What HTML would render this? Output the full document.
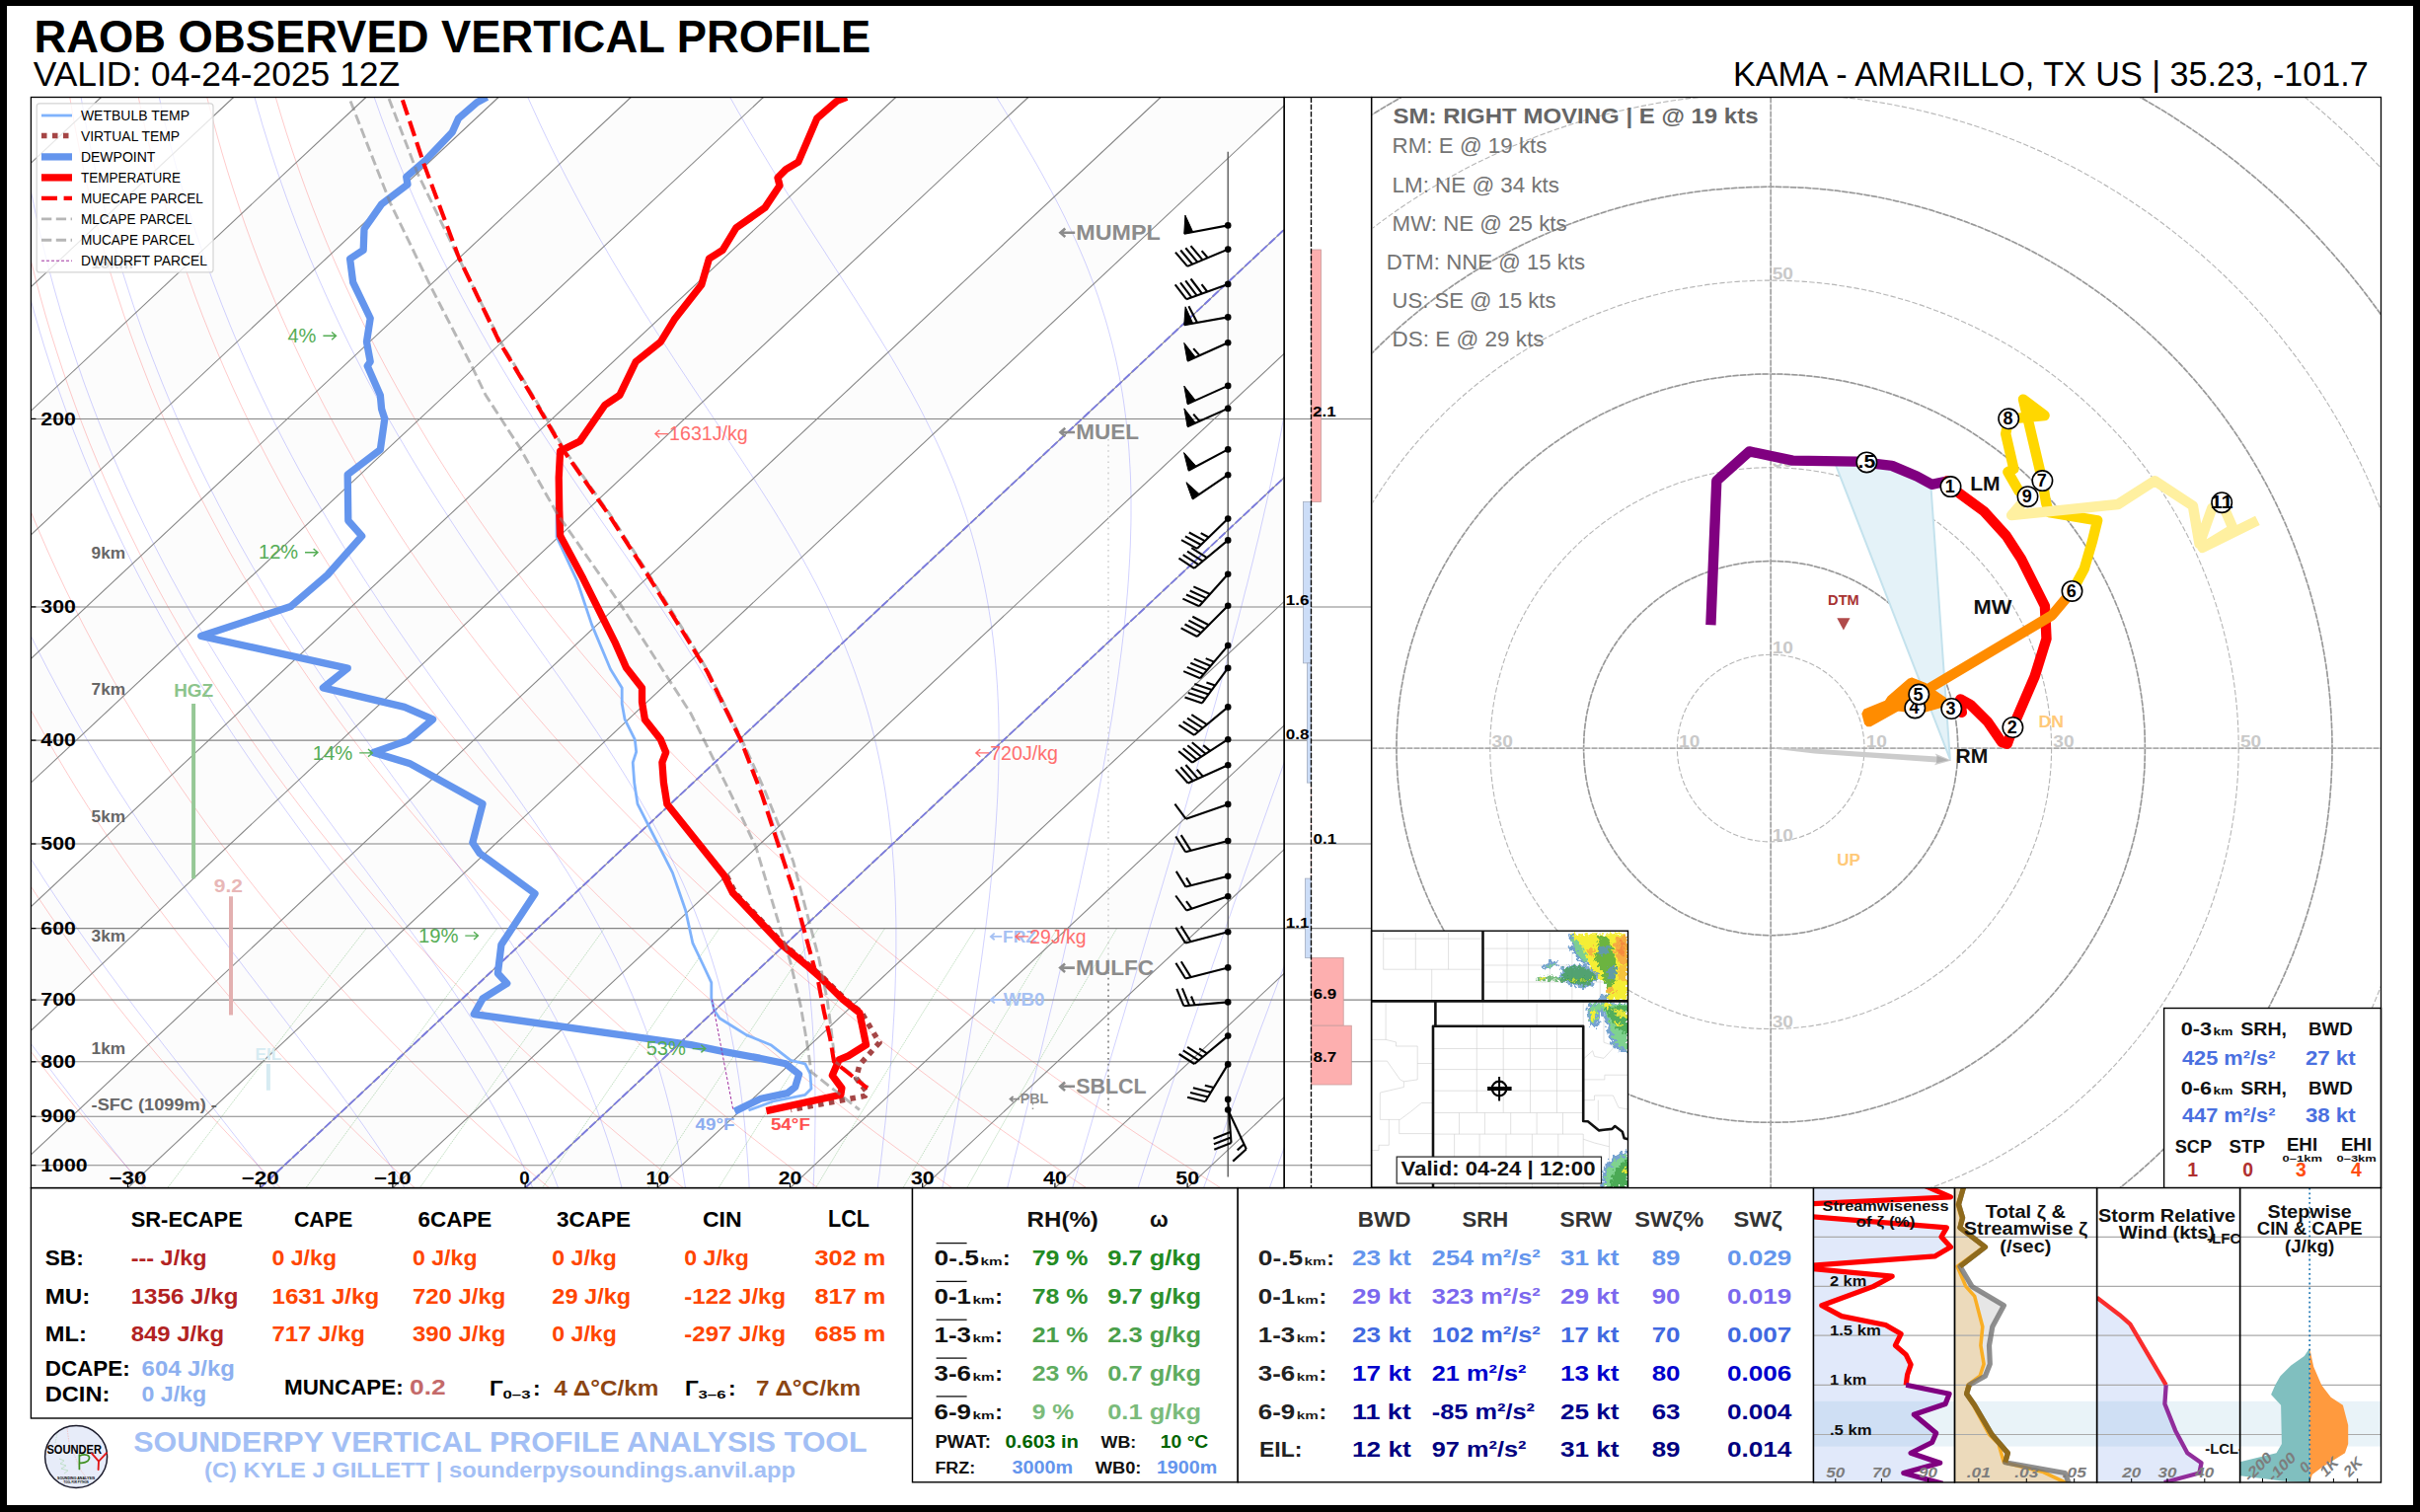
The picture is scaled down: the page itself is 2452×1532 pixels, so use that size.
<!DOCTYPE html>
<html><head><meta charset="utf-8"><title>RAOB Observed Vertical Profile</title>
<style>html,body{margin:0;padding:0;background:#000;}svg{display:block;font-family:"Liberation Sans",sans-serif;}</style></head>
<body>
<svg width="2452" height="1532" viewBox="0 0 2452 1532">
<rect x="0" y="0" width="2452" height="1532" fill="#000" stroke="none" stroke-width="1" />
<rect x="7" y="6" width="2438" height="1519" fill="#fff" stroke="none" stroke-width="1" />
<text x="34.4" y="52.6" font-size="45.8" fill="#000" font-weight="bold" textLength="847.9" lengthAdjust="spacingAndGlyphs" >RAOB OBSERVED VERTICAL PROFILE</text>
<text x="33.7" y="86.8" font-size="35" fill="#000" textLength="371.5" lengthAdjust="spacingAndGlyphs" >VALID: 04-24-2025 12Z</text>
<text x="1755.9" y="86.8" font-size="35" fill="#000" textLength="643.9" lengthAdjust="spacingAndGlyphs" >KAMA - AMARILLO, TX US | 35.23, -101.7</text>
<defs><clipPath id="skc"><rect x="31.4" y="98.5" width="1269.8" height="1105.1"/></clipPath></defs>
<g clip-path="url(#skc)">
<polygon points="-1615.1,1203.6 -434.3,98.5 -300.1,98.5 -1480.9,1203.6" fill="#fcfcfc" stroke="none" stroke-width="1" />
<polygon points="-1346.7,1203.6 -165.9,98.5 -31.7,98.5 -1212.5,1203.6" fill="#fcfcfc" stroke="none" stroke-width="1" />
<polygon points="-1078.3,1203.6 102.5,98.5 236.7,98.5 -944.1,1203.6" fill="#fcfcfc" stroke="none" stroke-width="1" />
<polygon points="-809.9,1203.6 370.9,98.5 505.1,98.5 -675.7,1203.6" fill="#fcfcfc" stroke="none" stroke-width="1" />
<polygon points="-541.5,1203.6 639.3,98.5 773.5,98.5 -407.3,1203.6" fill="#fcfcfc" stroke="none" stroke-width="1" />
<polygon points="-273.1,1203.6 907.7,98.5 1041.9,98.5 -138.9,1203.6" fill="#fcfcfc" stroke="none" stroke-width="1" />
<polygon points="-4.7,1203.6 1176.1,98.5 1310.3,98.5 129.5,1203.6" fill="#fcfcfc" stroke="none" stroke-width="1" />
<polygon points="263.7,1203.6 1444.5,98.5 1578.7,98.5 397.9,1203.6" fill="#fcfcfc" stroke="none" stroke-width="1" />
<polygon points="532.1,1203.6 1712.9,98.5 1847.1,98.5 666.3,1203.6" fill="#fcfcfc" stroke="none" stroke-width="1" />
<polygon points="800.5,1203.6 1981.3,98.5 2115.5,98.5 934.7,1203.6" fill="#fcfcfc" stroke="none" stroke-width="1" />
<polygon points="1068.9,1203.6 2249.7,98.5 2383.9,98.5 1203.1,1203.6" fill="#fcfcfc" stroke="none" stroke-width="1" />
<polyline points="371.2,940.6 362.2,952.2 353.4,963.6 344.9,974.6 336.6,985.4 328.4,996 320.5,1006.3 312.7,1016.4 305.1,1026.3 297.6,1036 290.3,1045.5 283.2,1054.8 276.2,1063.9 269.3,1072.9 262.6,1081.7 256,1090.3 249.5,1098.8 243.2,1107.1 236.9,1115.3 230.8,1123.3 224.8,1131.2 218.9,1138.9 213.1,1146.6 207.3,1154.1 201.7,1161.5 196.2,1168.8 190.7,1176 185.4,1183 180.1,1190 174.9,1196.9 169.7,1203.6" fill="none" stroke="#008000" stroke-width="0.7" opacity="0.35" stroke-dasharray="1.5 0.8"/>
<polyline points="503.7,940.6 495,952.2 486.6,963.6 478.4,974.6 470.3,985.4 462.5,996 454.8,1006.3 447.4,1016.4 440,1026.3 432.9,1036 425.9,1045.5 419,1054.8 412.3,1063.9 405.7,1072.9 399.2,1081.7 392.9,1090.3 386.6,1098.8 380.5,1107.1 374.5,1115.3 368.6,1123.3 362.9,1131.2 357.2,1138.9 351.6,1146.6 346.1,1154.1 340.7,1161.5 335.4,1168.8 330.1,1176 325,1183 319.9,1190 314.9,1196.9 310,1203.6" fill="none" stroke="#008000" stroke-width="0.7" opacity="0.35" stroke-dasharray="1.5 0.8"/>
<polyline points="612.4,940.6 604,952.2 595.8,963.6 587.9,974.6 580.1,985.4 572.5,996 565.1,1006.3 557.9,1016.4 550.8,1026.3 543.9,1036 537.1,1045.5 530.5,1054.8 524,1063.9 517.6,1072.9 511.4,1081.7 505.2,1090.3 499.2,1098.8 493.3,1107.1 487.5,1115.3 481.9,1123.3 476.3,1131.2 470.8,1138.9 465.4,1146.6 460.1,1154.1 454.9,1161.5 449.8,1168.8 444.7,1176 439.8,1183 434.9,1190 430.1,1196.9 425.3,1203.6" fill="none" stroke="#008000" stroke-width="0.7" opacity="0.35" stroke-dasharray="1.5 0.8"/>
<polyline points="729,940.6 721,952.2 713.1,963.6 705.5,974.6 698,985.4 690.7,996 683.6,1006.3 676.6,1016.4 669.8,1026.3 663.2,1036 656.7,1045.5 650.3,1054.8 644,1063.9 637.9,1072.9 631.9,1081.7 626,1090.3 620.3,1098.8 614.6,1107.1 609.1,1115.3 603.6,1123.3 598.3,1131.2 593,1138.9 587.8,1146.6 582.7,1154.1 577.7,1161.5 572.8,1168.8 568,1176 563.2,1183 558.6,1190 554,1196.9 549.4,1203.6" fill="none" stroke="#008000" stroke-width="0.7" opacity="0.35" stroke-dasharray="1.5 0.8"/>
<polyline points="829.5,940.6 821.7,952.2 814.1,963.6 806.8,974.6 799.6,985.4 792.5,996 785.6,1006.3 778.9,1016.4 772.4,1026.3 766,1036 759.7,1045.5 753.5,1054.8 747.5,1063.9 741.6,1072.9 735.9,1081.7 730.2,1090.3 724.6,1098.8 719.2,1107.1 713.8,1115.3 708.6,1123.3 703.4,1131.2 698.4,1138.9 693.4,1146.6 688.5,1154.1 683.7,1161.5 679,1168.8 674.4,1176 669.8,1183 665.3,1190 660.9,1196.9 656.5,1203.6" fill="none" stroke="#008000" stroke-width="0.7" opacity="0.35" stroke-dasharray="1.5 0.8"/>
<polyline points="896.6,940.6 889,952.2 881.6,963.6 874.4,974.6 867.4,985.4 860.5,996 853.8,1006.3 847.3,1016.4 840.9,1026.3 834.6,1036 828.5,1045.5 822.5,1054.8 816.7,1063.9 810.9,1072.9 805.3,1081.7 799.8,1090.3 794.4,1098.8 789.1,1107.1 783.9,1115.3 778.8,1123.3 773.8,1131.2 768.8,1138.9 764,1146.6 759.3,1154.1 754.6,1161.5 750,1168.8 745.5,1176 741,1183 736.6,1190 732.3,1196.9 728.1,1203.6" fill="none" stroke="#008000" stroke-width="0.7" opacity="0.35" stroke-dasharray="1.5 0.8"/>
<polyline points="988.6,940.6 981.3,952.2 974.2,963.6 967.2,974.6 960.5,985.4 953.8,996 947.4,1006.3 941.1,1016.4 934.9,1026.3 928.9,1036 923,1045.5 917.3,1054.8 911.6,1063.9 906.1,1072.9 900.7,1081.7 895.4,1090.3 890.2,1098.8 885.1,1107.1 880.1,1115.3 875.2,1123.3 870.4,1131.2 865.6,1138.9 861,1146.6 856.4,1154.1 851.9,1161.5 847.5,1168.8 843.2,1176 838.9,1183 834.7,1190 830.6,1196.9 826.5,1203.6" fill="none" stroke="#008000" stroke-width="0.7" opacity="0.35" stroke-dasharray="1.5 0.8"/>
<polyline points="1071.3,940.6 1064.2,952.2 1057.3,963.6 1050.6,974.6 1044.1,985.4 1037.7,996 1031.4,1006.3 1025.4,1016.4 1019.4,1026.3 1013.6,1036 1007.9,1045.5 1002.4,1054.8 996.9,1063.9 991.6,1072.9 986.4,1081.7 981.3,1090.3 976.3,1098.8 971.4,1107.1 966.6,1115.3 961.8,1123.3 957.2,1131.2 952.6,1138.9 948.2,1146.6 943.8,1154.1 939.5,1161.5 935.2,1168.8 931,1176 926.9,1183 922.9,1190 918.9,1196.9 915,1203.6" fill="none" stroke="#008000" stroke-width="0.7" opacity="0.35" stroke-dasharray="1.5 0.8"/>
<polyline points="1131.6,940.6 1124.7,952.2 1118,963.6 1111.4,974.6 1105.1,985.4 1098.9,996 1092.8,1006.3 1086.9,1016.4 1081.1,1026.3 1075.5,1036 1069.9,1045.5 1064.5,1054.8 1059.2,1063.9 1054.1,1072.9 1049,1081.7 1044,1090.3 1039.2,1098.8 1034.4,1107.1 1029.7,1115.3 1025.1,1123.3 1020.6,1131.2 1016.2,1138.9 1011.9,1146.6 1007.6,1154.1 1003.4,1161.5 999.3,1168.8 995.2,1176 991.3,1183 987.4,1190 983.5,1196.9 979.7,1203.6" fill="none" stroke="#008000" stroke-width="0.7" opacity="0.35" stroke-dasharray="1.5 0.8"/>
<polyline points="-346.2,98.7 -347.8,117.1 -349.2,135.5 -350.4,153.9 -351.4,172.3 -352.1,190.7 -352.7,209.2 -353,227.6 -353.1,246 -353,264.4 -352.7,282.8 -352.1,301.2 -351.3,319.7 -350.3,338.1 -349.1,356.5 -347.6,374.9 -345.8,393.3 -343.9,411.7 -341.7,430.1 -339.2,448.6 -336.5,467 -333.6,485.4 -330.4,503.8 -326.9,522.2 -323.2,540.6 -319.2,559.1 -314.9,577.5 -310.4,595.9 -305.6,614.3 -300.5,632.7 -295.2,651.1 -289.5,669.6 -283.6,688 -277.4,706.4 -270.9,724.8 -264.1,743.2 -257,761.6 -249.6,780.1 -241.9,798.5 -233.9,816.9 -225.6,835.3 -216.9,853.7 -208,872.1 -198.7,890.5 -189.1,909 -179.2,927.4 -168.9,945.8 -158.3,964.2 -147.4,982.6 -136.1,1001 -124.4,1019.5 -112.5,1037.9 -100.1,1056.3 -87.4,1074.7 -74.3,1093.1 -60.9,1111.5 -47.1,1130 -32.9,1148.4 -18.3,1166.8 -3.4,1185.2 12,1203.6" fill="none" stroke="#ff0000" stroke-width="0.7" opacity="0.3"/>
<polyline points="-276.7,98.7 -277.5,117.1 -278.1,135.5 -278.5,153.9 -278.7,172.3 -278.6,190.7 -278.3,209.2 -277.8,227.6 -277.1,246 -276.1,264.4 -274.9,282.8 -273.5,301.2 -271.8,319.7 -269.9,338.1 -267.7,356.5 -265.3,374.9 -262.7,393.3 -259.8,411.7 -256.6,430.1 -253.2,448.6 -249.6,467 -245.6,485.4 -241.4,503.8 -237,522.2 -232.2,540.6 -227.2,559.1 -221.9,577.5 -216.3,595.9 -210.5,614.3 -204.3,632.7 -197.9,651.1 -191.2,669.6 -184.1,688 -176.8,706.4 -169.2,724.8 -161.2,743.2 -153,761.6 -144.4,780.1 -135.5,798.5 -126.3,816.9 -116.8,835.3 -106.9,853.7 -96.7,872.1 -86.2,890.5 -75.3,909 -64.1,927.4 -52.6,945.8 -40.7,964.2 -28.4,982.6 -15.8,1001 -2.8,1019.5 10.6,1037.9 24.3,1056.3 38.4,1074.7 52.9,1093.1 67.8,1111.5 83,1130 98.7,1148.4 114.8,1166.8 131.2,1185.2 148.1,1203.6" fill="none" stroke="#ff0000" stroke-width="0.7" opacity="0.3"/>
<polyline points="-207.2,98.7 -207.2,117.1 -207,135.5 -206.6,153.9 -206,172.3 -205.1,190.7 -204,209.2 -202.6,227.6 -201.1,246 -199.2,264.4 -197.2,282.8 -194.9,301.2 -192.3,319.7 -189.5,338.1 -186.4,356.5 -183.1,374.9 -179.6,393.3 -175.7,411.7 -171.6,430.1 -167.2,448.6 -162.6,467 -157.7,485.4 -152.5,503.8 -147,522.2 -141.3,540.6 -135.2,559.1 -128.9,577.5 -122.3,595.9 -115.4,614.3 -108.2,632.7 -100.6,651.1 -92.8,669.6 -84.7,688 -76.2,706.4 -67.5,724.8 -58.4,743.2 -49,761.6 -39.2,780.1 -29.2,798.5 -18.8,816.9 -8,835.3 3.1,853.7 14.5,872.1 26.3,890.5 38.4,909 50.9,927.4 63.8,945.8 77,964.2 90.6,982.6 104.5,1001 118.9,1019.5 133.6,1037.9 148.7,1056.3 164.2,1074.7 180.2,1093.1 196.5,1111.5 213.2,1130 230.3,1148.4 247.8,1166.8 265.8,1185.2 284.2,1203.6" fill="none" stroke="#ff0000" stroke-width="0.7" opacity="0.3"/>
<polyline points="-137.7,98.7 -137,117.1 -136,135.5 -134.7,153.9 -133.3,172.3 -131.6,190.7 -129.6,209.2 -127.5,227.6 -125,246 -122.4,264.4 -119.4,282.8 -116.2,301.2 -112.8,319.7 -109.1,338.1 -105.1,356.5 -100.9,374.9 -96.4,393.3 -91.6,411.7 -86.6,430.1 -81.3,448.6 -75.7,467 -69.8,485.4 -63.6,503.8 -57.1,522.2 -50.3,540.6 -43.3,559.1 -35.9,577.5 -28.2,595.9 -20.3,614.3 -12,632.7 -3.4,651.1 5.5,669.6 14.8,688 24.4,706.4 34.2,724.8 44.5,743.2 55,761.6 66,780.1 77.2,798.5 88.8,816.9 100.8,835.3 113.1,853.7 125.7,872.1 138.8,890.5 152.2,909 166,927.4 180.1,945.8 194.6,964.2 209.6,982.6 224.9,1001 240.6,1019.5 256.7,1037.9 273.2,1056.3 290.1,1074.7 307.4,1093.1 325.1,1111.5 343.3,1130 361.9,1148.4 380.9,1166.8 400.3,1185.2 420.2,1203.6" fill="none" stroke="#ff0000" stroke-width="0.7" opacity="0.3"/>
<polyline points="-68.2,98.7 -66.7,117.1 -64.9,135.5 -62.9,153.9 -60.6,172.3 -58.1,190.7 -55.3,209.2 -52.3,227.6 -49,246 -45.5,264.4 -41.7,282.8 -37.6,301.2 -33.3,319.7 -28.7,338.1 -23.8,356.5 -18.7,374.9 -13.3,393.3 -7.5,411.7 -1.6,430.1 4.7,448.6 11.3,467 18.2,485.4 25.3,503.8 32.8,522.2 40.6,540.6 48.7,559.1 57.1,577.5 65.8,595.9 74.8,614.3 84.2,632.7 93.9,651.1 103.9,669.6 114.2,688 124.9,706.4 136,724.8 147.3,743.2 159.1,761.6 171.1,780.1 183.6,798.5 196.4,816.9 209.5,835.3 223.1,853.7 237,872.1 251.3,890.5 265.9,909 281,927.4 296.4,945.8 312.3,964.2 328.5,982.6 345.2,1001 362.2,1019.5 379.7,1037.9 397.6,1056.3 415.9,1074.7 434.6,1093.1 453.8,1111.5 473.4,1130 493.5,1148.4 514,1166.8 534.9,1185.2 556.3,1203.6" fill="none" stroke="#ff0000" stroke-width="0.7" opacity="0.3"/>
<polyline points="1.3,98.7 3.6,117.1 6.2,135.5 9,153.9 12.1,172.3 15.4,190.7 19,209.2 22.9,227.6 27,246 31.4,264.4 36.1,282.8 41,301.2 46.2,319.7 51.7,338.1 57.5,356.5 63.5,374.9 69.9,393.3 76.5,411.7 83.5,430.1 90.7,448.6 98.3,467 106.1,485.4 114.3,503.8 122.7,522.2 131.5,540.6 140.6,559.1 150.1,577.5 159.8,595.9 169.9,614.3 180.4,632.7 191.1,651.1 202.2,669.6 213.7,688 225.5,706.4 237.7,724.8 250.2,743.2 263.1,761.6 276.3,780.1 290,798.5 303.9,816.9 318.3,835.3 333.1,853.7 348.2,872.1 363.8,890.5 379.7,909 396,927.4 412.8,945.8 429.9,964.2 447.5,982.6 465.5,1001 483.9,1019.5 502.7,1037.9 522,1056.3 541.7,1074.7 561.9,1093.1 582.5,1111.5 603.5,1130 625.1,1148.4 647,1166.8 669.5,1185.2 692.4,1203.6" fill="none" stroke="#ff0000" stroke-width="0.7" opacity="0.3"/>
<polyline points="70.8,98.7 73.9,117.1 77.3,135.5 80.9,153.9 84.8,172.3 89,190.7 93.4,209.2 98.1,227.6 103,246 108.3,264.4 113.8,282.8 119.6,301.2 125.7,319.7 132.1,338.1 138.8,356.5 145.8,374.9 153,393.3 160.6,411.7 168.5,430.1 176.7,448.6 185.2,467 194,485.4 203.2,503.8 212.7,522.2 222.5,540.6 232.6,559.1 243.1,577.5 253.9,595.9 265,614.3 276.5,632.7 288.4,651.1 300.6,669.6 313.2,688 326.1,706.4 339.4,724.8 353.1,743.2 367.1,761.6 381.5,780.1 396.3,798.5 411.5,816.9 427.1,835.3 443.1,853.7 459.5,872.1 476.3,890.5 493.5,909 511.1,927.4 529.1,945.8 547.6,964.2 566.5,982.6 585.8,1001 605.6,1019.5 625.8,1037.9 646.4,1056.3 667.5,1074.7 689.1,1093.1 711.2,1111.5 733.7,1130 756.6,1148.4 780.1,1166.8 804,1185.2 828.5,1203.6" fill="none" stroke="#ff0000" stroke-width="0.7" opacity="0.3"/>
<polyline points="140.3,98.7 144.2,117.1 148.4,135.5 152.8,153.9 157.5,172.3 162.5,190.7 167.7,209.2 173.2,227.6 179.1,246 185.2,264.4 191.6,282.8 198.2,301.2 205.2,319.7 212.5,338.1 220.1,356.5 228,374.9 236.2,393.3 244.7,411.7 253.5,430.1 262.7,448.6 272.2,467 282,485.4 292.1,503.8 302.6,522.2 313.4,540.6 324.6,559.1 336.1,577.5 347.9,595.9 360.1,614.3 372.7,632.7 385.6,651.1 399,669.6 412.6,688 426.7,706.4 441.1,724.8 455.9,743.2 471.1,761.6 486.7,780.1 502.7,798.5 519.1,816.9 535.9,835.3 553.1,853.7 570.7,872.1 588.8,890.5 607.2,909 626.1,927.4 645.5,945.8 665.2,964.2 685.5,982.6 706.1,1001 727.2,1019.5 748.8,1037.9 770.9,1056.3 793.4,1074.7 816.4,1093.1 839.8,1111.5 863.8,1130 888.2,1148.4 913.2,1166.8 938.6,1185.2 964.6,1203.6" fill="none" stroke="#ff0000" stroke-width="0.7" opacity="0.3"/>
<polyline points="209.8,98.7 214.5,117.1 219.5,135.5 224.7,153.9 230.2,172.3 236,190.7 242.1,209.2 248.4,227.6 255.1,246 262,264.4 269.3,282.8 276.9,301.2 284.7,319.7 292.9,338.1 301.4,356.5 310.2,374.9 319.3,393.3 328.8,411.7 338.6,430.1 348.7,448.6 359.1,467 369.9,485.4 381,503.8 392.5,522.2 404.3,540.6 416.5,559.1 429.1,577.5 442,595.9 455.2,614.3 468.9,632.7 482.9,651.1 497.3,669.6 512.1,688 527.3,706.4 542.8,724.8 558.8,743.2 575.1,761.6 591.9,780.1 609.1,798.5 626.7,816.9 644.7,835.3 663.1,853.7 682,872.1 701.3,890.5 721,909 741.2,927.4 761.8,945.8 782.9,964.2 804.4,982.6 826.4,1001 848.9,1019.5 871.9,1037.9 895.3,1056.3 919.2,1074.7 943.6,1093.1 968.5,1111.5 993.9,1130 1019.8,1148.4 1046.2,1166.8 1073.2,1185.2 1100.7,1203.6" fill="none" stroke="#ff0000" stroke-width="0.7" opacity="0.3"/>
<polyline points="279.3,98.7 284.8,117.1 290.5,135.5 296.6,153.9 302.9,172.3 309.5,190.7 316.4,209.2 323.6,227.6 331.1,246 338.9,264.4 347,282.8 355.5,301.2 364.2,319.7 373.3,338.1 382.7,356.5 392.4,374.9 402.5,393.3 412.9,411.7 423.6,430.1 434.7,448.6 446.1,467 457.8,485.4 470,503.8 482.4,522.2 495.3,540.6 508.5,559.1 522.1,577.5 536,595.9 550.4,614.3 565.1,632.7 580.2,651.1 595.7,669.6 611.5,688 627.8,706.4 644.5,724.8 661.6,743.2 679.1,761.6 697.1,780.1 715.4,798.5 734.2,816.9 753.4,835.3 773.1,853.7 793.2,872.1 813.8,890.5 834.8,909 856.2,927.4 878.1,945.8 900.5,964.2 923.4,982.6 946.7,1001 970.6,1019.5 994.9,1037.9 1019.7,1056.3 1045,1074.7 1070.8,1093.1 1097.2,1111.5 1124,1130 1151.4,1148.4 1179.3,1166.8 1207.8,1185.2 1236.7,1203.6" fill="none" stroke="#ff0000" stroke-width="0.7" opacity="0.3"/>
<polyline points="11,1203.6 8,1199.8 4.9,1196 1.9,1192.2 -1.1,1188.3 -4.1,1184.5 -7.1,1180.7 -12.3,1173.9 -17.5,1167.2 -22.7,1160.4 -27.9,1153.6 -33,1146.9 -38.1,1140.1 -43.1,1133.4 -48.1,1126.6 -53.1,1119.8 -58,1113.1 -62.9,1106.3 -67.8,1099.5 -72.6,1092.8 -77.3,1086 -82.1,1079.3 -86.8,1072.5 -91.4,1065.7 -96,1059 -100.5,1052.2 -105,1045.4 -109.5,1038.7 -113.9,1031.9 -118.3,1025.2 -122.6,1018.4 -126.9,1011.6 -131.2,1004.9 -135.4,998.1 -139.5,991.3 -143.6,984.6 -147.7,977.8 -151.7,971 -155.7,964.3 -159.6,957.5 -163.5,950.8 -167.3,944 -171.1,937.2 -174.9,930.5 -178.6,923.7 -182.2,916.9 -185.9,910.2 -189.4,903.4 -193,896.7 -196.5,889.9 -199.9,883.1 -203.3,876.4 -206.7,869.6 -210,862.8 -213.3,856.1 -216.5,849.3 -219.7,842.6 -222.8,835.8 -225.9,829 -229,822.3 -232,815.5 -235,808.7 -237.9,802 -240.8,795.2 -243.7,788.5 -246.5,781.7 -249.2,774.9 -252,768.2 -254.7,761.4 -257.3,754.6 -259.9,747.9 -262.5,741.1 -265,734.4 -267.5,727.6 -269.9,720.8 -272.4,714.1 -274.7,707.3 -277.1,700.5 -279.3,693.8 -281.6,687 -283.8,680.3 -286,673.5 -288.1,666.7 -290.2,660 -292.3,653.2 -294.3,646.4 -296.3,639.7 -298.2,632.9 -300.1,626.2 -302,619.4 -303.8,612.6 -305.6,605.9 -307.4,599.1 -309.1,592.3 -310.8,585.6 -312.4,578.8 -314,572.1 -315.6,565.3 -317.1,558.5 -318.6,551.8 -320.1,545 -321.5,538.2 -322.9,531.5 -324.3,524.7 -325.6,517.9 -326.9,511.2 -328.2,504.4 -329.4,497.7 -330.6,490.9 -331.7,484.1 -332.8,477.4 -333.9,470.6 -335,463.8 -336,457.1 -337,450.3 -337.9,443.6 -338.8,436.8 -339.7,430 -340.5,423.3 -341.4,416.5 -342.1,409.7 -342.9,403 -343.6,396.2 -344.3,389.5 -344.9,382.7 -345.5,375.9 -346.1,369.2 -346.7,362.4 -347.2,355.6 -347.7,348.9 -348.2,342.1 -348.6,335.4 -349,328.6 -349.3,321.8 -349.7,315.1 -350,308.3 -350.2,301.5 -350.5,294.8 -350.7,288 -350.9,281.3 -351,274.5 -351.1,267.7 -351.2,261 -351.3,254.2 -351.3,247.4 -351.3,240.7 -351.3,233.9 -351.2,227.2 -351.1,220.4 -351,213.6 -350.9,206.9 -350.7,200.1 -350.5,193.3 -350.2,186.6 -350,179.8 -349.7,173.1 -349.4,166.3 -349,159.5 -348.6,152.8 -348.2,146 -347.8,139.2 -347.3,132.5 -346.8,125.7 -346.3,118.9 -345.8,112.2 -345.2,105.4 -344.6,98.7" fill="none" stroke="#0000ff" stroke-width="0.7" opacity="0.26"/>
<polyline points="145.6,1203.6 142.5,1199.8 139.4,1196 136.4,1192.2 133.3,1188.3 130.2,1184.5 127.1,1180.7 121.7,1173.9 116.3,1167.2 110.9,1160.4 105.5,1153.6 100.1,1146.9 94.8,1140.1 89.4,1133.4 84.1,1126.6 78.8,1119.8 73.5,1113.1 68.3,1106.3 63.1,1099.5 57.9,1092.8 52.8,1086 47.7,1079.3 42.6,1072.5 37.5,1065.7 32.5,1059 27.6,1052.2 22.6,1045.4 17.7,1038.7 12.9,1031.9 8.1,1025.2 3.3,1018.4 -1.5,1011.6 -6.2,1004.9 -10.8,998.1 -15.4,991.3 -20,984.6 -24.5,977.8 -29,971 -33.5,964.3 -37.9,957.5 -42.2,950.8 -46.5,944 -50.8,937.2 -55,930.5 -59.2,923.7 -63.3,916.9 -67.4,910.2 -71.5,903.4 -75.5,896.7 -79.4,889.9 -83.4,883.1 -87.2,876.4 -91,869.6 -94.8,862.8 -98.6,856.1 -102.3,849.3 -105.9,842.6 -109.5,835.8 -113.1,829 -116.6,822.3 -120.1,815.5 -123.5,808.7 -126.9,802 -130.2,795.2 -133.5,788.5 -136.8,781.7 -140,774.9 -143.2,768.2 -146.3,761.4 -149.4,754.6 -152.5,747.9 -155.5,741.1 -158.4,734.4 -161.4,727.6 -164.3,720.8 -167.1,714.1 -169.9,707.3 -172.6,700.5 -175.4,693.8 -178,687 -180.7,680.3 -183.3,673.5 -185.8,666.7 -188.3,660 -190.8,653.2 -193.3,646.4 -195.6,639.7 -198,632.9 -200.3,626.2 -202.6,619.4 -204.8,612.6 -207,605.9 -209.2,599.1 -211.3,592.3 -213.4,585.6 -215.5,578.8 -217.5,572.1 -219.4,565.3 -221.4,558.5 -223.3,551.8 -225.1,545 -226.9,538.2 -228.7,531.5 -230.5,524.7 -232.2,517.9 -233.9,511.2 -235.5,504.4 -237.1,497.7 -238.7,490.9 -240.2,484.1 -241.7,477.4 -243.1,470.6 -244.5,463.8 -245.9,457.1 -247.3,450.3 -248.6,443.6 -249.9,436.8 -251.1,430 -252.3,423.3 -253.5,416.5 -254.6,409.7 -255.8,403 -256.8,396.2 -257.9,389.5 -258.9,382.7 -259.8,375.9 -260.8,369.2 -261.7,362.4 -262.5,355.6 -263.4,348.9 -264.2,342.1 -265,335.4 -265.7,328.6 -266.4,321.8 -267.1,315.1 -267.7,308.3 -268.3,301.5 -268.9,294.8 -269.4,288 -270,281.3 -270.4,274.5 -270.9,267.7 -271.3,261 -271.7,254.2 -272,247.4 -272.4,240.7 -272.7,233.9 -272.9,227.2 -273.2,220.4 -273.4,213.6 -273.5,206.9 -273.7,200.1 -273.8,193.3 -273.8,186.6 -273.9,179.8 -273.9,173.1 -273.9,166.3 -273.9,159.5 -273.8,152.8 -273.7,146 -273.6,139.2 -273.4,132.5 -273.2,125.7 -273,118.9 -272.8,112.2 -272.5,105.4 -272.2,98.7" fill="none" stroke="#0000ff" stroke-width="0.7" opacity="0.26"/>
<polyline points="278.8,1203.6 275.9,1199.8 273,1196 270.1,1192.2 267.2,1188.3 264.3,1184.5 261.3,1180.7 256.1,1173.9 250.9,1167.2 245.6,1160.4 240.3,1153.6 235,1146.9 229.7,1140.1 224.4,1133.4 219.1,1126.6 213.8,1119.8 208.4,1113.1 203.1,1106.3 197.8,1099.5 192.4,1092.8 187.1,1086 181.8,1079.3 176.5,1072.5 171.2,1065.7 165.9,1059 160.7,1052.2 155.5,1045.4 150.3,1038.7 145.1,1031.9 139.9,1025.2 134.8,1018.4 129.7,1011.6 124.6,1004.9 119.6,998.1 114.6,991.3 109.6,984.6 104.7,977.8 99.8,971 94.9,964.3 90.1,957.5 85.3,950.8 80.5,944 75.8,937.2 71.1,930.5 66.5,923.7 61.9,916.9 57.3,910.2 52.8,903.4 48.4,896.7 43.9,889.9 39.6,883.1 35.2,876.4 30.9,869.6 26.7,862.8 22.4,856.1 18.3,849.3 14.2,842.6 10.1,835.8 6,829 2,822.3 -1.9,815.5 -5.8,808.7 -9.7,802 -13.5,795.2 -17.3,788.5 -21,781.7 -24.7,774.9 -28.3,768.2 -31.9,761.4 -35.5,754.6 -39,747.9 -42.4,741.1 -45.9,734.4 -49.2,727.6 -52.6,720.8 -55.9,714.1 -59.1,707.3 -62.3,700.5 -65.5,693.8 -68.6,687 -71.7,680.3 -74.8,673.5 -77.8,666.7 -80.7,660 -83.6,653.2 -86.5,646.4 -89.3,639.7 -92.1,632.9 -94.9,626.2 -97.6,619.4 -100.3,612.6 -102.9,605.9 -105.5,599.1 -108,592.3 -110.5,585.6 -113,578.8 -115.4,572.1 -117.8,565.3 -120.2,558.5 -122.5,551.8 -124.7,545 -127,538.2 -129.2,531.5 -131.3,524.7 -133.4,517.9 -135.5,511.2 -137.6,504.4 -139.6,497.7 -141.5,490.9 -143.5,484.1 -145.3,477.4 -147.2,470.6 -149,463.8 -150.8,457.1 -152.5,450.3 -154.2,443.6 -155.9,436.8 -157.5,430 -159.1,423.3 -160.7,416.5 -162.2,409.7 -163.7,403 -165.1,396.2 -166.5,389.5 -167.9,382.7 -169.3,375.9 -170.6,369.2 -171.9,362.4 -173.1,355.6 -174.3,348.9 -175.5,342.1 -176.6,335.4 -177.7,328.6 -178.8,321.8 -179.8,315.1 -180.8,308.3 -181.8,301.5 -182.7,294.8 -183.6,288 -184.5,281.3 -185.3,274.5 -186.1,267.7 -186.8,261 -187.6,254.2 -188.3,247.4 -188.9,240.7 -189.6,233.9 -190.2,227.2 -190.8,220.4 -191.3,213.6 -191.8,206.9 -192.3,200.1 -192.7,193.3 -193.1,186.6 -193.5,179.8 -193.9,173.1 -194.2,166.3 -194.5,159.5 -194.7,152.8 -194.9,146 -195.1,139.2 -195.3,132.5 -195.4,125.7 -195.5,118.9 -195.6,112.2 -195.7,105.4 -195.7,98.7" fill="none" stroke="#0000ff" stroke-width="0.7" opacity="0.26"/>
<polyline points="410.1,1203.6 407.7,1199.8 405.3,1196 402.9,1192.2 400.5,1188.3 398,1184.5 395.5,1180.7 391.1,1173.9 386.6,1167.2 382,1160.4 377.4,1153.6 372.7,1146.9 368,1140.1 363.2,1133.4 358.4,1126.6 353.5,1119.8 348.6,1113.1 343.7,1106.3 338.7,1099.5 333.6,1092.8 328.6,1086 323.5,1079.3 318.4,1072.5 313.2,1065.7 308.1,1059 302.9,1052.2 297.7,1045.4 292.5,1038.7 287.3,1031.9 282.1,1025.2 276.9,1018.4 271.7,1011.6 266.4,1004.9 261.2,998.1 256,991.3 250.8,984.6 245.7,977.8 240.5,971 235.3,964.3 230.2,957.5 225.1,950.8 220,944 214.9,937.2 209.9,930.5 204.9,923.7 199.9,916.9 195,910.2 190,903.4 185.1,896.7 180.3,889.9 175.5,883.1 170.7,876.4 165.9,869.6 161.2,862.8 156.5,856.1 151.9,849.3 147.3,842.6 142.7,835.8 138.2,829 133.7,822.3 129.3,815.5 124.9,808.7 120.5,802 116.2,795.2 112,788.5 107.7,781.7 103.6,774.9 99.4,768.2 95.3,761.4 91.3,754.6 87.3,747.9 83.3,741.1 79.4,734.4 75.5,727.6 71.6,720.8 67.9,714.1 64.1,707.3 60.4,700.5 56.7,693.8 53.1,687 49.5,680.3 46,673.5 42.5,666.7 39.1,660 35.7,653.2 32.3,646.4 29,639.7 25.7,632.9 22.5,626.2 19.3,619.4 16.2,612.6 13.1,605.9 10,599.1 7,592.3 4,585.6 1.1,578.8 -1.8,572.1 -4.7,565.3 -7.5,558.5 -10.3,551.8 -13,545 -15.7,538.2 -18.3,531.5 -21,524.7 -23.5,517.9 -26,511.2 -28.5,504.4 -31,497.7 -33.4,490.9 -35.8,484.1 -38.1,477.4 -40.4,470.6 -42.6,463.8 -44.9,457.1 -47,450.3 -49.2,443.6 -51.3,436.8 -53.3,430 -55.3,423.3 -57.3,416.5 -59.3,409.7 -61.2,403 -63,396.2 -64.9,389.5 -66.7,382.7 -68.4,375.9 -70.2,369.2 -71.8,362.4 -73.5,355.6 -75.1,348.9 -76.7,342.1 -78.2,335.4 -79.7,328.6 -81.2,321.8 -82.6,315.1 -84,308.3 -85.4,301.5 -86.7,294.8 -88,288 -89.3,281.3 -90.5,274.5 -91.7,267.7 -92.8,261 -93.9,254.2 -95,247.4 -96.1,240.7 -97.1,233.9 -98.1,227.2 -99,220.4 -99.9,213.6 -100.8,206.9 -101.7,200.1 -102.5,193.3 -103.3,186.6 -104,179.8 -104.7,173.1 -105.4,166.3 -106.1,159.5 -106.7,152.8 -107.3,146 -107.8,139.2 -108.3,132.5 -108.8,125.7 -109.3,118.9 -109.7,112.2 -110.1,105.4 -110.5,98.7" fill="none" stroke="#0000ff" stroke-width="0.7" opacity="0.26"/>
<polyline points="539.8,1203.6 538.1,1199.8 536.5,1196 534.9,1192.2 533.2,1188.3 531.5,1184.5 529.7,1180.7 526.6,1173.9 523.4,1167.2 520.2,1160.4 516.8,1153.6 513.4,1146.9 509.9,1140.1 506.3,1133.4 502.7,1126.6 499,1119.8 495.2,1113.1 491.3,1106.3 487.4,1099.5 483.4,1092.8 479.3,1086 475.1,1079.3 470.9,1072.5 466.6,1065.7 462.3,1059 457.9,1052.2 453.4,1045.4 448.9,1038.7 444.3,1031.9 439.7,1025.2 435,1018.4 430.3,1011.6 425.5,1004.9 420.7,998.1 415.8,991.3 410.9,984.6 406,977.8 401.1,971 396.1,964.3 391.1,957.5 386.1,950.8 381,944 376,937.2 370.9,930.5 365.8,923.7 360.7,916.9 355.7,910.2 350.6,903.4 345.5,896.7 340.4,889.9 335.3,883.1 330.3,876.4 325.2,869.6 320.2,862.8 315.2,856.1 310.2,849.3 305.2,842.6 300.2,835.8 295.3,829 290.4,822.3 285.5,815.5 280.6,808.7 275.8,802 271,795.2 266.3,788.5 261.5,781.7 256.8,774.9 252.2,768.2 247.6,761.4 243,754.6 238.4,747.9 233.9,741.1 229.5,734.4 225,727.6 220.6,720.8 216.3,714.1 212,707.3 207.7,700.5 203.5,693.8 199.3,687 195.2,680.3 191.1,673.5 187,666.7 183,660 179.1,653.2 175.1,646.4 171.2,639.7 167.4,632.9 163.6,626.2 159.9,619.4 156.1,612.6 152.5,605.9 148.9,599.1 145.3,592.3 141.7,585.6 138.2,578.8 134.8,572.1 131.4,565.3 128,558.5 124.7,551.8 121.4,545 118.2,538.2 115,531.5 111.8,524.7 108.7,517.9 105.7,511.2 102.6,504.4 99.6,497.7 96.7,490.9 93.8,484.1 90.9,477.4 88.1,470.6 85.3,463.8 82.6,457.1 79.9,450.3 77.3,443.6 74.6,436.8 72.1,430 69.5,423.3 67,416.5 64.6,409.7 62.2,403 59.8,396.2 57.4,389.5 55.1,382.7 52.9,375.9 50.7,369.2 48.5,362.4 46.3,355.6 44.2,348.9 42.2,342.1 40.1,335.4 38.2,328.6 36.2,321.8 34.3,315.1 32.4,308.3 30.6,301.5 28.8,294.8 27,288 25.3,281.3 23.6,274.5 21.9,267.7 20.3,261 18.7,254.2 17.2,247.4 15.7,240.7 14.2,233.9 12.8,227.2 11.4,220.4 10,213.6 8.7,206.9 7.4,200.1 6.1,193.3 4.9,186.6 3.7,179.8 2.5,173.1 1.4,166.3 0.3,159.5 -0.7,152.8 -1.8,146 -2.8,139.2 -3.7,132.5 -4.6,125.7 -5.5,118.9 -6.4,112.2 -7.2,105.4 -8,98.7" fill="none" stroke="#0000ff" stroke-width="0.7" opacity="0.26"/>
<polyline points="565.6,1203.6 564.1,1199.8 562.7,1196 561.2,1192.2 559.7,1188.3 558.1,1184.5 556.6,1180.7 553.8,1173.9 550.9,1167.2 547.9,1160.4 544.9,1153.6 541.8,1146.9 538.6,1140.1 535.4,1133.4 532,1126.6 528.6,1119.8 525.1,1113.1 521.6,1106.3 517.9,1099.5 514.2,1092.8 510.4,1086 506.6,1079.3 502.6,1072.5 498.6,1065.7 494.6,1059 490.4,1052.2 486.2,1045.4 481.9,1038.7 477.6,1031.9 473.2,1025.2 468.8,1018.4 464.2,1011.6 459.7,1004.9 455.1,998.1 450.4,991.3 445.7,984.6 440.9,977.8 436.1,971 431.3,964.3 426.4,957.5 421.5,950.8 416.6,944 411.6,937.2 406.6,930.5 401.6,923.7 396.6,916.9 391.6,910.2 386.5,903.4 381.5,896.7 376.4,889.9 371.4,883.1 366.3,876.4 361.2,869.6 356.2,862.8 351.2,856.1 346.1,849.3 341.1,842.6 336.1,835.8 331.1,829 326.2,822.3 321.2,815.5 316.3,808.7 311.4,802 306.5,795.2 301.7,788.5 296.9,781.7 292.1,774.9 287.4,768.2 282.6,761.4 278,754.6 273.3,747.9 268.7,741.1 264.1,734.4 259.6,727.6 255.1,720.8 250.6,714.1 246.2,707.3 241.8,700.5 237.5,693.8 233.2,687 228.9,680.3 224.7,673.5 220.5,666.7 216.4,660 212.3,653.2 208.2,646.4 204.2,639.7 200.3,632.9 196.3,626.2 192.4,619.4 188.6,612.6 184.8,605.9 181.1,599.1 177.4,592.3 173.7,585.6 170.1,578.8 166.5,572.1 163,565.3 159.5,558.5 156,551.8 152.6,545 149.3,538.2 145.9,531.5 142.7,524.7 139.4,517.9 136.2,511.2 133.1,504.4 130,497.7 126.9,490.9 123.9,484.1 120.9,477.4 118,470.6 115.1,463.8 112.2,457.1 109.4,450.3 106.6,443.6 103.9,436.8 101.2,430 98.5,423.3 95.9,416.5 93.3,409.7 90.8,403 88.3,396.2 85.8,389.5 83.4,382.7 81.1,375.9 78.7,369.2 76.4,362.4 74.2,355.6 72,348.9 69.8,342.1 67.6,335.4 65.5,328.6 63.5,321.8 61.4,315.1 59.5,308.3 57.5,301.5 55.6,294.8 53.7,288 51.9,281.3 50.1,274.5 48.3,267.7 46.6,261 44.9,254.2 43.2,247.4 41.6,240.7 40,233.9 38.5,227.2 37,220.4 35.5,213.6 34.1,206.9 32.7,200.1 31.3,193.3 30,186.6 28.7,179.8 27.4,173.1 26.2,166.3 25,159.5 23.8,152.8 22.7,146 21.6,139.2 20.6,132.5 19.6,125.7 18.6,118.9 17.6,112.2 16.7,105.4 15.8,98.7" fill="none" stroke="#0000ff" stroke-width="0.7" opacity="0.26"/>
<polyline points="630,1203.6 629,1199.8 628,1196 626.9,1192.2 625.9,1188.3 624.8,1184.5 623.7,1180.7 621.7,1173.9 619.6,1167.2 617.5,1160.4 615.3,1153.6 613,1146.9 610.6,1140.1 608.2,1133.4 605.7,1126.6 603.2,1119.8 600.5,1113.1 597.8,1106.3 595,1099.5 592.2,1092.8 589.2,1086 586.2,1079.3 583.1,1072.5 580,1065.7 576.7,1059 573.4,1052.2 570,1045.4 566.5,1038.7 563,1031.9 559.4,1025.2 555.7,1018.4 551.9,1011.6 548,1004.9 544.1,998.1 540.1,991.3 536.1,984.6 531.9,977.8 527.8,971 523.5,964.3 519.2,957.5 514.8,950.8 510.4,944 505.9,937.2 501.3,930.5 496.7,923.7 492.1,916.9 487.4,910.2 482.7,903.4 477.9,896.7 473.1,889.9 468.3,883.1 463.4,876.4 458.5,869.6 453.6,862.8 448.7,856.1 443.8,849.3 438.8,842.6 433.8,835.8 428.9,829 423.9,822.3 418.9,815.5 413.9,808.7 408.9,802 404,795.2 399,788.5 394.1,781.7 389.1,774.9 384.2,768.2 379.3,761.4 374.4,754.6 369.6,747.9 364.7,741.1 359.9,734.4 355.1,727.6 350.4,720.8 345.7,714.1 341,707.3 336.3,700.5 331.7,693.8 327.1,687 322.5,680.3 318,673.5 313.5,666.7 309,660 304.6,653.2 300.3,646.4 295.9,639.7 291.6,632.9 287.4,626.2 283.1,619.4 279,612.6 274.8,605.9 270.8,599.1 266.7,592.3 262.7,585.6 258.7,578.8 254.8,572.1 250.9,565.3 247.1,558.5 243.3,551.8 239.6,545 235.8,538.2 232.2,531.5 228.6,524.7 225,517.9 221.4,511.2 218,504.4 214.5,497.7 211.1,490.9 207.7,484.1 204.4,477.4 201.1,470.6 197.9,463.8 194.7,457.1 191.5,450.3 188.4,443.6 185.4,436.8 182.3,430 179.3,423.3 176.4,416.5 173.5,409.7 170.6,403 167.8,396.2 165,389.5 162.3,382.7 159.6,375.9 157,369.2 154.3,362.4 151.8,355.6 149.2,348.9 146.7,342.1 144.3,335.4 141.9,328.6 139.5,321.8 137.1,315.1 134.8,308.3 132.6,301.5 130.4,294.8 128.2,288 126,281.3 123.9,274.5 121.9,267.7 119.8,261 117.8,254.2 115.9,247.4 114,240.7 112.1,233.9 110.3,227.2 108.5,220.4 106.7,213.6 105,206.9 103.3,200.1 101.6,193.3 100,186.6 98.4,179.8 96.9,173.1 95.4,166.3 93.9,159.5 92.4,152.8 91,146 89.7,139.2 88.3,132.5 87,125.7 85.8,118.9 84.5,112.2 83.3,105.4 82.2,98.7" fill="none" stroke="#0000ff" stroke-width="0.7" opacity="0.26"/>
<polyline points="694.5,1203.6 693.9,1199.8 693.3,1196 692.7,1192.2 692.1,1188.3 691.4,1184.5 690.8,1180.7 689.6,1173.9 688.3,1167.2 687,1160.4 685.6,1153.6 684.2,1146.9 682.7,1140.1 681.2,1133.4 679.6,1126.6 677.9,1119.8 676.2,1113.1 674.4,1106.3 672.5,1099.5 670.6,1092.8 668.6,1086 666.6,1079.3 664.5,1072.5 662.3,1065.7 660,1059 657.7,1052.2 655.2,1045.4 652.8,1038.7 650.2,1031.9 647.6,1025.2 644.8,1018.4 642.1,1011.6 639.2,1004.9 636.2,998.1 633.2,991.3 630.1,984.6 626.9,977.8 623.7,971 620.3,964.3 616.9,957.5 613.4,950.8 609.9,944 606.2,937.2 602.5,930.5 598.7,923.7 594.8,916.9 590.9,910.2 586.9,903.4 582.8,896.7 578.7,889.9 574.5,883.1 570.2,876.4 565.9,869.6 561.5,862.8 557.1,856.1 552.6,849.3 548,842.6 543.5,835.8 538.8,829 534.2,822.3 529.5,815.5 524.7,808.7 520,802 515.2,795.2 510.4,788.5 505.5,781.7 500.7,774.9 495.8,768.2 490.9,761.4 486.1,754.6 481.2,747.9 476.3,741.1 471.4,734.4 466.5,727.6 461.6,720.8 456.7,714.1 451.9,707.3 447,700.5 442.2,693.8 437.4,687 432.6,680.3 427.8,673.5 423,666.7 418.3,660 413.6,653.2 408.9,646.4 404.3,639.7 399.7,632.9 395.1,626.2 390.6,619.4 386,612.6 381.6,605.9 377.1,599.1 372.7,592.3 368.3,585.6 364,578.8 359.7,572.1 355.4,565.3 351.2,558.5 347,551.8 342.9,545 338.8,538.2 334.8,531.5 330.8,524.7 326.8,517.9 322.9,511.2 319,504.4 315.1,497.7 311.3,490.9 307.6,484.1 303.8,477.4 300.2,470.6 296.5,463.8 293,457.1 289.4,450.3 285.9,443.6 282.4,436.8 279,430 275.7,423.3 272.3,416.5 269,409.7 265.8,403 262.6,396.2 259.4,389.5 256.3,382.7 253.2,375.9 250.2,369.2 247.2,362.4 244.2,355.6 241.3,348.9 238.4,342.1 235.6,335.4 232.8,328.6 230.1,321.8 227.4,315.1 224.7,308.3 222.1,301.5 219.5,294.8 216.9,288 214.4,281.3 212,274.5 209.5,267.7 207.1,261 204.8,254.2 202.5,247.4 200.2,240.7 198,233.9 195.8,227.2 193.6,220.4 191.5,213.6 189.4,206.9 187.4,200.1 185.4,193.3 183.4,186.6 181.5,179.8 179.6,173.1 177.8,166.3 176,159.5 174.2,152.8 172.4,146 170.7,139.2 169.1,132.5 167.4,125.7 165.9,118.9 164.3,112.2 162.8,105.4 161.3,98.7" fill="none" stroke="#0000ff" stroke-width="0.7" opacity="0.26"/>
<polyline points="759.1,1203.6 759,1199.8 758.8,1196 758.6,1192.2 758.3,1188.3 758.1,1184.5 757.9,1180.7 757.4,1173.9 756.9,1167.2 756.4,1160.4 755.8,1153.6 755.2,1146.9 754.6,1140.1 753.9,1133.4 753.1,1126.6 752.3,1119.8 751.5,1113.1 750.6,1106.3 749.7,1099.5 748.7,1092.8 747.6,1086 746.5,1079.3 745.4,1072.5 744.2,1065.7 742.9,1059 741.6,1052.2 740.3,1045.4 738.8,1038.7 737.3,1031.9 735.8,1025.2 734.2,1018.4 732.5,1011.6 730.7,1004.9 728.9,998.1 727,991.3 725.1,984.6 723,977.8 720.9,971 718.7,964.3 716.5,957.5 714.2,950.8 711.8,944 709.3,937.2 706.7,930.5 704.1,923.7 701.4,916.9 698.6,910.2 695.7,903.4 692.8,896.7 689.7,889.9 686.6,883.1 683.4,876.4 680.2,869.6 676.8,862.8 673.4,856.1 669.9,849.3 666.3,842.6 662.6,835.8 658.9,829 655.1,822.3 651.2,815.5 647.3,808.7 643.3,802 639.2,795.2 635.1,788.5 630.9,781.7 626.6,774.9 622.3,768.2 617.9,761.4 613.5,754.6 609,747.9 604.5,741.1 599.9,734.4 595.4,727.6 590.7,720.8 586.1,714.1 581.4,707.3 576.7,700.5 572,693.8 567.2,687 562.4,680.3 557.7,673.5 552.9,666.7 548.1,660 543.3,653.2 538.5,646.4 533.7,639.7 528.9,632.9 524.2,626.2 519.4,619.4 514.7,612.6 509.9,605.9 505.2,599.1 500.5,592.3 495.8,585.6 491.2,578.8 486.5,572.1 481.9,565.3 477.4,558.5 472.8,551.8 468.3,545 463.8,538.2 459.4,531.5 454.9,524.7 450.6,517.9 446.2,511.2 441.9,504.4 437.6,497.7 433.4,490.9 429.2,484.1 425,477.4 420.9,470.6 416.8,463.8 412.8,457.1 408.8,450.3 404.8,443.6 400.9,436.8 397,430 393.2,423.3 389.4,416.5 385.7,409.7 382,403 378.3,396.2 374.7,389.5 371.1,382.7 367.5,375.9 364.1,369.2 360.6,362.4 357.2,355.6 353.8,348.9 350.5,342.1 347.2,335.4 344,328.6 340.8,321.8 337.6,315.1 334.5,308.3 331.4,301.5 328.4,294.8 325.4,288 322.4,281.3 319.5,274.5 316.7,267.7 313.8,261 311.1,254.2 308.3,247.4 305.6,240.7 303,233.9 300.3,227.2 297.8,220.4 295.2,213.6 292.7,206.9 290.2,200.1 287.8,193.3 285.4,186.6 283.1,179.8 280.8,173.1 278.5,166.3 276.3,159.5 274.1,152.8 272,146 269.9,139.2 267.8,132.5 265.7,125.7 263.8,118.9 261.8,112.2 259.9,105.4 258,98.7" fill="none" stroke="#0000ff" stroke-width="0.7" opacity="0.26"/>
<polyline points="824.1,1203.6 824.2,1199.8 824.4,1196 824.5,1192.2 824.7,1188.3 824.8,1184.5 825,1180.7 825.2,1173.9 825.4,1167.2 825.6,1160.4 825.7,1153.6 825.8,1146.9 825.9,1140.1 826,1133.4 826,1126.6 826,1119.8 826,1113.1 825.9,1106.3 825.8,1099.5 825.7,1092.8 825.5,1086 825.3,1079.3 825.1,1072.5 824.8,1065.7 824.5,1059 824.1,1052.2 823.7,1045.4 823.3,1038.7 822.8,1031.9 822.3,1025.2 821.7,1018.4 821.1,1011.6 820.4,1004.9 819.7,998.1 818.9,991.3 818.1,984.6 817.2,977.8 816.3,971 815.3,964.3 814.3,957.5 813.2,950.8 812.1,944 810.9,937.2 809.6,930.5 808.3,923.7 806.9,916.9 805.4,910.2 803.9,903.4 802.3,896.7 800.6,889.9 798.9,883.1 797.1,876.4 795.2,869.6 793.3,862.8 791.2,856.1 789.1,849.3 787,842.6 784.7,835.8 782.4,829 780,822.3 777.5,815.5 774.9,808.7 772.2,802 769.5,795.2 766.7,788.5 763.8,781.7 760.8,774.9 757.7,768.2 754.6,761.4 751.4,754.6 748.1,747.9 744.7,741.1 741.2,734.4 737.7,727.6 734.1,720.8 730.4,714.1 726.6,707.3 722.8,700.5 718.9,693.8 714.9,687 710.9,680.3 706.8,673.5 702.6,666.7 698.4,660 694.2,653.2 689.8,646.4 685.5,639.7 681.1,632.9 676.6,626.2 672.2,619.4 667.6,612.6 663.1,605.9 658.5,599.1 653.9,592.3 649.3,585.6 644.7,578.8 640,572.1 635.4,565.3 630.7,558.5 626,551.8 621.3,545 616.7,538.2 612,531.5 607.3,524.7 602.7,517.9 598,511.2 593.4,504.4 588.8,497.7 584.2,490.9 579.6,484.1 575.1,477.4 570.6,470.6 566,463.8 561.6,457.1 557.1,450.3 552.7,443.6 548.3,436.8 544,430 539.6,423.3 535.4,416.5 531.1,409.7 526.9,403 522.7,396.2 518.6,389.5 514.5,382.7 510.4,375.9 506.4,369.2 502.4,362.4 498.4,355.6 494.5,348.9 490.7,342.1 486.8,335.4 483.1,328.6 479.3,321.8 475.6,315.1 472,308.3 468.3,301.5 464.8,294.8 461.2,288 457.7,281.3 454.3,274.5 450.9,267.7 447.5,261 444.2,254.2 440.9,247.4 437.7,240.7 434.5,233.9 431.3,227.2 428.2,220.4 425.1,213.6 422.1,206.9 419.1,200.1 416.2,193.3 413.3,186.6 410.4,179.8 407.6,173.1 404.8,166.3 402,159.5 399.3,152.8 396.7,146 394.1,139.2 391.5,132.5 388.9,125.7 386.4,118.9 384,112.2 381.6,105.4 379.2,98.7" fill="none" stroke="#0000ff" stroke-width="0.7" opacity="0.26"/>
<polyline points="889.3,1203.6 889.7,1199.8 890.2,1196 890.7,1192.2 891.2,1188.3 891.6,1184.5 892.1,1180.7 892.9,1173.9 893.7,1167.2 894.4,1160.4 895.2,1153.6 895.9,1146.9 896.7,1140.1 897.4,1133.4 898.1,1126.6 898.7,1119.8 899.4,1113.1 900,1106.3 900.6,1099.5 901.2,1092.8 901.8,1086 902.4,1079.3 902.9,1072.5 903.4,1065.7 903.9,1059 904.4,1052.2 904.8,1045.4 905.2,1038.7 905.6,1031.9 906,1025.2 906.3,1018.4 906.6,1011.6 906.9,1004.9 907.1,998.1 907.3,991.3 907.5,984.6 907.7,977.8 907.8,971 907.9,964.3 907.9,957.5 907.9,950.8 907.9,944 907.9,937.2 907.8,930.5 907.6,923.7 907.4,916.9 907.2,910.2 906.9,903.4 906.6,896.7 906.3,889.9 905.9,883.1 905.4,876.4 904.9,869.6 904.4,862.8 903.8,856.1 903.1,849.3 902.4,842.6 901.7,835.8 900.8,829 900,822.3 899,815.5 898,808.7 897,802 895.9,795.2 894.7,788.5 893.4,781.7 892.1,774.9 890.7,768.2 889.2,761.4 887.7,754.6 886.1,747.9 884.4,741.1 882.7,734.4 880.9,727.6 879,720.8 877,714.1 874.9,707.3 872.8,700.5 870.5,693.8 868.2,687 865.9,680.3 863.4,673.5 860.8,666.7 858.2,660 855.5,653.2 852.7,646.4 849.8,639.7 846.8,632.9 843.7,626.2 840.6,619.4 837.4,612.6 834.1,605.9 830.7,599.1 827.3,592.3 823.7,585.6 820.1,578.8 816.4,572.1 812.7,565.3 808.9,558.5 805,551.8 801,545 797,538.2 793,531.5 788.8,524.7 784.7,517.9 780.5,511.2 776.2,504.4 771.9,497.7 767.5,490.9 763.2,484.1 758.8,477.4 754.3,470.6 749.9,463.8 745.4,457.1 740.9,450.3 736.4,443.6 731.8,436.8 727.3,430 722.8,423.3 718.2,416.5 713.7,409.7 709.2,403 704.6,396.2 700.1,389.5 695.6,382.7 691.1,375.9 686.7,369.2 682.2,362.4 677.8,355.6 673.4,348.9 669,342.1 664.6,335.4 660.3,328.6 656,321.8 651.7,315.1 647.5,308.3 643.3,301.5 639.1,294.8 634.9,288 630.8,281.3 626.8,274.5 622.7,267.7 618.7,261 614.8,254.2 610.8,247.4 607,240.7 603.1,233.9 599.3,227.2 595.6,220.4 591.8,213.6 588.1,206.9 584.5,200.1 580.9,193.3 577.4,186.6 573.8,179.8 570.4,173.1 566.9,166.3 563.5,159.5 560.2,152.8 556.9,146 553.6,139.2 550.4,132.5 547.2,125.7 544.1,118.9 541,112.2 537.9,105.4 534.9,98.7" fill="none" stroke="#0000ff" stroke-width="0.7" opacity="0.26"/>
<polyline points="954.8,1203.6 955.5,1199.8 956.3,1196 957,1192.2 957.7,1188.3 958.4,1184.5 959.2,1180.7 960.5,1173.9 961.7,1167.2 963,1160.4 964.3,1153.6 965.5,1146.9 966.8,1140.1 968,1133.4 969.2,1126.6 970.5,1119.8 971.7,1113.1 972.9,1106.3 974.1,1099.5 975.3,1092.8 976.5,1086 977.6,1079.3 978.8,1072.5 979.9,1065.7 981.1,1059 982.2,1052.2 983.3,1045.4 984.4,1038.7 985.5,1031.9 986.6,1025.2 987.6,1018.4 988.7,1011.6 989.7,1004.9 990.7,998.1 991.7,991.3 992.7,984.6 993.6,977.8 994.6,971 995.5,964.3 996.4,957.5 997.3,950.8 998.2,944 999.1,937.2 999.9,930.5 1000.7,923.7 1001.5,916.9 1002.3,910.2 1003,903.4 1003.7,896.7 1004.4,889.9 1005.1,883.1 1005.8,876.4 1006.4,869.6 1007,862.8 1007.5,856.1 1008.1,849.3 1008.6,842.6 1009.1,835.8 1009.5,829 1009.9,822.3 1010.3,815.5 1010.7,808.7 1011,802 1011.2,795.2 1011.5,788.5 1011.7,781.7 1011.8,774.9 1012,768.2 1012.1,761.4 1012.1,754.6 1012.1,747.9 1012,741.1 1012,734.4 1011.8,727.6 1011.6,720.8 1011.4,714.1 1011.1,707.3 1010.8,700.5 1010.4,693.8 1009.9,687 1009.4,680.3 1008.9,673.5 1008.3,666.7 1007.6,660 1006.9,653.2 1006.1,646.4 1005.2,639.7 1004.3,632.9 1003.3,626.2 1002.2,619.4 1001.1,612.6 999.9,605.9 998.6,599.1 997.3,592.3 995.8,585.6 994.3,578.8 992.8,572.1 991.1,565.3 989.4,558.5 987.6,551.8 985.7,545 983.7,538.2 981.6,531.5 979.5,524.7 977.2,517.9 974.9,511.2 972.5,504.4 970,497.7 967.5,490.9 964.8,484.1 962,477.4 959.2,470.6 956.3,463.8 953.3,457.1 950.2,450.3 947,443.6 943.8,436.8 940.4,430 937,423.3 933.6,416.5 930,409.7 926.4,403 922.7,396.2 918.9,389.5 915.1,382.7 911.2,375.9 907.3,369.2 903.3,362.4 899.2,355.6 895.1,348.9 891,342.1 886.8,335.4 882.6,328.6 878.4,321.8 874.1,315.1 869.8,308.3 865.5,301.5 861.2,294.8 856.8,288 852.5,281.3 848.1,274.5 843.7,267.7 839.3,261 835,254.2 830.6,247.4 826.2,240.7 821.9,233.9 817.5,227.2 813.2,220.4 808.9,213.6 804.6,206.9 800.3,200.1 796.1,193.3 791.9,186.6 787.7,179.8 783.5,173.1 779.4,166.3 775.3,159.5 771.2,152.8 767.1,146 763.1,139.2 759.1,132.5 755.2,125.7 751.3,118.9 747.4,112.2 743.6,105.4 739.8,98.7" fill="none" stroke="#0000ff" stroke-width="0.7" opacity="0.26"/>
<polyline points="1020.6,1203.6 1021.6,1199.8 1022.5,1196 1023.4,1192.2 1024.4,1188.3 1025.3,1184.5 1026.3,1180.7 1027.9,1173.9 1029.6,1167.2 1031.3,1160.4 1033,1153.6 1034.6,1146.9 1036.3,1140.1 1037.9,1133.4 1039.6,1126.6 1041.3,1119.8 1042.9,1113.1 1044.6,1106.3 1046.2,1099.5 1047.9,1092.8 1049.5,1086 1051.2,1079.3 1052.8,1072.5 1054.5,1065.7 1056.1,1059 1057.7,1052.2 1059.4,1045.4 1061,1038.7 1062.6,1031.9 1064.2,1025.2 1065.9,1018.4 1067.5,1011.6 1069.1,1004.9 1070.7,998.1 1072.2,991.3 1073.8,984.6 1075.4,977.8 1077,971 1078.5,964.3 1080.1,957.5 1081.7,950.8 1083.2,944 1084.7,937.2 1086.3,930.5 1087.8,923.7 1089.3,916.9 1090.8,910.2 1092.3,903.4 1093.8,896.7 1095.2,889.9 1096.7,883.1 1098.1,876.4 1099.6,869.6 1101,862.8 1102.4,856.1 1103.8,849.3 1105.2,842.6 1106.6,835.8 1107.9,829 1109.3,822.3 1110.6,815.5 1112,808.7 1113.3,802 1114.5,795.2 1115.8,788.5 1117.1,781.7 1118.3,774.9 1119.5,768.2 1120.7,761.4 1121.9,754.6 1123.1,747.9 1124.2,741.1 1125.3,734.4 1126.5,727.6 1127.5,720.8 1128.6,714.1 1129.6,707.3 1130.6,700.5 1131.6,693.8 1132.6,687 1133.5,680.3 1134.4,673.5 1135.3,666.7 1136.2,660 1137,653.2 1137.8,646.4 1138.6,639.7 1139.3,632.9 1140,626.2 1140.7,619.4 1141.3,612.6 1141.9,605.9 1142.5,599.1 1143,592.3 1143.5,585.6 1143.9,578.8 1144.3,572.1 1144.7,565.3 1145,558.5 1145.3,551.8 1145.5,545 1145.7,538.2 1145.9,531.5 1146,524.7 1146,517.9 1146,511.2 1146,504.4 1145.9,497.7 1145.7,490.9 1145.5,484.1 1145.2,477.4 1144.8,470.6 1144.4,463.8 1144,457.1 1143.5,450.3 1142.9,443.6 1142.2,436.8 1141.5,430 1140.7,423.3 1139.8,416.5 1138.9,409.7 1137.9,403 1136.8,396.2 1135.6,389.5 1134.4,382.7 1133.1,375.9 1131.7,369.2 1130.2,362.4 1128.6,355.6 1127,348.9 1125.2,342.1 1123.4,335.4 1121.5,328.6 1119.5,321.8 1117.4,315.1 1115.2,308.3 1113,301.5 1110.6,294.8 1108.2,288 1105.6,281.3 1103,274.5 1100.3,267.7 1097.5,261 1094.6,254.2 1091.6,247.4 1088.6,240.7 1085.5,233.9 1082.2,227.2 1079,220.4 1075.6,213.6 1072.2,206.9 1068.6,200.1 1065.1,193.3 1061.4,186.6 1057.7,179.8 1054,173.1 1050.2,166.3 1046.3,159.5 1042.4,152.8 1038.4,146 1034.4,139.2 1030.4,132.5 1026.4,125.7 1022.3,118.9 1018.2,112.2 1014,105.4 1009.9,98.7" fill="none" stroke="#0000ff" stroke-width="0.7" opacity="0.26"/>
<polyline points="1086.7,1203.6 1087.8,1199.8 1088.9,1196 1090,1192.2 1091.2,1188.3 1092.3,1184.5 1093.4,1180.7 1095.3,1173.9 1097.3,1167.2 1099.3,1160.4 1101.3,1153.6 1103.3,1146.9 1105.3,1140.1 1107.2,1133.4 1109.2,1126.6 1111.2,1119.8 1113.2,1113.1 1115.2,1106.3 1117.2,1099.5 1119.2,1092.8 1121.3,1086 1123.3,1079.3 1125.3,1072.5 1127.3,1065.7 1129.3,1059 1131.3,1052.2 1133.3,1045.4 1135.3,1038.7 1137.4,1031.9 1139.4,1025.2 1141.4,1018.4 1143.4,1011.6 1145.5,1004.9 1147.5,998.1 1149.5,991.3 1151.5,984.6 1153.5,977.8 1155.6,971 1157.6,964.3 1159.6,957.5 1161.6,950.8 1163.7,944 1165.7,937.2 1167.7,930.5 1169.7,923.7 1171.7,916.9 1173.8,910.2 1175.8,903.4 1177.8,896.7 1179.8,889.9 1181.8,883.1 1183.8,876.4 1185.8,869.6 1187.8,862.8 1189.8,856.1 1191.8,849.3 1193.8,842.6 1195.8,835.8 1197.8,829 1199.8,822.3 1201.8,815.5 1203.7,808.7 1205.7,802 1207.7,795.2 1209.6,788.5 1211.6,781.7 1213.6,774.9 1215.5,768.2 1217.4,761.4 1219.4,754.6 1221.3,747.9 1223.2,741.1 1225.2,734.4 1227.1,727.6 1229,720.8 1230.9,714.1 1232.8,707.3 1234.6,700.5 1236.5,693.8 1238.4,687 1240.2,680.3 1242.1,673.5 1243.9,666.7 1245.8,660 1247.6,653.2 1249.4,646.4 1251.2,639.7 1253,632.9 1254.8,626.2 1256.5,619.4 1258.3,612.6 1260,605.9 1261.7,599.1 1263.5,592.3 1265.2,585.6 1266.8,578.8 1268.5,572.1 1270.2,565.3 1271.8,558.5 1273.4,551.8 1275.1,545 1276.7,538.2 1278.2,531.5 1279.8,524.7 1281.3,517.9 1282.9,511.2 1284.4,504.4 1285.8,497.7 1287.3,490.9 1288.7,484.1 1290.2,477.4 1291.6,470.6 1292.9,463.8 1294.3,457.1 1295.6,450.3 1296.9,443.6 1298.2,436.8 1299.4,430 1300.7,423.3 1301.9,416.5 1303,409.7 1304.2,403 1305.3,396.2 1306.3,389.5 1307.4,382.7 1308.4,375.9 1309.4,369.2 1310.3,362.4 1311.2,355.6 1312.1,348.9 1312.9,342.1 1313.7,335.4 1314.5,328.6 1315.2,321.8 1315.8,315.1 1316.5,308.3 1317,301.5 1317.6,294.8 1318.1,288 1318.5,281.3 1318.9,274.5 1319.2,267.7 1319.5,261 1319.7,254.2 1319.9,247.4 1320,240.7 1320.1,233.9 1320.1,227.2 1320,220.4 1319.9,213.6 1319.7,206.9 1319.4,200.1 1319.1,193.3 1318.7,186.6 1318.3,179.8 1317.7,173.1 1317.1,166.3 1316.4,159.5 1315.7,152.8 1314.8,146 1313.9,139.2 1312.9,132.5 1311.8,125.7 1310.6,118.9 1309.4,112.2 1308,105.4 1306.6,98.7" fill="none" stroke="#0000ff" stroke-width="0.7" opacity="0.26"/>
<polyline points="1153.1,1203.6 1154.3,1199.8 1155.5,1196 1156.8,1192.2 1158,1188.3 1159.2,1184.5 1160.5,1180.7 1162.7,1173.9 1164.9,1167.2 1167.1,1160.4 1169.3,1153.6 1171.5,1146.9 1173.8,1140.1 1176,1133.4 1178.2,1126.6 1180.5,1119.8 1182.7,1113.1 1185,1106.3 1187.3,1099.5 1189.5,1092.8 1191.8,1086 1194.1,1079.3 1196.3,1072.5 1198.6,1065.7 1200.9,1059 1203.2,1052.2 1205.5,1045.4 1207.8,1038.7 1210.1,1031.9 1212.4,1025.2 1214.7,1018.4 1217.1,1011.6 1219.4,1004.9 1221.7,998.1 1224,991.3 1226.4,984.6 1228.7,977.8 1231.1,971 1233.4,964.3 1235.8,957.5 1238.1,950.8 1240.5,944 1242.8,937.2 1245.2,930.5 1247.6,923.7 1249.9,916.9 1252.3,910.2 1254.7,903.4 1257.1,896.7 1259.5,889.9 1261.8,883.1 1264.2,876.4 1266.6,869.6 1269,862.8 1271.4,856.1 1273.8,849.3 1276.2,842.6 1278.6,835.8 1281,829 1283.4,822.3 1285.8,815.5 1288.2,808.7 1290.6,802 1293.1,795.2 1295.5,788.5 1297.9,781.7 1300.3,774.9 1302.7,768.2 1305.1,761.4 1307.6,754.6 1310,747.9 1312.4,741.1 1314.8,734.4 1317.3,727.6 1319.7,720.8 1322.1,714.1 1324.5,707.3 1327,700.5 1329.4,693.8 1331.8,687 1334.2,680.3 1336.7,673.5 1339.1,666.7 1341.5,660 1343.9,653.2 1346.3,646.4 1348.8,639.7 1351.2,632.9 1353.6,626.2 1356,619.4 1358.4,612.6 1360.8,605.9 1363.3,599.1 1365.7,592.3 1368.1,585.6 1370.5,578.8 1372.9,572.1 1375.3,565.3 1377.7,558.5 1380.1,551.8 1382.5,545 1384.9,538.2 1387.2,531.5 1389.6,524.7 1392,517.9 1394.4,511.2 1396.7,504.4 1399.1,497.7 1401.5,490.9 1403.8,484.1 1406.2,477.4 1408.5,470.6 1410.9,463.8 1413.2,457.1 1415.5,450.3 1417.8,443.6 1420.2,436.8 1422.5,430 1424.8,423.3 1427.1,416.5 1429.3,409.7 1431.6,403 1433.9,396.2 1436.2,389.5 1438.4,382.7 1440.7,375.9 1442.9,369.2 1445.1,362.4 1447.4,355.6 1449.6,348.9 1451.8,342.1 1454,335.4 1456.1,328.6 1458.3,321.8 1460.5,315.1 1462.6,308.3 1464.7,301.5 1466.9,294.8 1469,288 1471.1,281.3 1473.1,274.5 1475.2,267.7 1477.3,261 1479.3,254.2 1481.3,247.4 1483.3,240.7 1485.3,233.9 1487.3,227.2 1489.2,220.4 1491.2,213.6 1493.1,206.9 1495,200.1 1496.9,193.3 1498.7,186.6 1500.6,179.8 1502.4,173.1 1504.2,166.3 1506,159.5 1507.7,152.8 1509.5,146 1511.2,139.2 1512.8,132.5 1514.5,125.7 1516.1,118.9 1517.7,112.2 1519.3,105.4 1520.8,98.7" fill="none" stroke="#0000ff" stroke-width="0.7" opacity="0.26"/>
<polyline points="1219.6,1203.6 1220.9,1199.8 1222.3,1196 1223.6,1192.2 1224.9,1188.3 1226.2,1184.5 1227.6,1180.7 1229.9,1173.9 1232.3,1167.2 1234.7,1160.4 1237.1,1153.6 1239.5,1146.9 1241.9,1140.1 1244.3,1133.4 1246.7,1126.6 1249.1,1119.8 1251.6,1113.1 1254,1106.3 1256.5,1099.5 1258.9,1092.8 1261.4,1086 1263.8,1079.3 1266.3,1072.5 1268.8,1065.7 1271.3,1059 1273.7,1052.2 1276.2,1045.4 1278.7,1038.7 1281.3,1031.9 1283.8,1025.2 1286.3,1018.4 1288.8,1011.6 1291.4,1004.9 1293.9,998.1 1296.4,991.3 1299,984.6 1301.5,977.8 1304.1,971 1306.7,964.3 1309.3,957.5 1311.8,950.8 1314.4,944 1317,937.2 1319.6,930.5 1322.2,923.7 1324.8,916.9 1327.4,910.2 1330.1,903.4 1332.7,896.7 1335.3,889.9 1338,883.1 1340.6,876.4 1343.2,869.6 1345.9,862.8 1348.6,856.1 1351.2,849.3 1353.9,842.6 1356.6,835.8 1359.2,829 1361.9,822.3 1364.6,815.5 1367.3,808.7 1370,802 1372.7,795.2 1375.4,788.5 1378.1,781.7 1380.8,774.9 1383.5,768.2 1386.3,761.4 1389,754.6 1391.7,747.9 1394.5,741.1 1397.2,734.4 1399.9,727.6 1402.7,720.8 1405.4,714.1 1408.2,707.3 1411,700.5 1413.7,693.8 1416.5,687 1419.3,680.3 1422,673.5 1424.8,666.7 1427.6,660 1430.4,653.2 1433.2,646.4 1436,639.7 1438.8,632.9 1441.6,626.2 1444.4,619.4 1447.2,612.6 1450,605.9 1452.8,599.1 1455.6,592.3 1458.4,585.6 1461.3,578.8 1464.1,572.1 1466.9,565.3 1469.7,558.5 1472.6,551.8 1475.4,545 1478.2,538.2 1481.1,531.5 1483.9,524.7 1486.8,517.9 1489.6,511.2 1492.5,504.4 1495.3,497.7 1498.2,490.9 1501,484.1 1503.9,477.4 1506.7,470.6 1509.6,463.8 1512.4,457.1 1515.3,450.3 1518.2,443.6 1521,436.8 1523.9,430 1526.8,423.3 1529.6,416.5 1532.5,409.7 1535.4,403 1538.3,396.2 1541.1,389.5 1544,382.7 1546.9,375.9 1549.7,369.2 1552.6,362.4 1555.5,355.6 1558.4,348.9 1561.2,342.1 1564.1,335.4 1567,328.6 1569.9,321.8 1572.7,315.1 1575.6,308.3 1578.5,301.5 1581.4,294.8 1584.2,288 1587.1,281.3 1590,274.5 1592.8,267.7 1595.7,261 1598.6,254.2 1601.4,247.4 1604.3,240.7 1607.2,233.9 1610,227.2 1612.9,220.4 1615.7,213.6 1618.6,206.9 1621.4,200.1 1624.3,193.3 1627.1,186.6 1630,179.8 1632.8,173.1 1635.6,166.3 1638.5,159.5 1641.3,152.8 1644.1,146 1646.9,139.2 1649.8,132.5 1652.6,125.7 1655.4,118.9 1658.2,112.2 1661,105.4 1663.8,98.7" fill="none" stroke="#0000ff" stroke-width="0.7" opacity="0.26"/>
<polyline points="1286.3,1203.6 1287.7,1199.8 1289.1,1196 1290.5,1192.2 1291.9,1188.3 1293.3,1184.5 1294.7,1180.7 1297.2,1173.9 1299.6,1167.2 1302.1,1160.4 1304.7,1153.6 1307.2,1146.9 1309.7,1140.1 1312.2,1133.4 1314.8,1126.6 1317.3,1119.8 1319.9,1113.1 1322.4,1106.3 1325,1099.5 1327.6,1092.8 1330.1,1086 1332.7,1079.3 1335.3,1072.5 1337.9,1065.7 1340.6,1059 1343.2,1052.2 1345.8,1045.4 1348.4,1038.7 1351.1,1031.9 1353.7,1025.2 1356.4,1018.4 1359.1,1011.6 1361.7,1004.9 1364.4,998.1 1367.1,991.3 1369.8,984.6 1372.5,977.8 1375.2,971 1377.9,964.3 1380.7,957.5 1383.4,950.8 1386.1,944 1388.9,937.2 1391.6,930.5 1394.4,923.7 1397.1,916.9 1399.9,910.2 1402.7,903.4 1405.5,896.7 1408.3,889.9 1411.1,883.1 1413.9,876.4 1416.7,869.6 1419.5,862.8 1422.3,856.1 1425.2,849.3 1428,842.6 1430.8,835.8 1433.7,829 1436.6,822.3 1439.4,815.5 1442.3,808.7 1445.2,802 1448,795.2 1450.9,788.5 1453.8,781.7 1456.7,774.9 1459.6,768.2 1462.6,761.4 1465.5,754.6 1468.4,747.9 1471.3,741.1 1474.3,734.4 1477.2,727.6 1480.2,720.8 1483.1,714.1 1486.1,707.3 1489,700.5 1492,693.8 1495,687 1498,680.3 1501,673.5 1504,666.7 1507,660 1510,653.2 1513,646.4 1516,639.7 1519,632.9 1522,626.2 1525.1,619.4 1528.1,612.6 1531.2,605.9 1534.2,599.1 1537.3,592.3 1540.3,585.6 1543.4,578.8 1546.4,572.1 1549.5,565.3 1552.6,558.5 1555.7,551.8 1558.8,545 1561.9,538.2 1565,531.5 1568.1,524.7 1571.2,517.9 1574.3,511.2 1577.4,504.4 1580.5,497.7 1583.7,490.9 1586.8,484.1 1589.9,477.4 1593.1,470.6 1596.2,463.8 1599.4,457.1 1602.5,450.3 1605.7,443.6 1608.9,436.8 1612,430 1615.2,423.3 1618.4,416.5 1621.6,409.7 1624.7,403 1627.9,396.2 1631.1,389.5 1634.3,382.7 1637.5,375.9 1640.7,369.2 1643.9,362.4 1647.1,355.6 1650.4,348.9 1653.6,342.1 1656.8,335.4 1660,328.6 1663.3,321.8 1666.5,315.1 1669.8,308.3 1673,301.5 1676.2,294.8 1679.5,288 1682.7,281.3 1686,274.5 1689.3,267.7 1692.5,261 1695.8,254.2 1699.1,247.4 1702.3,240.7 1705.6,233.9 1708.9,227.2 1712.2,220.4 1715.5,213.6 1718.8,206.9 1722.1,200.1 1725.4,193.3 1728.6,186.6 1731.9,179.8 1735.3,173.1 1738.6,166.3 1741.9,159.5 1745.2,152.8 1748.5,146 1751.8,139.2 1755.1,132.5 1758.5,125.7 1761.8,118.9 1765.1,112.2 1768.4,105.4 1771.8,98.7" fill="none" stroke="#0000ff" stroke-width="0.7" opacity="0.26"/>
<line x1="-1615.1" y1="1203.6" x2="-434.3" y2="98.5" stroke="#848484" stroke-width="1.05" />
<line x1="-1480.9" y1="1203.6" x2="-300.1" y2="98.5" stroke="#848484" stroke-width="1.05" />
<line x1="-1346.7" y1="1203.6" x2="-165.9" y2="98.5" stroke="#848484" stroke-width="1.05" />
<line x1="-1212.5" y1="1203.6" x2="-31.7" y2="98.5" stroke="#848484" stroke-width="1.05" />
<line x1="-1078.3" y1="1203.6" x2="102.5" y2="98.5" stroke="#848484" stroke-width="1.05" />
<line x1="-944.1" y1="1203.6" x2="236.7" y2="98.5" stroke="#848484" stroke-width="1.05" />
<line x1="-809.9" y1="1203.6" x2="370.9" y2="98.5" stroke="#848484" stroke-width="1.05" />
<line x1="-675.7" y1="1203.6" x2="505.1" y2="98.5" stroke="#848484" stroke-width="1.05" />
<line x1="-541.5" y1="1203.6" x2="639.3" y2="98.5" stroke="#848484" stroke-width="1.05" />
<line x1="-407.3" y1="1203.6" x2="773.5" y2="98.5" stroke="#848484" stroke-width="1.05" />
<line x1="-273.1" y1="1203.6" x2="907.7" y2="98.5" stroke="#848484" stroke-width="1.05" />
<line x1="-138.9" y1="1203.6" x2="1041.9" y2="98.5" stroke="#848484" stroke-width="1.05" />
<line x1="-4.7" y1="1203.6" x2="1176.1" y2="98.5" stroke="#848484" stroke-width="1.05" />
<line x1="129.5" y1="1203.6" x2="1310.3" y2="98.5" stroke="#848484" stroke-width="1.05" />
<line x1="263.7" y1="1203.6" x2="1444.5" y2="98.5" stroke="#848484" stroke-width="1.05" />
<line x1="397.9" y1="1203.6" x2="1578.7" y2="98.5" stroke="#848484" stroke-width="1.05" />
<line x1="532.1" y1="1203.6" x2="1712.9" y2="98.5" stroke="#848484" stroke-width="1.05" />
<line x1="666.3" y1="1203.6" x2="1847.1" y2="98.5" stroke="#848484" stroke-width="1.05" />
<line x1="800.5" y1="1203.6" x2="1981.3" y2="98.5" stroke="#848484" stroke-width="1.05" />
<line x1="934.7" y1="1203.6" x2="2115.5" y2="98.5" stroke="#848484" stroke-width="1.05" />
<line x1="1068.9" y1="1203.6" x2="2249.7" y2="98.5" stroke="#848484" stroke-width="1.05" />
<line x1="1203.1" y1="1203.6" x2="2383.9" y2="98.5" stroke="#848484" stroke-width="1.05" />
<line x1="31.4" y1="424.4" x2="1301.2" y2="424.4" stroke="#848484" stroke-width="1.05" />
<line x1="31.4" y1="614.9" x2="1301.2" y2="614.9" stroke="#848484" stroke-width="1.05" />
<line x1="31.4" y1="750.1" x2="1301.2" y2="750.1" stroke="#848484" stroke-width="1.05" />
<line x1="31.4" y1="855" x2="1301.2" y2="855" stroke="#848484" stroke-width="1.05" />
<line x1="31.4" y1="940.6" x2="1301.2" y2="940.6" stroke="#848484" stroke-width="1.05" />
<line x1="31.4" y1="1013.1" x2="1301.2" y2="1013.1" stroke="#848484" stroke-width="1.05" />
<line x1="31.4" y1="1075.8" x2="1301.2" y2="1075.8" stroke="#848484" stroke-width="1.05" />
<line x1="31.4" y1="1131.2" x2="1301.2" y2="1131.2" stroke="#848484" stroke-width="1.05" />
<line x1="31.4" y1="1180.7" x2="1301.2" y2="1180.7" stroke="#848484" stroke-width="1.05" />
<line x1="532.1" y1="1203.6" x2="1712.9" y2="98.5" stroke="#7b7bdd" stroke-width="1.9" stroke-dasharray="8.4 2.8"/>
<line x1="263.7" y1="1203.6" x2="1444.5" y2="98.5" stroke="#7b7bdd" stroke-width="1.9" stroke-dasharray="8.4 2.8"/>
</g>
<g clip-path="url(#skc)" fill="none" stroke-linejoin="round">
<text x="92.6" y="271.5" font-size="15.1" fill="#666" font-weight="bold" textLength="42.5" lengthAdjust="spacingAndGlyphs" >15km</text>
<text x="92.6" y="566.4" font-size="15.8" fill="#666" font-weight="bold" textLength="34.6" lengthAdjust="spacingAndGlyphs" >9km</text>
<text x="92.6" y="704.1" font-size="15.8" fill="#666" font-weight="bold" textLength="34.6" lengthAdjust="spacingAndGlyphs" >7km</text>
<text x="92.6" y="833.1" font-size="15.8" fill="#666" font-weight="bold" textLength="34.6" lengthAdjust="spacingAndGlyphs" >5km</text>
<text x="92.6" y="954.2" font-size="15.8" fill="#666" font-weight="bold" textLength="34.6" lengthAdjust="spacingAndGlyphs" >3km</text>
<text x="92.6" y="1068.3" font-size="15.8" fill="#666" font-weight="bold" textLength="34.6" lengthAdjust="spacingAndGlyphs" >1km</text>
<text x="92.6" y="1124.5" font-size="16.7" fill="#666" font-weight="bold" textLength="127.2" lengthAdjust="spacingAndGlyphs" >-SFC (1099m) -</text>
<text x="176.2" y="705.8" font-size="18.4" fill="#8cc48c" font-weight="bold" textLength="39.9" lengthAdjust="spacingAndGlyphs" >HGZ</text>
<line x1="196.1" y1="713" x2="196.1" y2="890.2" stroke="#96c896" stroke-width="4" />
<text x="216.8" y="904" font-size="18.1" fill="#e8b7b7" font-weight="bold" textLength="29.2" lengthAdjust="spacingAndGlyphs" >9.2</text>
<line x1="234" y1="908.3" x2="234" y2="1028.5" stroke="#e3b0b0" stroke-width="4" />
<text x="258.5" y="1073.8" font-size="17.4" fill="#d6ebf2" font-weight="bold" textLength="26.7" lengthAdjust="spacingAndGlyphs" >EIL</text>
<line x1="271.9" y1="1078" x2="271.9" y2="1104.7" stroke="#d6ebf2" stroke-width="4" />
<line x1="1123" y1="445" x2="1123" y2="985" stroke="#cfcfcf" stroke-width="1.6" stroke-dasharray="1.6 4"/>
<line x1="1123" y1="985" x2="1123" y2="1125" stroke="#8a8a8a" stroke-width="1.8" stroke-dasharray="1.8 4"/>
<line x1="1046.5" y1="1118" x2="1046.5" y2="1126" stroke="#999" stroke-width="1.5" stroke-dasharray="1.5 3"/>
<polyline points="736.3,887.3 745,904.8 794.5,957.2 822,980 834,990.5 856.5,1012.6 873.1,1026.1 891.1,1056.4 870.9,1078.9 867.5,1092.4 878.8,1107 876.5,1110.4 801.2,1124.5" fill="none" stroke="#a54545" stroke-width="5.5" stroke-dasharray="5.5 5.5"/>
<polyline points="566,470 564.1,510.6 564.1,544.1 585,589.2 599.6,632.9 618.5,678 630.2,696.9 630.2,712.9 633.1,728.9 643.3,749.3 644.7,761.8 641.2,772.6 642.7,793 646,814.6 681.5,884.4 694.6,922.2 701.9,955.7 713.5,980 720.8,995.7 720.8,1011.5 723.6,1023.8 729.2,1031.7 756.2,1048.6 780.9,1058.7 801.2,1074.4 815.8,1077.8 820.9,1087.9 822,1103.1 815.8,1109.3 783.2,1116 758.5,1125" fill="none" stroke="#80b3fc" stroke-width="2.8" />
<polyline points="493.4,98.3 483.3,103.8 464.5,120.1 458.2,134 430.6,162.9 411.7,179.2 413,186.8 386.6,206.9 369,232 368.2,253.4 354.6,262.2 357.7,286.1 375.2,322.5 371.5,346.4 375.2,366.5 372.2,370.8 385.3,400.4 386.6,414.3 389.8,424.3 385.3,455.7 352.2,480.9 352.8,527.5 366.7,543.2 331.8,582.5 294.6,614.5 203.7,644.5 352.2,677.1 327.4,696.9 409.8,716.4 438.6,728.9 413.3,750.1 378.4,762.4 414.8,773.4 489,814.5 478.8,853.8 486.1,864.6 542,905.4 507.9,957.2 504.4,986.3 513.7,996.5 489,1011.9 480.3,1027.6 700,1058.7 732.6,1065.4 769.7,1072.2 796.1,1077.8 809.6,1088.5 805.7,1101.4 797.8,1107.6 770.8,1113.2 744.4,1126.1" fill="none" stroke="#6495ed" stroke-width="7.3" />
<polyline points="857.9,98.3 847.8,102.5 827.7,120.1 808.9,164.1 796.3,171.7 788,180 790,188 774.9,210.6 746,230.7 732.2,253.4 718.4,262.2 710.8,288.6 683.2,323.8 669.4,346.4 644.2,366.5 627.9,400.4 612.8,410.5 587.7,446.9 567.6,457 566.2,484 566.7,516.4 567.6,542.6 590.9,586.3 611.2,627 622.9,650.3 634.5,676.5 650.5,696.9 650.5,711.4 653.4,728.9 669.4,749.3 674.7,762.4 670.9,772.6 672.4,792.9 675.9,814.8 733.9,887.3 742.6,904.8 792.1,957.2 819.5,980 831.5,990.5 854,1012.6 870.9,1026.1 877.6,1058.7 859.6,1069.9 850.1,1073.9 843.3,1089.6 852.9,1102.5 851.8,1109.3 776.4,1125.6" fill="none" stroke="#ff0000" stroke-width="7.3" />
<polyline points="355.1,102.5 395.4,205.6 435.6,288.6 478.3,371.5 491.9,400 526.8,453.8 564.2,520 628.7,612.5 700,723 738.3,800 765.9,858.2 800.8,974.6 811.3,1019.3 818,1058.7 822,1086.2 870.9,1124.5" fill="none" stroke="#808080" stroke-width="2.9" stroke-dasharray="10.3 4.5" opacity="0.56"/>
<polyline points="394.1,100 423,175.4 463.2,258.4 507.3,346.4 541.3,402.9 572.8,457 617.3,520 656.5,580.5 701.7,653.2 717.5,680.4 751.8,749.7 774.5,800 803.7,872.8 829.9,971.7 838.3,1013.7 841.7,1039.6 846.1,1075.6 879.8,1101.5" fill="none" stroke="#808080" stroke-width="2.9" stroke-dasharray="10.3 4.5" opacity="0.56"/>
<polyline points="721.4,1012.6 742.7,1123.9" fill="none" stroke="#a030a0" stroke-width="1" stroke-dasharray="3 2"/>
<polyline points="407.9,101.3 429.2,165.4 464.9,260.9 506,346.4 539.9,402.9 571.3,457 615.8,520 654.9,580.5 700,653.2 716.5,680.4 750.5,749.7 771.7,804.4 803.7,901.9 829.3,995.7 834.9,1025 841.1,1052 845,1075.6 878.8,1102.5" fill="none" stroke="#ff0000" stroke-width="4.1" stroke-dasharray="16 6.6"/>
<text x="291.4" y="346.9" font-size="20.1" fill="#55ad55" textLength="29" lengthAdjust="spacingAndGlyphs" >4%</text>
<path d="M327.4 340.3 L339.7 340.3 M336.1 336.5 L340.5 340.3 L336.1 344.2" fill="none" stroke="#55ad55" stroke-width="1.4" stroke-linejoin="miter"/>
<text x="262" y="566.3" font-size="19.9" fill="#55ad55" textLength="40.1" lengthAdjust="spacingAndGlyphs" >12%</text>
<path d="M309 559.8 L321.1 559.8 M317.6 556 L322 559.8 L317.6 563.6" fill="none" stroke="#55ad55" stroke-width="1.4" stroke-linejoin="miter"/>
<text x="316.7" y="769.5" font-size="20.1" fill="#55ad55" textLength="40.6" lengthAdjust="spacingAndGlyphs" >14%</text>
<path d="M364.2 762.9 L376.5 762.9 M373 759.1 L377.3 762.9 L373 766.8" fill="none" stroke="#55ad55" stroke-width="1.4" stroke-linejoin="miter"/>
<text x="424" y="954.7" font-size="20" fill="#55ad55" textLength="40.5" lengthAdjust="spacingAndGlyphs" >19%</text>
<path d="M471.3 948.1 L483.6 948.1 M480.1 944.3 L484.4 948.1 L480.1 952" fill="none" stroke="#55ad55" stroke-width="1.4" stroke-linejoin="miter"/>
<text x="654.7" y="1069.1" font-size="19.9" fill="#55ad55" textLength="40.2" lengthAdjust="spacingAndGlyphs" >53%</text>
<path d="M701.7 1062.6 L713.9 1062.6 M710.4 1058.8 L714.8 1062.6 L710.4 1066.4" fill="none" stroke="#55ad55" stroke-width="1.4" stroke-linejoin="miter"/>
<path d="M677.1 439.6 L664.8 439.6 M668.3 435.8 L664 439.6 L668.3 443.4" fill="none" stroke="#ff6e6e" stroke-width="1.4" stroke-linejoin="miter"/>
<text x="678.1" y="446.1" font-size="20" fill="#ff6e6e" textLength="79.7" lengthAdjust="spacingAndGlyphs" >1631J/kg</text>
<path d="M1002.1 762.9 L989.7 762.9 M993.3 759 L988.9 762.9 L993.3 766.7" fill="none" stroke="#ff6e6e" stroke-width="1.4" stroke-linejoin="miter"/>
<text x="1003.2" y="769.5" font-size="20.2" fill="#ff6e6e" textLength="68.8" lengthAdjust="spacingAndGlyphs" >720J/kg</text>
<path d="M1015.2 948.9 L1005.1 948.9 M1007.7 945.6 L1003.9 948.9 L1007.7 952.2" fill="none" stroke="#a6c1f3" stroke-width="1.9" stroke-linejoin="miter"/>
<text x="1016.1" y="954.5" font-size="17.1" fill="#a6c1f3" font-weight="bold" textLength="33.9" lengthAdjust="spacingAndGlyphs" >FRZ</text>
<path d="M1042.2 948.9 L1029.8 948.9 M1033.4 945 L1029 948.9 L1033.4 952.7" fill="none" stroke="#ff6e6e" stroke-width="1.4" stroke-linejoin="miter"/>
<text x="1043.3" y="955.5" font-size="20.2" fill="#ff6e6e" textLength="57.3" lengthAdjust="spacingAndGlyphs" >29J/kg</text>
<path d="M1015.7 1012.9 L1005.2 1012.9 M1007.9 1009.5 L1004 1012.9 L1007.9 1016.4" fill="none" stroke="#a6c1f3" stroke-width="2" stroke-linejoin="miter"/>
<text x="1016.7" y="1018.8" font-size="17.9" fill="#a6c1f3" font-weight="bold" textLength="41.7" lengthAdjust="spacingAndGlyphs" >WB0</text>
<path d="M1089.2 235.7 L1076 235.7 M1079.3 231.4 L1074.4 235.7 L1079.3 240" fill="none" stroke="#8c8c8c" stroke-width="2.6" stroke-linejoin="miter"/>
<text x="1090.3" y="243.1" font-size="22.5" fill="#8c8c8c" font-weight="bold" textLength="85.4" lengthAdjust="spacingAndGlyphs" >MUMPL</text>
<path d="M1089.1 438.1 L1076 438.1 M1079.3 433.8 L1074.4 438.1 L1079.3 442.3" fill="none" stroke="#8c8c8c" stroke-width="2.5" stroke-linejoin="miter"/>
<text x="1090.3" y="445.4" font-size="22.4" fill="#8c8c8c" font-weight="bold" textLength="63.7" lengthAdjust="spacingAndGlyphs" >MUEL</text>
<path d="M1088.9 980.6 L1075.8 980.6 M1079.1 976.4 L1074.2 980.6 L1079.1 984.9" fill="none" stroke="#8c8c8c" stroke-width="2.6" stroke-linejoin="miter"/>
<text x="1090.1" y="988" font-size="22.5" fill="#8c8c8c" font-weight="bold" textLength="78.9" lengthAdjust="spacingAndGlyphs" >MULFC</text>
<path d="M1089 1100.8 L1075.8 1100.8 M1079.1 1096.5 L1074.2 1100.8 L1079.1 1105.1" fill="none" stroke="#8c8c8c" stroke-width="2.6" stroke-linejoin="miter"/>
<text x="1090.2" y="1108.2" font-size="22.5" fill="#8c8c8c" font-weight="bold" textLength="71.5" lengthAdjust="spacingAndGlyphs" >SBLCL</text>
<path d="M1033 1113.6 L1024.4 1113.6 M1026.6 1110.8 L1023.4 1113.6 L1026.6 1116.4" fill="none" stroke="#8c8c8c" stroke-width="1.7" stroke-linejoin="miter"/>
<text x="1033.8" y="1118.4" font-size="14.7" fill="#8c8c8c" font-weight="bold" textLength="28.4" lengthAdjust="spacingAndGlyphs" >PBL</text>
<text x="704.5" y="1145.3" font-size="17" fill="#8eaef0" font-weight="bold" textLength="39.9" lengthAdjust="spacingAndGlyphs" >49°F</text>
<text x="780.9" y="1145.3" font-size="17.1" fill="#ff5050" font-weight="bold" textLength="40" lengthAdjust="spacingAndGlyphs" >54°F</text>
</g>
<line x1="1244.2" y1="153.7" x2="1244.2" y2="1192.5" stroke="#505050" stroke-width="1.3" />
<line x1="1244.2" y1="228.4" x2="1199.8" y2="236.7" stroke="#000" stroke-width="2.1" />
<circle cx="1244.2" cy="228.4" r="3.3" fill="#000" stroke="none" stroke-width="1" />
<polygon points="1199.8,236.7 1200.9,218.1 1208.7,235" fill="#000" stroke="#000" stroke-width="1" />
<line x1="1244.2" y1="252.6" x2="1203.1" y2="269.9" stroke="#000" stroke-width="2.1" />
<circle cx="1244.2" cy="252.6" r="3.3" fill="#000" stroke="none" stroke-width="1" />
<line x1="1203.1" y1="269.9" x2="1191" y2="255.6" stroke="#000" stroke-width="2.1" />
<line x1="1208.2" y1="267.7" x2="1196.2" y2="253.5" stroke="#000" stroke-width="2.1" />
<line x1="1213.4" y1="265.6" x2="1201.3" y2="251.3" stroke="#000" stroke-width="2.1" />
<line x1="1218.5" y1="263.4" x2="1206.5" y2="249.1" stroke="#000" stroke-width="2.1" />
<line x1="1223.7" y1="261.2" x2="1217.6" y2="254.1" stroke="#000" stroke-width="2.1" />
<line x1="1244.2" y1="287.9" x2="1202.1" y2="303.2" stroke="#000" stroke-width="2.1" />
<circle cx="1244.2" cy="287.9" r="3.3" fill="#000" stroke="none" stroke-width="1" />
<line x1="1202.1" y1="303.2" x2="1190.7" y2="288.3" stroke="#000" stroke-width="2.1" />
<line x1="1207.4" y1="301.3" x2="1196" y2="286.4" stroke="#000" stroke-width="2.1" />
<line x1="1212.6" y1="299.4" x2="1201.2" y2="284.4" stroke="#000" stroke-width="2.1" />
<line x1="1217.9" y1="297.5" x2="1206.5" y2="282.5" stroke="#000" stroke-width="2.1" />
<line x1="1223.2" y1="295.5" x2="1217.5" y2="288.1" stroke="#000" stroke-width="2.1" />
<line x1="1244.2" y1="321.4" x2="1199.8" y2="329.3" stroke="#000" stroke-width="2.1" />
<circle cx="1244.2" cy="321.4" r="3.3" fill="#000" stroke="none" stroke-width="1" />
<polygon points="1199.8,329.3 1201.1,310.8 1208.7,327.7" fill="#000" stroke="#000" stroke-width="1" />
<line x1="1213.1" y1="326.9" x2="1204.4" y2="310.2" stroke="#000" stroke-width="2.1" />
<line x1="1244.2" y1="347.2" x2="1203.1" y2="365.7" stroke="#000" stroke-width="2.1" />
<circle cx="1244.2" cy="347.2" r="3.3" fill="#000" stroke="none" stroke-width="1" />
<polygon points="1203.1,365.7 1199.8,347.4 1211.3,362" fill="#000" stroke="#000" stroke-width="1" />
<line x1="1215.4" y1="360.1" x2="1209.2" y2="353.1" stroke="#000" stroke-width="2.1" />
<line x1="1244.2" y1="390.9" x2="1203.1" y2="409.4" stroke="#000" stroke-width="2.1" />
<circle cx="1244.2" cy="390.9" r="3.3" fill="#000" stroke="none" stroke-width="1" />
<polygon points="1203.1,409.4 1199.8,391.1 1211.3,405.7" fill="#000" stroke="#000" stroke-width="1" />
<line x1="1244.2" y1="413.9" x2="1203.1" y2="432.2" stroke="#000" stroke-width="2.1" />
<circle cx="1244.2" cy="413.9" r="3.3" fill="#000" stroke="none" stroke-width="1" />
<polygon points="1203.1,432.2 1199.9,413.9 1211.3,428.5" fill="#000" stroke="#000" stroke-width="1" />
<line x1="1215.4" y1="426.7" x2="1209.2" y2="419.6" stroke="#000" stroke-width="2.1" />
<line x1="1244.2" y1="455.4" x2="1204.1" y2="476.8" stroke="#000" stroke-width="2.1" />
<circle cx="1244.2" cy="455.4" r="3.3" fill="#000" stroke="none" stroke-width="1" />
<polygon points="1204.1,476.8 1199.6,458.6 1212.1,472.5" fill="#000" stroke="#000" stroke-width="1" />
<line x1="1244.2" y1="481.2" x2="1208.1" y2="505.6" stroke="#000" stroke-width="2.1" />
<circle cx="1244.2" cy="481.2" r="3.3" fill="#000" stroke="none" stroke-width="1" />
<polygon points="1208.1,505.6 1202,488.7 1215.3,500.7" fill="#000" stroke="#000" stroke-width="1" />
<line x1="1244.2" y1="525.6" x2="1213" y2="555.8" stroke="#000" stroke-width="2.1" />
<circle cx="1244.2" cy="525.6" r="3.3" fill="#000" stroke="none" stroke-width="1" />
<line x1="1213" y1="555.8" x2="1197" y2="547.1" stroke="#000" stroke-width="2.1" />
<line x1="1216.9" y1="552" x2="1200.9" y2="543.3" stroke="#000" stroke-width="2.1" />
<line x1="1220.8" y1="548.2" x2="1204.8" y2="539.5" stroke="#000" stroke-width="2.1" />
<line x1="1224.7" y1="544.5" x2="1216.7" y2="540.1" stroke="#000" stroke-width="2.1" />
<line x1="1244.2" y1="547.4" x2="1210.1" y2="575.8" stroke="#000" stroke-width="2.1" />
<circle cx="1244.2" cy="547.4" r="3.3" fill="#000" stroke="none" stroke-width="1" />
<line x1="1210.1" y1="575.8" x2="1194.5" y2="565.7" stroke="#000" stroke-width="2.1" />
<line x1="1214.4" y1="572.2" x2="1198.7" y2="562.2" stroke="#000" stroke-width="2.1" />
<line x1="1218.6" y1="568.7" x2="1203" y2="558.6" stroke="#000" stroke-width="2.1" />
<line x1="1222.9" y1="565.1" x2="1207.3" y2="555.1" stroke="#000" stroke-width="2.1" />
<line x1="1244.2" y1="581.7" x2="1215" y2="614.2" stroke="#000" stroke-width="2.1" />
<circle cx="1244.2" cy="581.7" r="3.3" fill="#000" stroke="none" stroke-width="1" />
<line x1="1215" y1="614.2" x2="1198.4" y2="606.6" stroke="#000" stroke-width="2.1" />
<line x1="1218.7" y1="610.1" x2="1202" y2="602.5" stroke="#000" stroke-width="2.1" />
<line x1="1222.3" y1="606.1" x2="1205.7" y2="598.5" stroke="#000" stroke-width="2.1" />
<line x1="1226" y1="602" x2="1209.3" y2="594.4" stroke="#000" stroke-width="2.1" />
<line x1="1244.2" y1="613.8" x2="1213" y2="645" stroke="#000" stroke-width="2.1" />
<circle cx="1244.2" cy="613.8" r="3.3" fill="#000" stroke="none" stroke-width="1" />
<line x1="1213" y1="645" x2="1196.6" y2="636.4" stroke="#000" stroke-width="2.1" />
<line x1="1216.9" y1="641.1" x2="1200.5" y2="632.5" stroke="#000" stroke-width="2.1" />
<line x1="1220.8" y1="637.2" x2="1204.4" y2="628.6" stroke="#000" stroke-width="2.1" />
<line x1="1224.7" y1="633.3" x2="1208.3" y2="624.7" stroke="#000" stroke-width="2.1" />
<line x1="1244.2" y1="654.1" x2="1216" y2="687.2" stroke="#000" stroke-width="2.1" />
<circle cx="1244.2" cy="654.1" r="3.3" fill="#000" stroke="none" stroke-width="1" />
<line x1="1216" y1="687.2" x2="1199.2" y2="680.1" stroke="#000" stroke-width="2.1" />
<line x1="1219.5" y1="683.1" x2="1202.8" y2="675.9" stroke="#000" stroke-width="2.1" />
<line x1="1223" y1="678.9" x2="1206.3" y2="671.8" stroke="#000" stroke-width="2.1" />
<line x1="1226.6" y1="674.8" x2="1209.8" y2="667.6" stroke="#000" stroke-width="2.1" />
<line x1="1230.1" y1="670.6" x2="1221.7" y2="667.1" stroke="#000" stroke-width="2.1" />
<line x1="1244.2" y1="676.9" x2="1218" y2="712.4" stroke="#000" stroke-width="2.1" />
<circle cx="1244.2" cy="676.9" r="3.3" fill="#000" stroke="none" stroke-width="1" />
<line x1="1218" y1="712.4" x2="1200.5" y2="706.4" stroke="#000" stroke-width="2.1" />
<line x1="1221.3" y1="708" x2="1203.8" y2="701.9" stroke="#000" stroke-width="2.1" />
<line x1="1224.5" y1="703.5" x2="1207.1" y2="697.5" stroke="#000" stroke-width="2.1" />
<line x1="1227.8" y1="699.1" x2="1210.3" y2="693" stroke="#000" stroke-width="2.1" />
<line x1="1231.1" y1="694.6" x2="1222.4" y2="691.6" stroke="#000" stroke-width="2.1" />
<line x1="1244.2" y1="716.4" x2="1210.1" y2="744.8" stroke="#000" stroke-width="2.1" />
<circle cx="1244.2" cy="716.4" r="3.3" fill="#000" stroke="none" stroke-width="1" />
<line x1="1210.1" y1="744.8" x2="1194.5" y2="734.7" stroke="#000" stroke-width="2.1" />
<line x1="1214.4" y1="741.2" x2="1198.7" y2="731.2" stroke="#000" stroke-width="2.1" />
<line x1="1218.6" y1="737.7" x2="1203" y2="727.6" stroke="#000" stroke-width="2.1" />
<line x1="1222.9" y1="734.1" x2="1207.3" y2="724.1" stroke="#000" stroke-width="2.1" />
<line x1="1244.2" y1="749.2" x2="1208.1" y2="772.6" stroke="#000" stroke-width="2.1" />
<circle cx="1244.2" cy="749.2" r="3.3" fill="#000" stroke="none" stroke-width="1" />
<line x1="1208.1" y1="772.6" x2="1194.2" y2="761.1" stroke="#000" stroke-width="2.1" />
<line x1="1212.6" y1="769.7" x2="1198.7" y2="758.2" stroke="#000" stroke-width="2.1" />
<line x1="1217.1" y1="766.8" x2="1203.3" y2="755.2" stroke="#000" stroke-width="2.1" />
<line x1="1221.6" y1="763.8" x2="1207.8" y2="752.3" stroke="#000" stroke-width="2.1" />
<line x1="1226.2" y1="760.9" x2="1219.2" y2="755.1" stroke="#000" stroke-width="2.1" />
<line x1="1244.2" y1="775.2" x2="1203.7" y2="793.5" stroke="#000" stroke-width="2.1" />
<circle cx="1244.2" cy="775.2" r="3.3" fill="#000" stroke="none" stroke-width="1" />
<line x1="1203.7" y1="793.5" x2="1191.3" y2="779.6" stroke="#000" stroke-width="2.1" />
<line x1="1208.8" y1="791.2" x2="1196.4" y2="777.3" stroke="#000" stroke-width="2.1" />
<line x1="1213.8" y1="788.9" x2="1201.4" y2="775" stroke="#000" stroke-width="2.1" />
<line x1="1218.9" y1="786.6" x2="1212.7" y2="779.7" stroke="#000" stroke-width="2.1" />
<line x1="1244.2" y1="814.9" x2="1201.7" y2="829.8" stroke="#000" stroke-width="2.1" />
<circle cx="1244.2" cy="814.9" r="3.3" fill="#000" stroke="none" stroke-width="1" />
<line x1="1201.7" y1="829.8" x2="1190.4" y2="814.7" stroke="#000" stroke-width="2.1" />
<line x1="1244.2" y1="852" x2="1201.2" y2="863.3" stroke="#000" stroke-width="2.1" />
<circle cx="1244.2" cy="852" r="3.3" fill="#000" stroke="none" stroke-width="1" />
<line x1="1201.2" y1="863.3" x2="1191.3" y2="847.5" stroke="#000" stroke-width="2.1" />
<line x1="1206.6" y1="861.9" x2="1196.7" y2="846.1" stroke="#000" stroke-width="2.1" />
<line x1="1244.2" y1="887.7" x2="1201.5" y2="898.6" stroke="#000" stroke-width="2.1" />
<circle cx="1244.2" cy="887.7" r="3.3" fill="#000" stroke="none" stroke-width="1" />
<line x1="1201.5" y1="898.6" x2="1191.8" y2="882.9" stroke="#000" stroke-width="2.1" />
<line x1="1206.8" y1="897.2" x2="1202" y2="889.4" stroke="#000" stroke-width="2.1" />
<line x1="1244.2" y1="908.2" x2="1202.2" y2="922.5" stroke="#000" stroke-width="2.1" />
<circle cx="1244.2" cy="908.2" r="3.3" fill="#000" stroke="none" stroke-width="1" />
<line x1="1202.2" y1="922.5" x2="1191.2" y2="907.5" stroke="#000" stroke-width="2.1" />
<line x1="1207.5" y1="920.7" x2="1202" y2="913.2" stroke="#000" stroke-width="2.1" />
<line x1="1244.2" y1="944.3" x2="1201.2" y2="955.6" stroke="#000" stroke-width="2.1" />
<circle cx="1244.2" cy="944.3" r="3.3" fill="#000" stroke="none" stroke-width="1" />
<line x1="1201.2" y1="955.6" x2="1191.3" y2="939.8" stroke="#000" stroke-width="2.1" />
<line x1="1206.6" y1="954.2" x2="1196.7" y2="938.4" stroke="#000" stroke-width="2.1" />
<line x1="1244.2" y1="980.4" x2="1201.2" y2="991.5" stroke="#000" stroke-width="2.1" />
<circle cx="1244.2" cy="980.4" r="3.3" fill="#000" stroke="none" stroke-width="1" />
<line x1="1201.2" y1="991.5" x2="1191.4" y2="975.7" stroke="#000" stroke-width="2.1" />
<line x1="1206.6" y1="990.1" x2="1196.8" y2="974.3" stroke="#000" stroke-width="2.1" />
<line x1="1244.2" y1="1015.4" x2="1199.4" y2="1019.2" stroke="#000" stroke-width="2.1" />
<circle cx="1244.2" cy="1015.4" r="3.3" fill="#000" stroke="none" stroke-width="1" />
<line x1="1199.4" y1="1019.2" x2="1192.3" y2="1001.8" stroke="#000" stroke-width="2.1" />
<line x1="1205" y1="1018.7" x2="1197.9" y2="1001.3" stroke="#000" stroke-width="2.1" />
<line x1="1210.6" y1="1018.2" x2="1207" y2="1009.5" stroke="#000" stroke-width="2.1" />
<line x1="1244.2" y1="1049.6" x2="1210.2" y2="1078" stroke="#000" stroke-width="2.1" />
<circle cx="1244.2" cy="1049.6" r="3.3" fill="#000" stroke="none" stroke-width="1" />
<line x1="1210.2" y1="1078" x2="1194.6" y2="1068" stroke="#000" stroke-width="2.1" />
<line x1="1214.5" y1="1074.4" x2="1198.8" y2="1064.4" stroke="#000" stroke-width="2.1" />
<line x1="1218.7" y1="1070.9" x2="1203.1" y2="1060.8" stroke="#000" stroke-width="2.1" />
<line x1="1223" y1="1067.3" x2="1215.1" y2="1062.3" stroke="#000" stroke-width="2.1" />
<line x1="1244.2" y1="1078.4" x2="1221.1" y2="1116.2" stroke="#000" stroke-width="2.1" />
<circle cx="1244.2" cy="1078.4" r="3.3" fill="#000" stroke="none" stroke-width="1" />
<line x1="1221.1" y1="1116.2" x2="1203.1" y2="1111.7" stroke="#000" stroke-width="2.1" />
<line x1="1224" y1="1111.5" x2="1206" y2="1107" stroke="#000" stroke-width="2.1" />
<line x1="1226.9" y1="1106.8" x2="1208.9" y2="1102.2" stroke="#000" stroke-width="2.1" />
<line x1="1229.8" y1="1102" x2="1220.8" y2="1099.8" stroke="#000" stroke-width="2.1" />
<line x1="1244.2" y1="1113.9" x2="1247.5" y2="1157.9" stroke="#000" stroke-width="2.1" />
<circle cx="1244.2" cy="1113.9" r="3.3" fill="#000" stroke="none" stroke-width="1" />
<line x1="1247.5" y1="1157.9" x2="1230.3" y2="1164.7" stroke="#000" stroke-width="2.1" />
<line x1="1247.1" y1="1152.4" x2="1229.9" y2="1159.2" stroke="#000" stroke-width="2.1" />
<line x1="1246.7" y1="1146.9" x2="1229.5" y2="1153.7" stroke="#000" stroke-width="2.1" />
<line x1="1244.2" y1="1124.5" x2="1262.8" y2="1164.2" stroke="#000" stroke-width="2.1" />
<circle cx="1244.2" cy="1124.5" r="3.3" fill="#000" stroke="none" stroke-width="1" />
<line x1="1262.8" y1="1164.2" x2="1249.2" y2="1176.6" stroke="#000" stroke-width="2.1" />
<line x1="1260.5" y1="1159.2" x2="1253.7" y2="1165.4" stroke="#000" stroke-width="2.1" />
<rect x="37.2" y="104.9" width="178.8" height="171" rx="3" fill="#fff" fill-opacity="0.8" stroke="#d4d4d4" stroke-width="1.2"/>
<line x1="42" y1="117" x2="73" y2="117" stroke="#80b3fc" stroke-width="2.8" />
<text x="81.9" y="122" font-size="15.3" fill="#000" textLength="110.1" lengthAdjust="spacingAndGlyphs" >WETBULB TEMP</text>
<line x1="42" y1="137.6" x2="73" y2="137.6" stroke="#a54545" stroke-width="5.5" stroke-dasharray="5.5 5.5"/>
<text x="81.9" y="142.6" font-size="15.3" fill="#000" textLength="100.2" lengthAdjust="spacingAndGlyphs" >VIRTUAL TEMP</text>
<line x1="42" y1="158.9" x2="73" y2="158.9" stroke="#6495ed" stroke-width="7.3" />
<text x="81.9" y="163.9" font-size="15.3" fill="#000" textLength="75.5" lengthAdjust="spacingAndGlyphs" >DEWPOINT</text>
<line x1="42" y1="179.9" x2="73" y2="179.9" stroke="#ff0000" stroke-width="7.3" />
<text x="81.9" y="184.9" font-size="15.3" fill="#000" textLength="101.1" lengthAdjust="spacingAndGlyphs" >TEMPERATURE</text>
<line x1="42" y1="200.9" x2="73" y2="200.9" stroke="#ff0000" stroke-width="4.1" stroke-dasharray="16 6.6"/>
<text x="81.9" y="205.9" font-size="15.3" fill="#000" textLength="123.9" lengthAdjust="spacingAndGlyphs" >MUECAPE PARCEL</text>
<line x1="42" y1="221.9" x2="73" y2="221.9" stroke="#b6b6b6" stroke-width="2.9" stroke-dasharray="10.3 4.5"/>
<text x="81.9" y="226.9" font-size="15.3" fill="#000" textLength="112.7" lengthAdjust="spacingAndGlyphs" >MLCAPE PARCEL</text>
<line x1="42" y1="243.2" x2="73" y2="243.2" stroke="#b6b6b6" stroke-width="2.9" stroke-dasharray="10.3 4.5"/>
<text x="81.9" y="248.2" font-size="15.3" fill="#000" textLength="115.2" lengthAdjust="spacingAndGlyphs" >MUCAPE PARCEL</text>
<line x1="42" y1="264.2" x2="73" y2="264.2" stroke="#a030a0" stroke-width="1" stroke-dasharray="3 2"/>
<text x="81.9" y="269.2" font-size="15.3" fill="#000" textLength="128.1" lengthAdjust="spacingAndGlyphs" >DWNDRFT PARCEL</text>
<line x1="1301.2" y1="424.4" x2="1389.6" y2="424.4" stroke="#848484" stroke-width="1.05" />
<line x1="1301.2" y1="614.9" x2="1389.6" y2="614.9" stroke="#848484" stroke-width="1.05" />
<line x1="1301.2" y1="750.1" x2="1389.6" y2="750.1" stroke="#848484" stroke-width="1.05" />
<line x1="1301.2" y1="855" x2="1389.6" y2="855" stroke="#848484" stroke-width="1.05" />
<line x1="1301.2" y1="940.6" x2="1389.6" y2="940.6" stroke="#848484" stroke-width="1.05" />
<line x1="1301.2" y1="1013.1" x2="1389.6" y2="1013.1" stroke="#848484" stroke-width="1.05" />
<line x1="1301.2" y1="1075.8" x2="1389.6" y2="1075.8" stroke="#848484" stroke-width="1.05" />
<line x1="1301.2" y1="1131.2" x2="1389.6" y2="1131.2" stroke="#848484" stroke-width="1.05" />
<line x1="1301.2" y1="1180.7" x2="1389.6" y2="1180.7" stroke="#848484" stroke-width="1.05" />
<rect x="1328.5" y="253" width="10" height="255.5" fill="#fdafaf" stroke="#c99b9b" stroke-width="0.8" />
<rect x="1320.4" y="508.5" width="8.1" height="163.4" fill="#ccddf7" stroke="#a3adc0" stroke-width="0.8" />
<rect x="1324.4" y="671.9" width="4.1" height="121.2" fill="#ccddf7" stroke="#a3adc0" stroke-width="0.8" />
<rect x="1328" y="793.1" width="0.6" height="97" fill="#fdafaf" stroke="none" stroke-width="1" />
<rect x="1322.4" y="890.1" width="6.1" height="80.4" fill="#ccddf7" stroke="#a3adc0" stroke-width="0.8" />
<rect x="1328.5" y="970.5" width="32.7" height="68.7" fill="#fdafaf" stroke="#c99b9b" stroke-width="0.8" />
<rect x="1328.5" y="1039.2" width="40.8" height="59.8" fill="#fdafaf" stroke="#c99b9b" stroke-width="0.8" />
<line x1="1328.5" y1="98.5" x2="1328.5" y2="1203.6" stroke="#000" stroke-width="1.35" stroke-dasharray="5.4 1.9"/>
<text x="1330" y="421.9" font-size="14.7" fill="#000" font-weight="bold" textLength="23.7" lengthAdjust="spacingAndGlyphs" >2.1</text>
<text x="1302.8" y="613.4" font-size="14.7" fill="#000" font-weight="bold" textLength="23.7" lengthAdjust="spacingAndGlyphs" >1.6</text>
<text x="1302.8" y="749.1" font-size="14.7" fill="#000" font-weight="bold" textLength="23.7" lengthAdjust="spacingAndGlyphs" >0.8</text>
<text x="1330.5" y="854.6" font-size="14.7" fill="#000" font-weight="bold" textLength="23.7" lengthAdjust="spacingAndGlyphs" >0.1</text>
<text x="1302.8" y="940.3" font-size="14.7" fill="#000" font-weight="bold" textLength="23.7" lengthAdjust="spacingAndGlyphs" >1.1</text>
<text x="1330.5" y="1012.2" font-size="14.7" fill="#000" font-weight="bold" textLength="23.7" lengthAdjust="spacingAndGlyphs" >6.9</text>
<text x="1330.5" y="1075.6" font-size="14.7" fill="#000" font-weight="bold" textLength="23.7" lengthAdjust="spacingAndGlyphs" >8.7</text>
<rect x="1301.2" y="98.5" width="88.4" height="1105.1" fill="none" stroke="#000" stroke-width="1.3" />
<defs><clipPath id="hoc"><rect x="1389.6" y="98.5" width="1022.9" height="1105.1"/></clipPath></defs>
<g clip-path="url(#hoc)" fill="none">
<circle cx="1794.2" cy="758.1" r="94.8" fill="none" stroke="#b6b6b6" stroke-width="1.1" stroke-dasharray="5.4 2.2"/>
<circle cx="1794.2" cy="758.1" r="189.6" fill="none" stroke="#d0d0d0" stroke-width="1.5" />
<circle cx="1794.2" cy="758.1" r="189.6" fill="none" stroke="#979797" stroke-width="1.5" stroke-dasharray="6 1.5"/>
<circle cx="1794.2" cy="758.1" r="284.4" fill="none" stroke="#b6b6b6" stroke-width="1.1" stroke-dasharray="5.4 2.2"/>
<circle cx="1794.2" cy="758.1" r="379.2" fill="none" stroke="#d0d0d0" stroke-width="1.5" />
<circle cx="1794.2" cy="758.1" r="379.2" fill="none" stroke="#979797" stroke-width="1.5" stroke-dasharray="6 1.5"/>
<circle cx="1794.2" cy="758.1" r="474" fill="none" stroke="#b6b6b6" stroke-width="1.1" stroke-dasharray="5.4 2.2"/>
<circle cx="1794.2" cy="758.1" r="568.8" fill="none" stroke="#d0d0d0" stroke-width="1.5" />
<circle cx="1794.2" cy="758.1" r="568.8" fill="none" stroke="#979797" stroke-width="1.5" stroke-dasharray="6 1.5"/>
<circle cx="1794.2" cy="758.1" r="663.6" fill="none" stroke="#b6b6b6" stroke-width="1.1" stroke-dasharray="5.4 2.2"/>
<circle cx="1794.2" cy="758.1" r="758.4" fill="none" stroke="#d0d0d0" stroke-width="1.5" />
<circle cx="1794.2" cy="758.1" r="758.4" fill="none" stroke="#979797" stroke-width="1.5" stroke-dasharray="6 1.5"/>
<circle cx="1794.2" cy="758.1" r="853.2" fill="none" stroke="#b6b6b6" stroke-width="1.1" stroke-dasharray="5.4 2.2"/>
<circle cx="1794.2" cy="758.1" r="948" fill="none" stroke="#d0d0d0" stroke-width="1.5" />
<circle cx="1794.2" cy="758.1" r="948" fill="none" stroke="#979797" stroke-width="1.5" stroke-dasharray="6 1.5"/>
<circle cx="1794.2" cy="758.1" r="1042.8" fill="none" stroke="#b6b6b6" stroke-width="1.1" stroke-dasharray="5.4 2.2"/>
<circle cx="1794.2" cy="758.1" r="1137.6" fill="none" stroke="#d0d0d0" stroke-width="1.5" />
<circle cx="1794.2" cy="758.1" r="1137.6" fill="none" stroke="#979797" stroke-width="1.5" stroke-dasharray="6 1.5"/>
<circle cx="1794.2" cy="758.1" r="1232.4" fill="none" stroke="#b6b6b6" stroke-width="1.1" stroke-dasharray="5.4 2.2"/>
<line x1="1389.6" y1="758.1" x2="2412.5" y2="758.1" stroke="#d4d4d4" stroke-width="1.4" />
<line x1="1389.6" y1="758.1" x2="2412.5" y2="758.1" stroke="#9a9a9a" stroke-width="1.4" stroke-dasharray="5.5 1.7"/>
<line x1="1794.2" y1="98.5" x2="1794.2" y2="1203.6" stroke="#d4d4d4" stroke-width="1.4" />
<line x1="1794.2" y1="98.5" x2="1794.2" y2="1203.6" stroke="#9a9a9a" stroke-width="1.4" stroke-dasharray="5.5 1.7"/>
<text x="1890.7" y="756.9" font-size="16.8" fill="#c9c9c9" font-weight="bold" textLength="21.3" lengthAdjust="spacingAndGlyphs" >10</text>
<text x="1701.1" y="756.9" font-size="16.8" fill="#c9c9c9" font-weight="bold" textLength="21.3" lengthAdjust="spacingAndGlyphs" >10</text>
<text x="1795.7" y="662.1" font-size="16.8" fill="#c9c9c9" font-weight="bold" textLength="21.3" lengthAdjust="spacingAndGlyphs" >10</text>
<text x="1795.7" y="851.7" font-size="16.8" fill="#c9c9c9" font-weight="bold" textLength="21.3" lengthAdjust="spacingAndGlyphs" >10</text>
<text x="2080.3" y="756.9" font-size="16.8" fill="#c9c9c9" font-weight="bold" textLength="21.3" lengthAdjust="spacingAndGlyphs" >30</text>
<text x="1511.5" y="756.9" font-size="16.8" fill="#c9c9c9" font-weight="bold" textLength="21.3" lengthAdjust="spacingAndGlyphs" >30</text>
<text x="1795.7" y="472.5" font-size="16.8" fill="#c9c9c9" font-weight="bold" textLength="21.3" lengthAdjust="spacingAndGlyphs" >30</text>
<text x="1795.7" y="1041.3" font-size="16.8" fill="#c9c9c9" font-weight="bold" textLength="21.3" lengthAdjust="spacingAndGlyphs" >30</text>
<text x="2269.9" y="756.9" font-size="16.8" fill="#c9c9c9" font-weight="bold" textLength="21.3" lengthAdjust="spacingAndGlyphs" >50</text>
<text x="1321.9" y="756.9" font-size="16.8" fill="#c9c9c9" font-weight="bold" textLength="21.3" lengthAdjust="spacingAndGlyphs" >50</text>
<text x="1795.7" y="282.9" font-size="16.8" fill="#c9c9c9" font-weight="bold" textLength="21.3" lengthAdjust="spacingAndGlyphs" >50</text>
<text x="1795.7" y="1230.9" font-size="16.8" fill="#c9c9c9" font-weight="bold" textLength="21.3" lengthAdjust="spacingAndGlyphs" >50</text>
<text x="2459.5" y="756.9" font-size="16.8" fill="#c9c9c9" font-weight="bold" textLength="21.3" lengthAdjust="spacingAndGlyphs" >70</text>
<text x="1132.3" y="756.9" font-size="16.8" fill="#c9c9c9" font-weight="bold" textLength="21.3" lengthAdjust="spacingAndGlyphs" >70</text>
<text x="1795.7" y="93.3" font-size="16.8" fill="#c9c9c9" font-weight="bold" textLength="21.3" lengthAdjust="spacingAndGlyphs" >70</text>
<text x="1795.7" y="1420.5" font-size="16.8" fill="#c9c9c9" font-weight="bold" textLength="21.3" lengthAdjust="spacingAndGlyphs" >70</text>
<polygon points="1975.8,769.1 1860.1,471.3 1881.2,467.6 1916.9,471.9 1942.1,482.5 1956.6,495.1" fill="#e4f2f8" stroke="#c4e2ed" stroke-width="2" stroke-linejoin="round"/>
<polygon points="1793.8,758.2 1838.9,758.8 1962.5,766.6 1960.7,763.6 1977.3,770.5 1960,775.2 1962.1,772.4 1838.5,763.6" fill="#cccccc" stroke="none" stroke-width="1" />
<polygon points="1962.6,765.9 1974.3,770.3 1962.1,773.1" fill="#b0b0b0" stroke="none" stroke-width="1" />
<polyline points="1733.4,633.3 1739.3,487.1 1772.5,457.4 1816.4,466.6 1881.2,467.6 1916.9,471.9 1942.1,482.5 1957.3,490.8 1973,487.5" fill="none" stroke="#800080" stroke-width="10.4" stroke-linejoin="round"/>
<polyline points="1973,487.5 1982.3,497.6 2010.6,518.4 2032.9,543 2047.8,566 2071.9,614 2072.7,629.8 2073.5,647.3 2061.6,685.4 2042.5,729.8 2033.8,753.7 2028.3,752.1 2014,731.4 1996.5,714 1986.2,708.4 1987.8,721.9 1977.3,718" fill="none" stroke="#ff0000" stroke-width="10.4" stroke-linejoin="round" stroke-linecap="round"/>
<polygon points="1889.1,719.2 1910.5,710.5 1913.1,706.4 1933.6,688.5 1937.1,687.1 1951,692.6 1959.7,699.5 1970.7,707 1977.3,718 1967.2,716.3 1951,720.9 1940.3,722.1 1923.2,719.8 1895.5,735.4 1892,735.4 1889.7,733.1 1887.1,723.2" fill="#ff8c00" stroke="#ff8c00" stroke-width="1.5" stroke-linejoin="round"/>
<polyline points="1944.3,703.6 2079,623.5 2099.7,598.9" fill="none" stroke="#ff8c00" stroke-width="10.4" stroke-linejoin="round"/>
<polyline points="2099.7,598.9 2111.8,576.4 2120,548.2 2125.2,527.3 2076.1,519.1 2073.1,509.5 2069.4,487.2 2050,404.6 2071.6,421 2035.2,424.6 2032.2,439.5 2040.4,475.2 2034.4,478.2 2045.6,497.6 2054.5,503.2" fill="none" stroke="#ffd700" stroke-width="10.4" stroke-linejoin="round" stroke-linecap="round"/>
<polyline points="2054.5,503.2 2038.1,522.1 2146,511 2183.2,487.2 2221.9,512.5 2228.5,551 2241.3,514.7 2251.2,509.2 2262.8,536 2231.6,554.9 2287.4,527.3" fill="none" stroke="#fff0a0" stroke-width="10.4" stroke-linejoin="round"/>
<circle cx="1891.4" cy="468.4" r="10.2" fill="#fff" stroke="#000" stroke-width="1.6" />
<text x="1882.6" y="474.3" font-size="18" fill="#000" font-weight="bold" textLength="17.6" lengthAdjust="spacingAndGlyphs" >.5</text>
<circle cx="1976.5" cy="493.1" r="10.2" fill="#fff" stroke="#000" stroke-width="1.6" />
<text x="1970.8" y="499" font-size="18" fill="#000" font-weight="bold" >1</text>
<circle cx="2039.4" cy="737" r="10.2" fill="#fff" stroke="#000" stroke-width="1.6" />
<text x="2033.7" y="742.9" font-size="18" fill="#000" font-weight="bold" >2</text>
<circle cx="1977.3" cy="718" r="10.2" fill="#fff" stroke="#000" stroke-width="1.6" />
<text x="1971.6" y="723.9" font-size="18" fill="#000" font-weight="bold" >3</text>
<circle cx="1940.3" cy="717.4" r="10.2" fill="#fff" stroke="#000" stroke-width="1.6" />
<text x="1934.6" y="723.3" font-size="18" fill="#000" font-weight="bold" >4</text>
<circle cx="1944.3" cy="703.6" r="10.2" fill="#fff" stroke="#000" stroke-width="1.6" />
<text x="1938.6" y="709.5" font-size="18" fill="#000" font-weight="bold" >5</text>
<circle cx="2099.5" cy="598.9" r="10.2" fill="#fff" stroke="#000" stroke-width="1.6" />
<text x="2093.8" y="604.8" font-size="18" fill="#000" font-weight="bold" >6</text>
<circle cx="2069.4" cy="487.1" r="10.2" fill="#fff" stroke="#000" stroke-width="1.6" />
<text x="2063.7" y="493" font-size="18" fill="#000" font-weight="bold" >7</text>
<circle cx="2035.2" cy="424.3" r="10.2" fill="#fff" stroke="#000" stroke-width="1.6" />
<text x="2029.5" y="430.2" font-size="18" fill="#000" font-weight="bold" >8</text>
<circle cx="2054.5" cy="503.2" r="10.2" fill="#fff" stroke="#000" stroke-width="1.6" />
<text x="2048.8" y="509.1" font-size="18" fill="#000" font-weight="bold" >9</text>
<circle cx="2251.2" cy="509.2" r="10.2" fill="#fff" stroke="#000" stroke-width="1.6" />
<text x="2239.8" y="515.1" font-size="18" fill="#000" font-weight="bold" textLength="22.8" lengthAdjust="spacingAndGlyphs" >11</text>
<text x="1996.2" y="496.8" font-size="20.5" fill="#111" font-weight="bold" textLength="30.4" lengthAdjust="spacingAndGlyphs" >LM</text>
<text x="1999.5" y="621.6" font-size="20.5" fill="#111" font-weight="bold" textLength="39" lengthAdjust="spacingAndGlyphs" >MW</text>
<text x="1981.5" y="773" font-size="20.5" fill="#111" font-weight="bold" textLength="32.8" lengthAdjust="spacingAndGlyphs" >RM</text>
<text x="2065.5" y="737" font-size="16.8" fill="#ffc978" font-weight="bold" textLength="25.5" lengthAdjust="spacingAndGlyphs" >DN</text>
<text x="1861.2" y="876.6" font-size="16.8" fill="#ffc978" font-weight="bold" textLength="23.6" lengthAdjust="spacingAndGlyphs" >UP</text>
<text x="1852.1" y="612.6" font-size="13.9" fill="#a83232" font-weight="bold" textLength="31.6" lengthAdjust="spacingAndGlyphs" >DTM</text>
<polygon points="1861.3,626.3 1874.5,626.3 1867.9,638.5" fill="#b04a4a" stroke="none" stroke-width="1" />
<text x="1411.5" y="125" font-size="22.8" fill="#666" font-weight="bold" textLength="370" lengthAdjust="spacingAndGlyphs" >SM: RIGHT MOVING | E @ 19 kts</text>
<text x="1410.6" y="155.1" font-size="22.8" fill="#747474" textLength="156.9" lengthAdjust="spacingAndGlyphs" >RM: E @ 19 kts</text>
<text x="1410.6" y="194.7" font-size="22.8" fill="#747474" textLength="169.4" lengthAdjust="spacingAndGlyphs" >LM: NE @ 34 kts</text>
<text x="1410.6" y="233.8" font-size="22.8" fill="#747474" textLength="177.1" lengthAdjust="spacingAndGlyphs" >MW: NE @ 25 kts</text>
<text x="1404.7" y="272.9" font-size="22.7" fill="#747474" textLength="201.5" lengthAdjust="spacingAndGlyphs" >DTM: NNE @ 15 kts</text>
<text x="1410.6" y="312.1" font-size="22.8" fill="#747474" textLength="165.9" lengthAdjust="spacingAndGlyphs" >US: SE @ 15 kts</text>
<text x="1410.6" y="351.2" font-size="22.8" fill="#747474" textLength="153.8" lengthAdjust="spacingAndGlyphs" >DS: E @ 29 kts</text>
</g>
<defs><clipPath id="inc"><rect x="1389.6" y="943.2" width="259.9" height="260"/></clipPath></defs>
<rect x="1389.6" y="943.2" width="259.9" height="260" fill="#fff" stroke="none" stroke-width="1" />
<g clip-path="url(#inc)" fill="none">
<line x1="1496.3" y1="1039.7" x2="1496.3" y2="1127.5" stroke="#cdcdcd" stroke-width="0.6" />
<line x1="1523.2" y1="1039.7" x2="1523.2" y2="1127.5" stroke="#cdcdcd" stroke-width="0.6" />
<line x1="1550.5" y1="1039.7" x2="1550.5" y2="1127.5" stroke="#cdcdcd" stroke-width="0.6" />
<line x1="1577.5" y1="1039.7" x2="1577.5" y2="1127.5" stroke="#cdcdcd" stroke-width="0.6" />
<line x1="1452" y1="1062.5" x2="1604.2" y2="1062.5" stroke="#cdcdcd" stroke-width="0.6" />
<line x1="1452" y1="1083.6" x2="1604.2" y2="1083.6" stroke="#cdcdcd" stroke-width="0.6" />
<line x1="1452" y1="1105.2" x2="1604.2" y2="1105.2" stroke="#cdcdcd" stroke-width="0.6" />
<line x1="1452" y1="1127.5" x2="1604.2" y2="1127.5" stroke="#cdcdcd" stroke-width="0.6" />
<line x1="1452" y1="1149.1" x2="1604.2" y2="1149.1" stroke="#cdcdcd" stroke-width="0.6" />
<line x1="1478.5" y1="1127.5" x2="1478.5" y2="1149.1" stroke="#cdcdcd" stroke-width="0.6" />
<line x1="1504.4" y1="1127.5" x2="1504.4" y2="1149.1" stroke="#cdcdcd" stroke-width="0.6" />
<line x1="1530.7" y1="1127.5" x2="1530.7" y2="1149.1" stroke="#cdcdcd" stroke-width="0.6" />
<line x1="1557.1" y1="1127.5" x2="1557.1" y2="1149.1" stroke="#cdcdcd" stroke-width="0.6" />
<line x1="1583.5" y1="1127.5" x2="1583.5" y2="1149.1" stroke="#cdcdcd" stroke-width="0.6" />
<line x1="1473.6" y1="1149.1" x2="1473.6" y2="1202.8" stroke="#cdcdcd" stroke-width="0.6" />
<line x1="1499.1" y1="1149.1" x2="1499.1" y2="1202.8" stroke="#cdcdcd" stroke-width="0.6" />
<line x1="1526" y1="1149.1" x2="1526" y2="1202.8" stroke="#cdcdcd" stroke-width="0.6" />
<line x1="1552.4" y1="1149.1" x2="1552.4" y2="1202.8" stroke="#cdcdcd" stroke-width="0.6" />
<line x1="1578.8" y1="1149.1" x2="1578.8" y2="1202.8" stroke="#cdcdcd" stroke-width="0.6" />
<line x1="1604.2" y1="1149.1" x2="1604.2" y2="1202.8" stroke="#cdcdcd" stroke-width="0.6" />
<line x1="1502.5" y1="1015.7" x2="1502.5" y2="1039.7" stroke="#cdcdcd" stroke-width="0.6" />
<line x1="1557.1" y1="1015.7" x2="1557.1" y2="1039.7" stroke="#cdcdcd" stroke-width="0.6" />
<line x1="1604.2" y1="1015.7" x2="1604.2" y2="1039.7" stroke="#cdcdcd" stroke-width="0.6" />
<line x1="1527" y1="943.2" x2="1527" y2="1014.4" stroke="#cdcdcd" stroke-width="0.6" />
<line x1="1548.6" y1="943.2" x2="1548.6" y2="1014.4" stroke="#cdcdcd" stroke-width="0.6" />
<line x1="1570.3" y1="943.2" x2="1570.3" y2="1014.4" stroke="#cdcdcd" stroke-width="0.6" />
<line x1="1592.9" y1="943.2" x2="1592.9" y2="1014.4" stroke="#cdcdcd" stroke-width="0.6" />
<line x1="1621.2" y1="943.2" x2="1621.2" y2="1014.4" stroke="#cdcdcd" stroke-width="0.6" />
<line x1="1502.5" y1="961.1" x2="1649.5" y2="961.1" stroke="#cdcdcd" stroke-width="0.6" />
<line x1="1502.5" y1="978" x2="1649.5" y2="978" stroke="#cdcdcd" stroke-width="0.6" />
<line x1="1502.5" y1="995" x2="1649.5" y2="995" stroke="#cdcdcd" stroke-width="0.6" />
<line x1="1401.7" y1="951.1" x2="1502.5" y2="951.1" stroke="#cdcdcd" stroke-width="0.6" />
<line x1="1401.7" y1="982.2" x2="1502.5" y2="982.2" stroke="#cdcdcd" stroke-width="0.6" />
<line x1="1401.7" y1="945.1" x2="1401.7" y2="982.2" stroke="#cdcdcd" stroke-width="0.6" />
<line x1="1434.3" y1="945.1" x2="1434.3" y2="982.2" stroke="#cdcdcd" stroke-width="0.6" />
<line x1="1467.6" y1="945.1" x2="1467.6" y2="982.2" stroke="#cdcdcd" stroke-width="0.6" />
<line x1="1450.7" y1="982.2" x2="1450.7" y2="1014.4" stroke="#cdcdcd" stroke-width="0.6" />
<polyline points="1389.4,1053.4 1404.1,1053.4 1404.1,1015.7" fill="none" stroke="#cdcdcd" stroke-width="0.6" />
<polyline points="1404.1,1053.4 1414.5,1055.9 1414.5,1060 1436.2,1060 1436.2,1093.9 1422.4,1095.8 1422.4,1101.5 1398.3,1107.1 1398.3,1134.4 1418.6,1134.4 1429.9,1126 1440.3,1117.5 1452,1117.5" fill="none" stroke="#cdcdcd" stroke-width="0.6" />
<polyline points="1389.4,1075.1 1405.4,1075.1 1418.6,1093.9 1422.4,1095.8" fill="none" stroke="#cdcdcd" stroke-width="0.6" />
<polyline points="1436.2,1077.5 1452,1077.5" fill="none" stroke="#cdcdcd" stroke-width="0.6" />
<polyline points="1417.7,1134.4 1417.7,1148.6 1452,1148.6" fill="none" stroke="#cdcdcd" stroke-width="0.6" />
<polyline points="1407.3,1134.4 1407.3,1160.3 1397,1160.3 1397,1165.5 1389.4,1165.5" fill="none" stroke="#cdcdcd" stroke-width="0.6" />
<polyline points="1604.2,1073.2 1613.7,1064.7 1615.5,1070.4 1625,1072.3 1636.3,1060 1649.5,1065.7" fill="none" stroke="#cdcdcd" stroke-width="0.6" />
<polyline points="1625,1015.7 1625,1056.2 1636.3,1060" fill="none" stroke="#cdcdcd" stroke-width="0.6" />
<polyline points="1604.2,1093.9 1625.9,1093.9 1625.9,1089.2 1649.5,1089.2" fill="none" stroke="#cdcdcd" stroke-width="0.6" />
<polyline points="1604.2,1114.7 1615.5,1114.7 1615.5,1110 1634.4,1110 1640,1122.2 1649.5,1124.1" fill="none" stroke="#cdcdcd" stroke-width="0.6" />
<polyline points="1619.3,1114.7 1619.3,1135.4" fill="none" stroke="#cdcdcd" stroke-width="0.6" />
<polyline points="1630.6,1146.7 1630.6,1202.8" fill="none" stroke="#cdcdcd" stroke-width="0.6" />
<polyline points="1604.2,1154.2 1615.5,1158 1630.6,1161.8" fill="none" stroke="#cdcdcd" stroke-width="0.6" />
<defs><filter id="rough" x="-5%" y="-5%" width="110%" height="110%"><feTurbulence type="fractalNoise" baseFrequency="0.32" numOctaves="2" seed="7" result="n"/><feDisplacementMap in="SourceGraphic" in2="n" scale="9" xChannelSelector="R" yChannelSelector="G"/></filter></defs>
<g filter="url(#rough)">
<polygon points="1587.3,946.2 1592.7,946.2 1595.4,951.6 1602.5,957.9 1607.9,969.5 1609.6,977.5 1606.1,979.3 1597.1,969.5 1592.7,962.3 1587.3,961.4 1593.6,957 1590.9,951.6" fill="#5f93c9" stroke="none" stroke-width="1" fill-opacity="0.9"/>
<polygon points="1592.7,946.2 1648.9,946.2 1648.9,1013.2 1628.4,1013.2 1625.7,1007.9 1629.3,1002.5 1627.5,997.1 1620.4,990 1613.2,984.6 1609.6,977.5 1607.9,969.5 1602.5,957.9 1595.4,951.6" fill="#f4ee36" stroke="none" stroke-width="1" fill-opacity="1"/>
<polygon points="1591.8,948 1597.1,952.5 1604.3,960.5 1608.8,970.4 1606.1,975.7 1598.9,967.7 1595.4,960.5 1593.6,953.4" fill="#7fd58b" stroke="none" stroke-width="1" fill-opacity="0.9"/>
<polygon points="1615,947.1 1629.3,948.9 1633.8,962.3 1638.2,977.5 1637.3,993.6 1630.2,1000.7 1624.8,995.4 1623.9,986.4 1620.4,979.3 1615,971.2 1618.6,962.3 1620.4,953.4" fill="#3fa046" stroke="none" stroke-width="1" fill-opacity="0.75"/>
<polygon points="1620.4,958.8 1631.1,957.9 1629.3,966.8 1618.6,967.7" fill="#5f93c9" stroke="none" stroke-width="1" fill-opacity="0.75"/>
<polygon points="1629.3,980.2 1638.2,979.3 1636.4,991.8 1628.4,993.6" fill="#5f93c9" stroke="none" stroke-width="1" fill-opacity="0.75"/>
<polygon points="1638.2,948.9 1648.9,948 1648.9,977.5 1640.9,975.7 1634.6,962.3" fill="#f6a545" stroke="none" stroke-width="1" fill-opacity="0.9"/>
<polygon points="1639.1,978.4 1648.9,978.4 1648.9,995.4 1640,993.6" fill="#f6a545" stroke="none" stroke-width="1" fill-opacity="0.6"/>
<polygon points="1609.6,959.6 1615.9,960.5 1614.1,969.5 1607.9,965.9" fill="#f6a545" stroke="none" stroke-width="1" fill-opacity="0.8"/>
<polygon points="1627.5,1000.7 1634.6,998.9 1636.4,1006.1 1628.4,1006.1" fill="#f6a545" stroke="none" stroke-width="1" fill-opacity="0.8"/>
<polygon points="1640.9,953.4 1646.2,952.5 1645.4,969.5 1640,966.8" fill="#f4743a" stroke="none" stroke-width="1" fill-opacity="0.6"/>
<polygon points="1581.1,979.3 1597.1,977.5 1607.9,978.4 1618.6,986.4 1620.4,991.8 1615,997.1 1607.9,1001.6 1598.9,1000.7 1590.9,998 1582,993.6 1579.3,988.2 1582.9,984.6" fill="#5f93c9" stroke="none" stroke-width="1" fill-opacity="0.8"/>
<polygon points="1584.6,980.2 1597.1,979.3 1606.1,980.2 1615.9,987.3 1616.8,991.8 1611.4,996.2 1606.1,998.9 1598.9,998 1591.8,995.4 1584.6,991.8 1582.9,988.2" fill="#3fa046" stroke="none" stroke-width="1" fill-opacity="0.7"/>
<polygon points="1562.3,978.4 1570.4,973.9 1580.2,973.9 1577.5,978.4 1570.4,981.1 1564.1,982" fill="#5f93c9" stroke="none" stroke-width="1" fill-opacity="0.85"/>
<polygon points="1566.8,979.3 1575.7,975.7 1577.5,977.1 1569.5,980.6" fill="#7fd58b" stroke="none" stroke-width="1" fill-opacity="0.9"/>
<polygon points="1554.3,992.7 1559.6,990 1568.6,988.7 1582.9,990.9 1595.4,991.8 1616.8,990.9 1615.9,993.6 1593.6,995.4 1575.7,993.6 1557.9,994.5" fill="#3fa046" stroke="none" stroke-width="1" fill-opacity="0.7"/>
<polygon points="1558.8,991.3 1566.8,990 1567.7,991.8 1559.6,993.1" fill="#f4ee36" stroke="none" stroke-width="1" fill-opacity="0.9"/>
<polygon points="1582.9,992.2 1602.5,992.7 1616.8,991.6 1615.9,993.1 1593.6,994.3" fill="#f4ee36" stroke="none" stroke-width="1" fill-opacity="0.7"/>
<polygon points="1619.5,1009.6 1629.3,1006.1 1629.3,1013.2 1620.4,1013.2" fill="#5f93c9" stroke="none" stroke-width="1" fill-opacity="0.8"/>
<polygon points="1608.8,1016.8 1648.9,1015.9 1648.9,1067.7 1642.7,1065.9 1634.6,1060.5 1630.2,1050.7 1628.4,1040.9 1625.7,1031.1 1620.8,1025.7 1620.4,1035.5 1617.7,1042.7 1610.5,1038.2 1607.9,1028.4 1608.8,1022.1" fill="#5f93c9" stroke="none" stroke-width="1" fill-opacity="0.85"/>
<polygon points="1611.4,1017.7 1648.9,1016.8 1648.9,1064.1 1643.6,1062.3 1637.3,1057 1632.9,1048 1631.1,1039.1 1628.4,1029.3 1623,1023 1618.6,1023 1617.7,1033.8 1612.3,1035.5 1610.5,1028.4" fill="#7fd58b" stroke="none" stroke-width="1" fill-opacity="0.95"/>
<polygon points="1624.8,1020.4 1648.9,1018.6 1648.9,1047.1 1642.7,1045.4 1634.6,1038.2 1629.3,1028.4" fill="#3fa046" stroke="none" stroke-width="1" fill-opacity="0.7"/>
<polygon points="1625.7,1016.8 1631.1,1016.8 1630.2,1020.4 1624.8,1020.4" fill="#f4ee36" stroke="none" stroke-width="1" fill-opacity="1"/>
<polygon points="1612.3,1023 1616.8,1023.9 1616.8,1032.9 1611.4,1033.8" fill="#f4ee36" stroke="none" stroke-width="1" fill-opacity="1"/>
<polygon points="1634.6,1022.1 1648.9,1025.7 1648.9,1032 1638.2,1029.3" fill="#f4ee36" stroke="none" stroke-width="1" fill-opacity="0.9"/>
<polygon points="1636.4,1034.6 1642.7,1036.4 1640.9,1039.1 1636.4,1038.2" fill="#f4ee36" stroke="none" stroke-width="1" fill-opacity="1"/>
<polygon points="1622.1,1202.8 1625,1182.5 1634.4,1171.2 1649.5,1165.5 1649.5,1202.8" fill="#5f93c9" stroke="none" stroke-width="1" fill-opacity="0.85"/>
<polygon points="1625,1202.8 1628.7,1184.4 1638.1,1174 1649.5,1169.3 1649.5,1202.8" fill="#7fd58b" stroke="none" stroke-width="1" fill-opacity="0.95"/>
<polygon points="1630.6,1202.8 1634.4,1188.1 1643.8,1178.7 1649.5,1175 1649.5,1202.8" fill="#3fa046" stroke="none" stroke-width="1" fill-opacity="0.8"/>
<polygon points="1643.8,1184.4 1648.5,1183.4 1648.5,1188.1 1643.8,1188.5" fill="#f4ee36" stroke="none" stroke-width="1" fill-opacity="0.9"/>
</g>
<line x1="1389.6" y1="1014.4" x2="1649.5" y2="1014.4" stroke="#111" stroke-width="2.9" />
<line x1="1502.5" y1="943.2" x2="1502.5" y2="1014.4" stroke="#111" stroke-width="2.6" />
<line x1="1454.4" y1="1014.4" x2="1454.4" y2="1039.7" stroke="#111" stroke-width="2.6" />
<polyline points="1452,1203.2 1452,1039.7 1604.2,1039.7 1604.2,1136 1608.9,1136.3 1620.2,1145.4 1625,1144.8 1633.4,1143.9 1636.3,1141 1643.8,1146.7 1645.7,1153.3 1649.5,1154.2" fill="none" stroke="#111" stroke-width="2.6" stroke-linejoin="round"/>
<circle cx="1519.1" cy="1103" r="7.3" fill="none" stroke="#000" stroke-width="2.2" />
<line x1="1507.1" y1="1103" x2="1531.6" y2="1103" stroke="#000" stroke-width="4" />
<line x1="1519.1" y1="1091" x2="1519.1" y2="1115.5" stroke="#000" stroke-width="2" />
</g>
<rect x="1415.2" y="1172.1" width="207.3" height="27" fill="#fff" stroke="#222" stroke-width="1.2" />
<text x="1419.6" y="1190.6" font-size="19.7" fill="#111" font-weight="bold" textLength="196.9" lengthAdjust="spacingAndGlyphs" >Valid: 04-24 | 12:00</text>
<rect x="1389.6" y="943.2" width="259.9" height="260" fill="none" stroke="#000" stroke-width="1.4" />
<rect x="2192.6" y="1021.5" width="219.9" height="182.1" fill="#fff" stroke="#000" stroke-width="1.4" />
<text x="2209.8" y="1048.6" font-size="19" fill="#111" font-weight="bold" textLength="31.2" lengthAdjust="spacingAndGlyphs" >0-3</text>
<text x="2242.6" y="1048.6" font-size="10.6" fill="#111" font-weight="bold" textLength="19.8" lengthAdjust="spacingAndGlyphs" >km</text>
<text x="2270.2" y="1048.6" font-size="19" fill="#111" font-weight="bold" textLength="46.8" lengthAdjust="spacingAndGlyphs" >SRH,</text>
<text x="2338.9" y="1048.6" font-size="18.7" fill="#111" font-weight="bold" textLength="44.9" lengthAdjust="spacingAndGlyphs" >BWD</text>
<text x="2209.8" y="1108.7" font-size="19" fill="#111" font-weight="bold" textLength="31.2" lengthAdjust="spacingAndGlyphs" >0-6</text>
<text x="2242.6" y="1108.7" font-size="10.6" fill="#111" font-weight="bold" textLength="19.8" lengthAdjust="spacingAndGlyphs" >km</text>
<text x="2270.2" y="1108.7" font-size="19" fill="#111" font-weight="bold" textLength="46.8" lengthAdjust="spacingAndGlyphs" >SRH,</text>
<text x="2338.9" y="1108.7" font-size="18.7" fill="#111" font-weight="bold" textLength="44.9" lengthAdjust="spacingAndGlyphs" >BWD</text>
<text x="2210.9" y="1079.2" font-size="19.6" fill="#4a70e0" font-weight="bold" textLength="94.5" lengthAdjust="spacingAndGlyphs" >425 m²/s²</text>
<text x="2335.9" y="1079.2" font-size="19.4" fill="#4a70e0" font-weight="bold" textLength="50.8" lengthAdjust="spacingAndGlyphs" >27 kt</text>
<text x="2210.9" y="1136.5" font-size="19.6" fill="#4a70e0" font-weight="bold" textLength="94.5" lengthAdjust="spacingAndGlyphs" >447 m²/s²</text>
<text x="2335.9" y="1136.5" font-size="19.4" fill="#4a70e0" font-weight="bold" textLength="50.8" lengthAdjust="spacingAndGlyphs" >38 kt</text>
<text x="2203.7" y="1167.6" font-size="18.8" fill="#111" font-weight="bold" textLength="37.3" lengthAdjust="spacingAndGlyphs" >SCP</text>
<text x="2258.6" y="1167.6" font-size="18.7" fill="#111" font-weight="bold" textLength="36.3" lengthAdjust="spacingAndGlyphs" >STP</text>
<text x="2316.9" y="1165.5" font-size="18.1" fill="#111" font-weight="bold" textLength="31.2" lengthAdjust="spacingAndGlyphs" >EHI</text>
<text x="2371.9" y="1165.5" font-size="18.1" fill="#111" font-weight="bold" textLength="31.2" lengthAdjust="spacingAndGlyphs" >EHI</text>
<text x="2312.6" y="1176.8" font-size="9.2" fill="#111" font-weight="bold" textLength="40.3" lengthAdjust="spacingAndGlyphs" >0–1km</text>
<text x="2367.5" y="1176.8" font-size="9.2" fill="#111" font-weight="bold" textLength="40.3" lengthAdjust="spacingAndGlyphs" >0–3km</text>
<text x="2216.3" y="1192.4" font-size="19.4" fill="#b03030" font-weight="bold" >1</text>
<text x="2272.2" y="1192.4" font-size="19.4" fill="#b03030" font-weight="bold" >0</text>
<text x="2326" y="1192.4" font-size="19.4" fill="#ff4d0f" font-weight="bold" >3</text>
<text x="2382" y="1192.4" font-size="19.4" fill="#ff4d0f" font-weight="bold" >4</text>
<rect x="1389.6" y="98.5" width="1022.9" height="1105.1" fill="none" stroke="#000" stroke-width="1.3" />
<rect x="31.4" y="1203.6" width="893.1" height="233.4" fill="#fff" stroke="#000" stroke-width="1.4" />
<text x="132.7" y="1242.7" font-size="22.6" fill="#000" font-weight="bold" textLength="113.1" lengthAdjust="spacingAndGlyphs" >SR-ECAPE</text>
<text x="297.9" y="1242.7" font-size="22.4" fill="#000" font-weight="bold" textLength="59.5" lengthAdjust="spacingAndGlyphs" >CAPE</text>
<text x="423.6" y="1242.7" font-size="22.7" fill="#000" font-weight="bold" textLength="74.7" lengthAdjust="spacingAndGlyphs" >6CAPE</text>
<text x="564" y="1242.7" font-size="22.8" fill="#000" font-weight="bold" textLength="75" lengthAdjust="spacingAndGlyphs" >3CAPE</text>
<text x="712" y="1242.7" font-size="22.4" fill="#000" font-weight="bold" textLength="39.6" lengthAdjust="spacingAndGlyphs" >CIN</text>
<text x="839" y="1242.7" font-size="23" fill="#000" font-weight="bold" textLength="42" lengthAdjust="spacingAndGlyphs" >LCL</text>
<text x="45.7" y="1281.6" font-size="22.8" fill="#000" font-weight="bold" textLength="39" lengthAdjust="spacingAndGlyphs" >SB:</text>
<text x="132.7" y="1281.6" font-size="22.8" fill="#b22222" font-weight="bold" textLength="76.8" lengthAdjust="spacingAndGlyphs" >--- J/kg</text>
<text x="275.5" y="1281.6" font-size="22.8" fill="#ff4500" font-weight="bold" textLength="65.5" lengthAdjust="spacingAndGlyphs" >0 J/kg</text>
<text x="418" y="1281.6" font-size="22.8" fill="#ff4500" font-weight="bold" textLength="65.5" lengthAdjust="spacingAndGlyphs" >0 J/kg</text>
<text x="559.3" y="1281.6" font-size="22.8" fill="#ff4500" font-weight="bold" textLength="65.5" lengthAdjust="spacingAndGlyphs" >0 J/kg</text>
<text x="693.3" y="1281.6" font-size="22.8" fill="#ff4500" font-weight="bold" textLength="65.5" lengthAdjust="spacingAndGlyphs" >0 J/kg</text>
<text x="825.4" y="1281.6" font-size="22.8" fill="#ff4500" font-weight="bold" textLength="72" lengthAdjust="spacingAndGlyphs" >302 m</text>
<text x="45.7" y="1320.5" font-size="22.8" fill="#000" font-weight="bold" textLength="45.7" lengthAdjust="spacingAndGlyphs" >MU:</text>
<text x="132.7" y="1320.5" font-size="22.8" fill="#b22222" font-weight="bold" textLength="108.7" lengthAdjust="spacingAndGlyphs" >1356 J/kg</text>
<text x="275.5" y="1320.5" font-size="22.8" fill="#ff4500" font-weight="bold" textLength="108.7" lengthAdjust="spacingAndGlyphs" >1631 J/kg</text>
<text x="418" y="1320.5" font-size="22.8" fill="#ff4500" font-weight="bold" textLength="94.3" lengthAdjust="spacingAndGlyphs" >720 J/kg</text>
<text x="559.3" y="1320.5" font-size="22.8" fill="#ff4500" font-weight="bold" textLength="79.9" lengthAdjust="spacingAndGlyphs" >29 J/kg</text>
<text x="693.3" y="1320.5" font-size="22.8" fill="#ff4500" font-weight="bold" textLength="102.8" lengthAdjust="spacingAndGlyphs" >-122 J/kg</text>
<text x="825.4" y="1320.5" font-size="22.8" fill="#ff4500" font-weight="bold" textLength="72" lengthAdjust="spacingAndGlyphs" >817 m</text>
<text x="45.7" y="1359.4" font-size="22.8" fill="#000" font-weight="bold" textLength="42.1" lengthAdjust="spacingAndGlyphs" >ML:</text>
<text x="132.7" y="1359.4" font-size="22.8" fill="#b22222" font-weight="bold" textLength="94.3" lengthAdjust="spacingAndGlyphs" >849 J/kg</text>
<text x="275.5" y="1359.4" font-size="22.8" fill="#ff4500" font-weight="bold" textLength="94.3" lengthAdjust="spacingAndGlyphs" >717 J/kg</text>
<text x="418" y="1359.4" font-size="22.8" fill="#ff4500" font-weight="bold" textLength="94.3" lengthAdjust="spacingAndGlyphs" >390 J/kg</text>
<text x="559.3" y="1359.4" font-size="22.8" fill="#ff4500" font-weight="bold" textLength="65.5" lengthAdjust="spacingAndGlyphs" >0 J/kg</text>
<text x="693.3" y="1359.4" font-size="22.8" fill="#ff4500" font-weight="bold" textLength="102.8" lengthAdjust="spacingAndGlyphs" >-297 J/kg</text>
<text x="825.4" y="1359.4" font-size="22.8" fill="#ff4500" font-weight="bold" textLength="72" lengthAdjust="spacingAndGlyphs" >685 m</text>
<text x="45.7" y="1393.6" font-size="22.8" fill="#000" font-weight="bold" textLength="86" lengthAdjust="spacingAndGlyphs" >DCAPE:</text>
<text x="143.6" y="1393.6" font-size="22.8" fill="#8db0f0" font-weight="bold" textLength="94.3" lengthAdjust="spacingAndGlyphs" >604 J/kg</text>
<text x="45.7" y="1419.7" font-size="22.8" fill="#000" font-weight="bold" textLength="65.7" lengthAdjust="spacingAndGlyphs" >DCIN:</text>
<text x="143.6" y="1419.7" font-size="22.8" fill="#8db0f0" font-weight="bold" textLength="65.5" lengthAdjust="spacingAndGlyphs" >0 J/kg</text>
<text x="288" y="1413.2" font-size="22.2" fill="#000" font-weight="bold" textLength="120.7" lengthAdjust="spacingAndGlyphs" >MUNCAPE:</text>
<text x="415" y="1413.2" font-size="22.8" fill="#c46a6a" font-weight="bold" textLength="36.7" lengthAdjust="spacingAndGlyphs" >0.2</text>
<text x="496" y="1414.2" font-size="22.8" fill="#000" font-weight="bold" >Γ</text>
<text x="509.5" y="1416.8" font-size="11" fill="#000" font-weight="bold" textLength="28" lengthAdjust="spacingAndGlyphs" >0–3</text>
<text x="540" y="1414.2" font-size="22.8" fill="#000" font-weight="bold" >:</text>
<text x="561.3" y="1414.2" font-size="22.8" fill="#8b4513" font-weight="bold" textLength="106.1" lengthAdjust="spacingAndGlyphs" >4 Δ°C/km</text>
<text x="694" y="1414.2" font-size="22.8" fill="#000" font-weight="bold" >Γ</text>
<text x="707.5" y="1416.8" font-size="11" fill="#000" font-weight="bold" textLength="28" lengthAdjust="spacingAndGlyphs" >3–6</text>
<text x="738" y="1414.2" font-size="22.8" fill="#000" font-weight="bold" >:</text>
<text x="766" y="1414.2" font-size="22.8" fill="#8b4513" font-weight="bold" textLength="106.1" lengthAdjust="spacingAndGlyphs" >7 Δ°C/km</text>
<text x="135.2" y="1470.5" font-size="30.4" fill="#a3bff5" font-weight="bold" textLength="743.4" lengthAdjust="spacingAndGlyphs" >SOUNDERPY VERTICAL PROFILE ANALYSIS TOOL</text>
<text x="207" y="1496.8" font-size="22.9" fill="#a3bff5" font-weight="bold" textLength="599" lengthAdjust="spacingAndGlyphs" >(C) KYLE J GILLETT | sounderpysoundings.anvil.app</text>
<circle cx="77.1" cy="1476" r="31.5" fill="#e7ecf9" stroke="#1c1c2c" stroke-width="1.5" />
<polyline points="60,1478 65,1480 61,1483 67,1485 62,1488 69,1490 65,1493" fill="none" stroke="#b9dcc0" stroke-width="0.8" />
<polyline points="68,1447 70,1462 76,1476 82,1490 88,1498" fill="none" stroke="#f0b8b8" stroke-width="0.7" stroke-dasharray="1.5 1"/>
<polyline points="56,1462 58,1452" fill="none" stroke="#b9dcc0" stroke-width="0.7" stroke-dasharray="1.5 1"/>
<text x="47.4" y="1472.8" font-size="11.9" fill="#000" font-weight="bold" textLength="55.7" lengthAdjust="spacingAndGlyphs" >SOUNDER</text>
<path d="M80.4 1474 L80.4 1488.4 M80.4 1475.2 C86 1472.5 91.5 1474.5 90.3 1478.2 C89.2 1481.5 84 1482.6 80.6 1482.2" fill="none" stroke="#3f8f1f" stroke-width="1.7" stroke-linecap="round"/>
<path d="M93 1472.6 L100 1480.6 M108 1472.2 L100 1480.6 L99.6 1489" fill="none" stroke="#e01818" stroke-width="1.9" stroke-linecap="round" stroke-linejoin="round"/>
<text x="58.1" y="1499.2" font-size="3.7" fill="#000" font-weight="bold" textLength="38" lengthAdjust="spacingAndGlyphs" >SOUNDING ANALYSIS</text>
<text x="64.6" y="1502.7" font-size="3.7" fill="#000" font-weight="bold" textLength="25" lengthAdjust="spacingAndGlyphs" >TOOL FOR PYTHON</text>
<rect x="924.5" y="1203.6" width="329.7" height="298.2" fill="#fff" stroke="#000" stroke-width="1.4" />
<text x="1040.6" y="1242.9" font-size="22.6" fill="#111" font-weight="bold" textLength="72.3" lengthAdjust="spacingAndGlyphs" >RH(%)</text>
<text x="1164.9" y="1242.9" font-size="22.1" fill="#111" font-weight="bold" >ω</text>
<text x="946.6" y="1282.2" font-size="22.8" fill="#111" font-weight="bold" textLength="45.3" lengthAdjust="spacingAndGlyphs" >0-.5</text>
<text x="993.4" y="1282.2" font-size="10.5" fill="#111" font-weight="bold" textLength="22.1" lengthAdjust="spacingAndGlyphs" >km</text>
<text x="1016.1" y="1282.2" font-size="22.8" fill="#111" font-weight="bold" >:</text>
<line x1="948.6" y1="1259.6" x2="979.6" y2="1259.6" stroke="#111" stroke-width="1.3" />
<text x="1045.7" y="1282.2" font-size="22.8" fill="#228b22" font-weight="bold" textLength="56.8" lengthAdjust="spacingAndGlyphs" >79 %</text>
<text x="1122.2" y="1282.2" font-size="22.8" fill="#228b22" font-weight="bold" textLength="94.8" lengthAdjust="spacingAndGlyphs" >9.7 g/kg</text>
<text x="946.6" y="1321" font-size="22.8" fill="#111" font-weight="bold" textLength="37.4" lengthAdjust="spacingAndGlyphs" >0-1</text>
<text x="985.5" y="1321" font-size="10.5" fill="#111" font-weight="bold" textLength="22.1" lengthAdjust="spacingAndGlyphs" >km</text>
<text x="1008.3" y="1321" font-size="22.8" fill="#111" font-weight="bold" >:</text>
<line x1="948.6" y1="1298.4" x2="979.6" y2="1298.4" stroke="#111" stroke-width="1.3" />
<text x="1045.7" y="1321" font-size="22.8" fill="#2e912e" font-weight="bold" textLength="56.8" lengthAdjust="spacingAndGlyphs" >78 %</text>
<text x="1122.2" y="1321" font-size="22.8" fill="#2e912e" font-weight="bold" textLength="94.8" lengthAdjust="spacingAndGlyphs" >9.7 g/kg</text>
<text x="946.6" y="1359.8" font-size="22.8" fill="#111" font-weight="bold" textLength="37.4" lengthAdjust="spacingAndGlyphs" >1-3</text>
<text x="985.5" y="1359.8" font-size="10.5" fill="#111" font-weight="bold" textLength="22.1" lengthAdjust="spacingAndGlyphs" >km</text>
<text x="1008.3" y="1359.8" font-size="22.8" fill="#111" font-weight="bold" >:</text>
<line x1="948.6" y1="1337.2" x2="979.6" y2="1337.2" stroke="#111" stroke-width="1.3" />
<text x="1045.7" y="1359.8" font-size="22.8" fill="#4a9f4a" font-weight="bold" textLength="56.8" lengthAdjust="spacingAndGlyphs" >21 %</text>
<text x="1122.2" y="1359.8" font-size="22.8" fill="#4a9f4a" font-weight="bold" textLength="94.8" lengthAdjust="spacingAndGlyphs" >2.3 g/kg</text>
<text x="946.6" y="1398.7" font-size="22.8" fill="#111" font-weight="bold" textLength="37.4" lengthAdjust="spacingAndGlyphs" >3-6</text>
<text x="985.5" y="1398.7" font-size="10.5" fill="#111" font-weight="bold" textLength="22.1" lengthAdjust="spacingAndGlyphs" >km</text>
<text x="1008.3" y="1398.7" font-size="22.8" fill="#111" font-weight="bold" >:</text>
<line x1="948.6" y1="1376.1" x2="979.6" y2="1376.1" stroke="#111" stroke-width="1.3" />
<text x="1045.7" y="1398.7" font-size="22.8" fill="#5fac5f" font-weight="bold" textLength="56.8" lengthAdjust="spacingAndGlyphs" >23 %</text>
<text x="1122.2" y="1398.7" font-size="22.8" fill="#5fac5f" font-weight="bold" textLength="94.8" lengthAdjust="spacingAndGlyphs" >0.7 g/kg</text>
<text x="946.6" y="1437.5" font-size="22.8" fill="#111" font-weight="bold" textLength="37.4" lengthAdjust="spacingAndGlyphs" >6-9</text>
<text x="985.5" y="1437.5" font-size="10.5" fill="#111" font-weight="bold" textLength="22.1" lengthAdjust="spacingAndGlyphs" >km</text>
<text x="1008.3" y="1437.5" font-size="22.8" fill="#111" font-weight="bold" >:</text>
<line x1="948.6" y1="1414.9" x2="979.6" y2="1414.9" stroke="#111" stroke-width="1.3" />
<text x="1045.7" y="1437.5" font-size="22.8" fill="#7bbb7b" font-weight="bold" textLength="42.4" lengthAdjust="spacingAndGlyphs" >9 %</text>
<text x="1122.2" y="1437.5" font-size="22.8" fill="#7bbb7b" font-weight="bold" textLength="94.8" lengthAdjust="spacingAndGlyphs" >0.1 g/kg</text>
<text x="947.4" y="1466.7" font-size="17.7" fill="#111" font-weight="bold" textLength="56.7" lengthAdjust="spacingAndGlyphs" >PWAT:</text>
<text x="1018.5" y="1466.7" font-size="17.9" fill="#006400" font-weight="bold" textLength="74.5" lengthAdjust="spacingAndGlyphs" >0.603 in</text>
<text x="1115.6" y="1466.7" font-size="17.3" fill="#111" font-weight="bold" textLength="35.7" lengthAdjust="spacingAndGlyphs" >WB:</text>
<text x="1175.8" y="1466.7" font-size="17.9" fill="#006400" font-weight="bold" textLength="48.5" lengthAdjust="spacingAndGlyphs" >10 °C</text>
<text x="947.4" y="1492.7" font-size="17.4" fill="#111" font-weight="bold" textLength="40.8" lengthAdjust="spacingAndGlyphs" >FRZ:</text>
<text x="1025.5" y="1492.7" font-size="17.7" fill="#6495ed" font-weight="bold" textLength="61.7" lengthAdjust="spacingAndGlyphs" >3000m</text>
<text x="1109.7" y="1492.7" font-size="17.4" fill="#111" font-weight="bold" textLength="46.7" lengthAdjust="spacingAndGlyphs" >WB0:</text>
<text x="1171.9" y="1492.7" font-size="17.7" fill="#6495ed" font-weight="bold" textLength="61.4" lengthAdjust="spacingAndGlyphs" >1900m</text>
<rect x="1254.2" y="1203.6" width="583.3" height="298.2" fill="#fff" stroke="#000" stroke-width="1.4" />
<text x="1375.8" y="1242.9" font-size="22.3" fill="#333" font-weight="bold" textLength="53.6" lengthAdjust="spacingAndGlyphs" >BWD</text>
<text x="1481.5" y="1242.9" font-size="22" fill="#333" font-weight="bold" textLength="46.6" lengthAdjust="spacingAndGlyphs" >SRH</text>
<text x="1580.5" y="1242.9" font-size="22.4" fill="#333" font-weight="bold" textLength="52.8" lengthAdjust="spacingAndGlyphs" >SRW</text>
<text x="1656.3" y="1242.9" font-size="22.5" fill="#333" font-weight="bold" textLength="69.9" lengthAdjust="spacingAndGlyphs" >SWζ%</text>
<text x="1756.5" y="1242.9" font-size="22.5" fill="#333" font-weight="bold" textLength="49.3" lengthAdjust="spacingAndGlyphs" >SWζ</text>
<text x="1274.8" y="1282.2" font-size="22.8" fill="#222" font-weight="bold" textLength="45.3" lengthAdjust="spacingAndGlyphs" >0-.5</text>
<text x="1321.6" y="1282.2" font-size="10.5" fill="#222" font-weight="bold" textLength="22.1" lengthAdjust="spacingAndGlyphs" >km</text>
<text x="1344.3" y="1282.2" font-size="22.8" fill="#222" font-weight="bold" >:</text>
<text x="1370" y="1282.2" font-size="22.8" fill="#6495ed" font-weight="bold" textLength="59.7" lengthAdjust="spacingAndGlyphs" >23 kt</text>
<text x="1450.8" y="1282.2" font-size="22.8" fill="#6495ed" font-weight="bold" textLength="110" lengthAdjust="spacingAndGlyphs" >254 m²/s²</text>
<text x="1580.9" y="1282.2" font-size="22.8" fill="#6495ed" font-weight="bold" textLength="59.7" lengthAdjust="spacingAndGlyphs" >31 kt</text>
<text x="1673.7" y="1282.2" font-size="22.8" fill="#6495ed" font-weight="bold" textLength="28.8" lengthAdjust="spacingAndGlyphs" >89</text>
<text x="1749.9" y="1282.2" font-size="22.8" fill="#6495ed" font-weight="bold" textLength="65.5" lengthAdjust="spacingAndGlyphs" >0.029</text>
<text x="1274.8" y="1321" font-size="22.8" fill="#222" font-weight="bold" textLength="37.4" lengthAdjust="spacingAndGlyphs" >0-1</text>
<text x="1313.7" y="1321" font-size="10.5" fill="#222" font-weight="bold" textLength="22.1" lengthAdjust="spacingAndGlyphs" >km</text>
<text x="1336.5" y="1321" font-size="22.8" fill="#222" font-weight="bold" >:</text>
<text x="1370" y="1321" font-size="22.8" fill="#7b68ee" font-weight="bold" textLength="59.7" lengthAdjust="spacingAndGlyphs" >29 kt</text>
<text x="1450.8" y="1321" font-size="22.8" fill="#7b68ee" font-weight="bold" textLength="110" lengthAdjust="spacingAndGlyphs" >323 m²/s²</text>
<text x="1580.9" y="1321" font-size="22.8" fill="#7b68ee" font-weight="bold" textLength="59.7" lengthAdjust="spacingAndGlyphs" >29 kt</text>
<text x="1673.7" y="1321" font-size="22.8" fill="#7b68ee" font-weight="bold" textLength="28.8" lengthAdjust="spacingAndGlyphs" >90</text>
<text x="1749.9" y="1321" font-size="22.8" fill="#7b68ee" font-weight="bold" textLength="65.5" lengthAdjust="spacingAndGlyphs" >0.019</text>
<text x="1274.8" y="1359.8" font-size="22.8" fill="#222" font-weight="bold" textLength="37.4" lengthAdjust="spacingAndGlyphs" >1-3</text>
<text x="1313.7" y="1359.8" font-size="10.5" fill="#222" font-weight="bold" textLength="22.1" lengthAdjust="spacingAndGlyphs" >km</text>
<text x="1336.5" y="1359.8" font-size="22.8" fill="#222" font-weight="bold" >:</text>
<text x="1370" y="1359.8" font-size="22.8" fill="#4169e1" font-weight="bold" textLength="59.7" lengthAdjust="spacingAndGlyphs" >23 kt</text>
<text x="1450.8" y="1359.8" font-size="22.8" fill="#4169e1" font-weight="bold" textLength="110" lengthAdjust="spacingAndGlyphs" >102 m²/s²</text>
<text x="1580.9" y="1359.8" font-size="22.8" fill="#4169e1" font-weight="bold" textLength="59.7" lengthAdjust="spacingAndGlyphs" >17 kt</text>
<text x="1673.7" y="1359.8" font-size="22.8" fill="#4169e1" font-weight="bold" textLength="28.8" lengthAdjust="spacingAndGlyphs" >70</text>
<text x="1749.9" y="1359.8" font-size="22.8" fill="#4169e1" font-weight="bold" textLength="65.5" lengthAdjust="spacingAndGlyphs" >0.007</text>
<text x="1274.8" y="1398.7" font-size="22.8" fill="#222" font-weight="bold" textLength="37.4" lengthAdjust="spacingAndGlyphs" >3-6</text>
<text x="1313.7" y="1398.7" font-size="10.5" fill="#222" font-weight="bold" textLength="22.1" lengthAdjust="spacingAndGlyphs" >km</text>
<text x="1336.5" y="1398.7" font-size="22.8" fill="#222" font-weight="bold" >:</text>
<text x="1370" y="1398.7" font-size="22.8" fill="#0000cd" font-weight="bold" textLength="59.7" lengthAdjust="spacingAndGlyphs" >17 kt</text>
<text x="1450.8" y="1398.7" font-size="22.8" fill="#0000cd" font-weight="bold" textLength="95.6" lengthAdjust="spacingAndGlyphs" >21 m²/s²</text>
<text x="1580.9" y="1398.7" font-size="22.8" fill="#0000cd" font-weight="bold" textLength="59.7" lengthAdjust="spacingAndGlyphs" >13 kt</text>
<text x="1673.7" y="1398.7" font-size="22.8" fill="#0000cd" font-weight="bold" textLength="28.8" lengthAdjust="spacingAndGlyphs" >80</text>
<text x="1749.9" y="1398.7" font-size="22.8" fill="#0000cd" font-weight="bold" textLength="65.5" lengthAdjust="spacingAndGlyphs" >0.006</text>
<text x="1274.8" y="1437.5" font-size="22.8" fill="#222" font-weight="bold" textLength="37.4" lengthAdjust="spacingAndGlyphs" >6-9</text>
<text x="1313.7" y="1437.5" font-size="10.5" fill="#222" font-weight="bold" textLength="22.1" lengthAdjust="spacingAndGlyphs" >km</text>
<text x="1336.5" y="1437.5" font-size="22.8" fill="#222" font-weight="bold" >:</text>
<text x="1370" y="1437.5" font-size="22.8" fill="#00008b" font-weight="bold" textLength="59.7" lengthAdjust="spacingAndGlyphs" >11 kt</text>
<text x="1450.8" y="1437.5" font-size="22.8" fill="#00008b" font-weight="bold" textLength="104.2" lengthAdjust="spacingAndGlyphs" >-85 m²/s²</text>
<text x="1580.9" y="1437.5" font-size="22.8" fill="#00008b" font-weight="bold" textLength="59.7" lengthAdjust="spacingAndGlyphs" >25 kt</text>
<text x="1673.7" y="1437.5" font-size="22.8" fill="#00008b" font-weight="bold" textLength="28.8" lengthAdjust="spacingAndGlyphs" >63</text>
<text x="1749.9" y="1437.5" font-size="22.8" fill="#00008b" font-weight="bold" textLength="65.5" lengthAdjust="spacingAndGlyphs" >0.004</text>
<text x="1276" y="1476.4" font-size="22.8" fill="#222" font-weight="bold" textLength="43.3" lengthAdjust="spacingAndGlyphs" >EIL:</text>
<text x="1370" y="1476.4" font-size="22.8" fill="#000080" font-weight="bold" textLength="59.7" lengthAdjust="spacingAndGlyphs" >12 kt</text>
<text x="1450.8" y="1476.4" font-size="22.8" fill="#000080" font-weight="bold" textLength="95.6" lengthAdjust="spacingAndGlyphs" >97 m²/s²</text>
<text x="1580.9" y="1476.4" font-size="22.8" fill="#000080" font-weight="bold" textLength="59.7" lengthAdjust="spacingAndGlyphs" >31 kt</text>
<text x="1673.7" y="1476.4" font-size="22.8" fill="#000080" font-weight="bold" textLength="28.8" lengthAdjust="spacingAndGlyphs" >89</text>
<text x="1749.9" y="1476.4" font-size="22.8" fill="#000080" font-weight="bold" textLength="65.5" lengthAdjust="spacingAndGlyphs" >0.014</text>
<defs><clipPath id="sp0"><rect x="1837.5" y="1203.6" width="143" height="298.4"/></clipPath><clipPath id="sp1"><rect x="1980.5" y="1203.6" width="144.1" height="298.4"/></clipPath><clipPath id="sp2"><rect x="2124.6" y="1203.6" width="145" height="298.4"/></clipPath><clipPath id="sp3"><rect x="2269.6" y="1203.6" width="142.9" height="298.4"/></clipPath></defs>
<rect x="1837.5" y="1203.6" width="575" height="298.4" fill="#fff" stroke="none" stroke-width="1" />
<rect x="1837.5" y="1419.8" width="575" height="45.8" fill="#e9f3f8" stroke="none" stroke-width="1" />
<g clip-path="url(#sp0)" fill="none" stroke-linejoin="round">
<polygon points="1837.7,1201.6 1950.9,1201.6 1976.5,1212.9 1810.8,1221 1810.8,1230.7 1972.4,1243.9 1967,1253.3 1976.5,1263.5 1960.3,1272.9 1816.2,1283.7 1917.2,1293.2 1898.3,1303.4 1845.8,1322.8 1866,1333.6 1910.5,1342.5 1926.1,1351.6 1920.4,1363.2 1931.2,1372.6 1936.1,1382.6 1932.6,1392.8 1931.2,1403.3 1975.1,1412.2 1971.1,1422.5 1939.3,1433.3 1961.7,1452.1 1957.6,1461.5 1936.1,1472.3 1965.7,1482.3 1928.8,1492.5 1968.4,1503.3 1837.7,1503.3" fill="#6a8fe8" stroke="none" stroke-width="1" fill-opacity="0.2"/>
</g>
<g clip-path="url(#sp1)" fill="none" stroke-linejoin="round">
<polygon points="1980.5,1201.6 1989.9,1201.6 1984.6,1220.4 1988.6,1233.9 1985.9,1243.9 2011.5,1263.5 1985.9,1283.2 1998,1303.4 2030.4,1322.8 2018.8,1344.3 2015.5,1363.2 2016.3,1382.1 2011.5,1394.2 1995.3,1403.3 1992.6,1412.2 2000.7,1423.8 2018.2,1453.5 2034.4,1472.3 2031.7,1481.7 2092.3,1492.5 2096.4,1503.3 1980.5,1503.3" fill="#e6e6e6" stroke="none" stroke-width="1" />
<polygon points="1980.5,1201.6 1989.9,1201.6 1983.2,1220.4 1987.2,1233.9 1985.4,1243.9 2010.1,1263.5 1983.2,1283.2 1991.8,1303.4 2000.7,1313.4 2008.8,1344.3 2006.9,1363.2 2010.1,1382.1 2006.1,1394.2 1994,1403.3 1991.8,1412.2 1999.4,1423.8 2015.5,1453.5 2025,1462.9 2030.4,1481.7 2069.4,1491.2 2092.3,1502 2096.4,1503.3 1980.5,1503.3" fill="#ecdabb" stroke="none" stroke-width="1" />
</g>
<g clip-path="url(#sp2)" fill="none" stroke-linejoin="round">
<polygon points="2124.6,1314.7 2124.6,1314.7 2147.5,1332.2 2158.3,1341.7 2194.7,1403.3 2193.4,1422.5 2204.1,1449.4 2216.3,1472.3 2230.5,1482.3 2228.4,1492.5 2192.8,1502 2124.6,1503.3" fill="#6a8fe8" stroke="none" stroke-width="1" fill-opacity="0.2"/>
</g>
<line x1="1837.5" y1="1253.3" x2="2412.5" y2="1253.3" stroke="#aaaaaa" stroke-width="1.2" />
<line x1="1837.5" y1="1303.4" x2="2412.5" y2="1303.4" stroke="#aaaaaa" stroke-width="1.2" />
<line x1="1837.5" y1="1353.2" x2="2412.5" y2="1353.2" stroke="#aaaaaa" stroke-width="1.2" />
<line x1="1837.5" y1="1403.3" x2="2412.5" y2="1403.3" stroke="#aaaaaa" stroke-width="1.2" />
<line x1="1837.5" y1="1453.5" x2="2412.5" y2="1453.5" stroke="#aaaaaa" stroke-width="1.2" />
<g clip-path="url(#sp0)" fill="none" stroke-linejoin="round">
<polyline points="1950.9,1201.6 1976.5,1212.9 1810.8,1221 1810.8,1230.7 1972.4,1243.9 1967,1253.3 1976.5,1263.5 1960.3,1272.9 1816.2,1283.7 1917.2,1293.2 1898.3,1303.4 1845.8,1322.8 1866,1333.6 1910.5,1342.5 1926.1,1351.6 1920.4,1363.2 1931.2,1372.6 1936.1,1382.6 1932.6,1392.8 1931.2,1403.3" fill="none" stroke="#ff0000" stroke-width="5.2" />
<polyline points="1931.2,1403.3 1975.1,1412.2 1971.1,1422.5 1939.3,1433.3 1961.7,1452.1 1957.6,1461.5 1936.1,1472.3 1965.7,1482.3 1928.8,1492.5 1968.4,1503.3" fill="none" stroke="#800080" stroke-width="5.2" />
</g>
<g clip-path="url(#sp1)" fill="none" stroke-linejoin="round">
<polyline points="1989.9,1201.6 1983.2,1220.4 1987.2,1233.9 1985.4,1243.9 2010.1,1263.5 1983.2,1283.2 1991.8,1303.4 2000.7,1313.4 2008.8,1344.3 2006.9,1363.2 2010.1,1382.1 2006.1,1394.2 1994,1403.3 1991.8,1412.2 1999.4,1423.8 2015.5,1453.5 2025,1462.9 2030.4,1481.7 2069.4,1491.2 2092.3,1502 2096.4,1503.3" fill="none" stroke="#f9ae25" stroke-width="3.6" />
<polyline points="1989.9,1201.6 1984.6,1220.4 1988.6,1233.9 1985.9,1243.9 2011.5,1263.5 1985.9,1283.2 1998,1303.4 2030.4,1322.8 2018.8,1344.3 2015.5,1363.2 2016.3,1382.1 2011.5,1394.2 1995.3,1403.3 1992.6,1412.2 2000.7,1423.8 2018.2,1453.5 2034.4,1472.3 2031.7,1481.7 2092.3,1492.5 2096.4,1503.3" fill="none" stroke="#707070" stroke-width="5.2" opacity="0.78"/>
<polyline points="1989.9,1201.6 1984.6,1220.4 1988.6,1233.9 1985.9,1243.9 2011.5,1263.5 1985.9,1283.2" fill="none" stroke="#8f6a1c" stroke-width="5.2" />
<polyline points="1995.3,1403.3 1992.6,1412.2 2000.7,1423.8 2018.2,1453.5 2034.4,1472.3 2031.7,1481.7" fill="none" stroke="#8f6a1c" stroke-width="5.2" />
</g>
<g clip-path="url(#sp2)" fill="none" stroke-linejoin="round">
<polyline points="2124.6,1314.7 2147.5,1332.2 2158.3,1341.7 2194.7,1403.3" fill="none" stroke="#fa2d2d" stroke-width="4.3" />
<polyline points="2194.7,1403.3 2193.4,1422.5 2204.1,1449.4 2216.3,1472.3 2230.5,1482.3 2228.4,1492.5 2192.8,1502" fill="none" stroke="#912d9b" stroke-width="4.3" />
</g>
<g clip-path="url(#sp3)" fill="none" stroke-linejoin="round">
<polygon points="2340.2,1365.9 2334.8,1374 2321.3,1383.4 2310.5,1394.2 2305.2,1403.6 2301.1,1413 2311.1,1423.8 2311.9,1462.9 2306.5,1472.3 2269.6,1481.2 2269.6,1495.2 2311.9,1500.6 2340.2,1502" fill="#80bfbf" stroke="none" stroke-width="1" />
<polygon points="2340.2,1365.9 2344.2,1384.8 2352.3,1403.6 2361.7,1415.7 2373.9,1423.8 2379.2,1444 2379.2,1462.9 2376,1472.3 2352.3,1487.1 2342.9,1493.9 2340.2,1502" fill="#ff9a3e" stroke="none" stroke-width="1" />
<line x1="2340.2" y1="1203.6" x2="2340.2" y2="1502" stroke="#1f77b4" stroke-width="1.8" stroke-dasharray="1.8 3"/>
</g>
<text x="1853.9" y="1303.4" font-size="15" fill="#111" font-weight="bold" textLength="37.4" lengthAdjust="spacingAndGlyphs" >2 km</text>
<text x="1853.9" y="1353.3" font-size="15" fill="#111" font-weight="bold" textLength="52" lengthAdjust="spacingAndGlyphs" >1.5 km</text>
<text x="1853.9" y="1403.4" font-size="15" fill="#111" font-weight="bold" textLength="37.4" lengthAdjust="spacingAndGlyphs" >1 km</text>
<text x="1853.9" y="1453.5" font-size="15" fill="#111" font-weight="bold" textLength="42.6" lengthAdjust="spacingAndGlyphs" >.5 km</text>
<text x="1846.5" y="1226.6" font-size="15.3" fill="#111" font-weight="bold" textLength="128" lengthAdjust="spacingAndGlyphs" >Streamwiseness</text>
<text x="1880.4" y="1242.8" font-size="15.3" fill="#111" font-weight="bold" textLength="60.1" lengthAdjust="spacingAndGlyphs" >of ζ (%)</text>
<text x="2011.8" y="1233.9" font-size="18.3" fill="#111" font-weight="bold" textLength="81.2" lengthAdjust="spacingAndGlyphs" >Total ζ &amp;</text>
<text x="1989.7" y="1251.4" font-size="18.3" fill="#111" font-weight="bold" textLength="125.6" lengthAdjust="spacingAndGlyphs" >Streamwise ζ</text>
<text x="2026.3" y="1268.9" font-size="18.3" fill="#111" font-weight="bold" textLength="52.2" lengthAdjust="spacingAndGlyphs" >(/sec)</text>
<text x="2125.9" y="1237.9" font-size="18.3" fill="#111" font-weight="bold" textLength="139.2" lengthAdjust="spacingAndGlyphs" >Storm Relative</text>
<text x="2146.8" y="1255.4" font-size="18.3" fill="#111" font-weight="bold" textLength="97.5" lengthAdjust="spacingAndGlyphs" >Wind (kts)</text>
<text x="2297.6" y="1233.9" font-size="18.3" fill="#111" font-weight="bold" textLength="85.2" lengthAdjust="spacingAndGlyphs" >Stepwise</text>
<text x="2286.8" y="1251.4" font-size="18.3" fill="#111" font-weight="bold" textLength="106.8" lengthAdjust="spacingAndGlyphs" >CIN &amp; CAPE</text>
<text x="2315" y="1268.9" font-size="18.3" fill="#111" font-weight="bold" textLength="50.3" lengthAdjust="spacingAndGlyphs" >(J/kg)</text>
<g clip-path="url(#sp2)">
<text x="2235.9" y="1260" font-size="15" fill="#111" font-weight="bold" textLength="39.5" lengthAdjust="spacingAndGlyphs" >-LFC-</text>
<text x="2234.3" y="1472.9" font-size="15" fill="#111" font-weight="bold" textLength="38.6" lengthAdjust="spacingAndGlyphs" >-LCL-</text>
</g>
<text x="1850.3" y="1496.6" font-size="15" fill="#7d7d7d" font-weight="bold" font-style="italic" textLength="18.9" lengthAdjust="spacingAndGlyphs" >50</text>
<line x1="1859.8" y1="1502" x2="1859.8" y2="1498" stroke="#000" stroke-width="1" />
<text x="1897" y="1496.6" font-size="15" fill="#7d7d7d" font-weight="bold" font-style="italic" textLength="18.9" lengthAdjust="spacingAndGlyphs" >70</text>
<line x1="1906.4" y1="1502" x2="1906.4" y2="1498" stroke="#000" stroke-width="1" />
<text x="1944.1" y="1496.6" font-size="15" fill="#7d7d7d" font-weight="bold" font-style="italic" textLength="18.9" lengthAdjust="spacingAndGlyphs" >90</text>
<line x1="1953.6" y1="1502" x2="1953.6" y2="1498" stroke="#000" stroke-width="1" />
<text x="1992.7" y="1496.6" font-size="15" fill="#7d7d7d" font-weight="bold" font-style="italic" textLength="24.1" lengthAdjust="spacingAndGlyphs" >.01</text>
<line x1="2004.8" y1="1502" x2="2004.8" y2="1498" stroke="#000" stroke-width="1" />
<text x="2041.2" y="1496.6" font-size="15" fill="#7d7d7d" font-weight="bold" font-style="italic" textLength="24.1" lengthAdjust="spacingAndGlyphs" >.03</text>
<line x1="2053.3" y1="1502" x2="2053.3" y2="1498" stroke="#000" stroke-width="1" />
<text x="2089.7" y="1496.6" font-size="15" fill="#7d7d7d" font-weight="bold" font-style="italic" textLength="24.1" lengthAdjust="spacingAndGlyphs" >.05</text>
<line x1="2101.7" y1="1502" x2="2101.7" y2="1498" stroke="#000" stroke-width="1" />
<text x="2150.2" y="1496.6" font-size="15" fill="#7d7d7d" font-weight="bold" font-style="italic" textLength="18.9" lengthAdjust="spacingAndGlyphs" >20</text>
<line x1="2159.7" y1="1502" x2="2159.7" y2="1498" stroke="#000" stroke-width="1" />
<text x="2186.6" y="1496.6" font-size="15" fill="#7d7d7d" font-weight="bold" font-style="italic" textLength="18.9" lengthAdjust="spacingAndGlyphs" >30</text>
<line x1="2196" y1="1502" x2="2196" y2="1498" stroke="#000" stroke-width="1" />
<text x="2224.3" y="1496.6" font-size="15" fill="#7d7d7d" font-weight="bold" font-style="italic" textLength="18.9" lengthAdjust="spacingAndGlyphs" >40</text>
<line x1="2233.8" y1="1502" x2="2233.8" y2="1498" stroke="#000" stroke-width="1" />
<line x1="2292.5" y1="1502" x2="2292.5" y2="1498" stroke="#000" stroke-width="1" />
<text x="2279.5" y="1501.9" font-size="15" fill="#7d7d7d" font-weight="bold" font-style="italic" transform="rotate(-45 2279.5 1501.9)" textLength="34" lengthAdjust="spacingAndGlyphs" >-200</text>
<line x1="2316.5" y1="1502" x2="2316.5" y2="1498" stroke="#000" stroke-width="1" />
<text x="2303.4" y="1501.9" font-size="15" fill="#7d7d7d" font-weight="bold" font-style="italic" transform="rotate(-45 2303.4 1501.9)" textLength="34" lengthAdjust="spacingAndGlyphs" >-100</text>
<line x1="2340.2" y1="1502" x2="2340.2" y2="1498" stroke="#000" stroke-width="1" />
<text x="2335.8" y="1493.2" font-size="15" fill="#7d7d7d" font-weight="bold" font-style="italic" transform="rotate(-45 2335.8 1493.2)" >0</text>
<line x1="2364.4" y1="1502" x2="2364.4" y2="1498" stroke="#000" stroke-width="1" />
<text x="2356.4" y="1496.9" font-size="15" fill="#7d7d7d" font-weight="bold" font-style="italic" transform="rotate(-45 2356.4 1496.9)" textLength="20" lengthAdjust="spacingAndGlyphs" >1K</text>
<line x1="2388.7" y1="1502" x2="2388.7" y2="1498" stroke="#000" stroke-width="1" />
<text x="2380.6" y="1496.9" font-size="15" fill="#7d7d7d" font-weight="bold" font-style="italic" transform="rotate(-45 2380.6 1496.9)" textLength="20" lengthAdjust="spacingAndGlyphs" >2K</text>
<rect x="1837.5" y="1203.6" width="143" height="298.4" fill="none" stroke="#000" stroke-width="1.4" />
<rect x="1980.5" y="1203.6" width="144.1" height="298.4" fill="none" stroke="#000" stroke-width="1.4" />
<rect x="2124.6" y="1203.6" width="145" height="298.4" fill="none" stroke="#000" stroke-width="1.4" />
<rect x="2269.6" y="1203.6" width="142.9" height="298.4" fill="none" stroke="#000" stroke-width="1.4" />
<line x1="31.4" y1="424.4" x2="36.4" y2="424.4" stroke="#000" stroke-width="1.2" />
<text x="41.3" y="430.6" font-size="18.7" fill="#000" font-weight="bold" textLength="35.5" lengthAdjust="spacingAndGlyphs" >200</text>
<line x1="31.4" y1="614.9" x2="36.4" y2="614.9" stroke="#000" stroke-width="1.2" />
<text x="41.3" y="621.1" font-size="18.7" fill="#000" font-weight="bold" textLength="35.5" lengthAdjust="spacingAndGlyphs" >300</text>
<line x1="31.4" y1="750.1" x2="36.4" y2="750.1" stroke="#000" stroke-width="1.2" />
<text x="41.3" y="756.3" font-size="18.7" fill="#000" font-weight="bold" textLength="35.5" lengthAdjust="spacingAndGlyphs" >400</text>
<line x1="31.4" y1="855" x2="36.4" y2="855" stroke="#000" stroke-width="1.2" />
<text x="41.3" y="861.2" font-size="18.7" fill="#000" font-weight="bold" textLength="35.5" lengthAdjust="spacingAndGlyphs" >500</text>
<line x1="31.4" y1="940.6" x2="36.4" y2="940.6" stroke="#000" stroke-width="1.2" />
<text x="41.3" y="946.8" font-size="18.7" fill="#000" font-weight="bold" textLength="35.5" lengthAdjust="spacingAndGlyphs" >600</text>
<line x1="31.4" y1="1013.1" x2="36.4" y2="1013.1" stroke="#000" stroke-width="1.2" />
<text x="41.3" y="1019.3" font-size="18.7" fill="#000" font-weight="bold" textLength="35.5" lengthAdjust="spacingAndGlyphs" >700</text>
<line x1="31.4" y1="1075.8" x2="36.4" y2="1075.8" stroke="#000" stroke-width="1.2" />
<text x="41.3" y="1082" font-size="18.7" fill="#000" font-weight="bold" textLength="35.5" lengthAdjust="spacingAndGlyphs" >800</text>
<line x1="31.4" y1="1131.2" x2="36.4" y2="1131.2" stroke="#000" stroke-width="1.2" />
<text x="41.3" y="1137.4" font-size="18.7" fill="#000" font-weight="bold" textLength="35.5" lengthAdjust="spacingAndGlyphs" >900</text>
<line x1="31.4" y1="1180.7" x2="36.4" y2="1180.7" stroke="#000" stroke-width="1.2" />
<text x="41.3" y="1186.9" font-size="18.7" fill="#000" font-weight="bold" textLength="47.3" lengthAdjust="spacingAndGlyphs" >1000</text>
<line x1="129.5" y1="1203.6" x2="129.5" y2="1198.6" stroke="#000" stroke-width="1.2" />
<text x="110.5" y="1199.6" font-size="18.7" fill="#000" font-weight="bold" textLength="37.9" lengthAdjust="spacingAndGlyphs" >−30</text>
<line x1="263.7" y1="1203.6" x2="263.7" y2="1198.6" stroke="#000" stroke-width="1.2" />
<text x="244.7" y="1199.6" font-size="18.7" fill="#000" font-weight="bold" textLength="37.9" lengthAdjust="spacingAndGlyphs" >−20</text>
<line x1="397.9" y1="1203.6" x2="397.9" y2="1198.6" stroke="#000" stroke-width="1.2" />
<text x="378.9" y="1199.6" font-size="18.7" fill="#000" font-weight="bold" textLength="37.9" lengthAdjust="spacingAndGlyphs" >−10</text>
<line x1="532.1" y1="1203.6" x2="532.1" y2="1198.6" stroke="#000" stroke-width="1.2" />
<text x="526.2" y="1199.6" font-size="18.7" fill="#000" font-weight="bold" >0</text>
<line x1="666.3" y1="1203.6" x2="666.3" y2="1198.6" stroke="#000" stroke-width="1.2" />
<text x="654.5" y="1199.6" font-size="18.7" fill="#000" font-weight="bold" textLength="23.7" lengthAdjust="spacingAndGlyphs" >10</text>
<line x1="800.5" y1="1203.6" x2="800.5" y2="1198.6" stroke="#000" stroke-width="1.2" />
<text x="788.7" y="1199.6" font-size="18.7" fill="#000" font-weight="bold" textLength="23.7" lengthAdjust="spacingAndGlyphs" >20</text>
<line x1="934.7" y1="1203.6" x2="934.7" y2="1198.6" stroke="#000" stroke-width="1.2" />
<text x="922.9" y="1199.6" font-size="18.7" fill="#000" font-weight="bold" textLength="23.7" lengthAdjust="spacingAndGlyphs" >30</text>
<line x1="1068.9" y1="1203.6" x2="1068.9" y2="1198.6" stroke="#000" stroke-width="1.2" />
<text x="1057.1" y="1199.6" font-size="18.7" fill="#000" font-weight="bold" textLength="23.7" lengthAdjust="spacingAndGlyphs" >40</text>
<line x1="1203.1" y1="1203.6" x2="1203.1" y2="1198.6" stroke="#000" stroke-width="1.2" />
<text x="1191.3" y="1199.6" font-size="18.7" fill="#000" font-weight="bold" textLength="23.7" lengthAdjust="spacingAndGlyphs" >50</text>
<rect x="31.4" y="98.5" width="1269.8" height="1105.1" fill="none" stroke="#000" stroke-width="1.3" />
</svg>
</body></html>
